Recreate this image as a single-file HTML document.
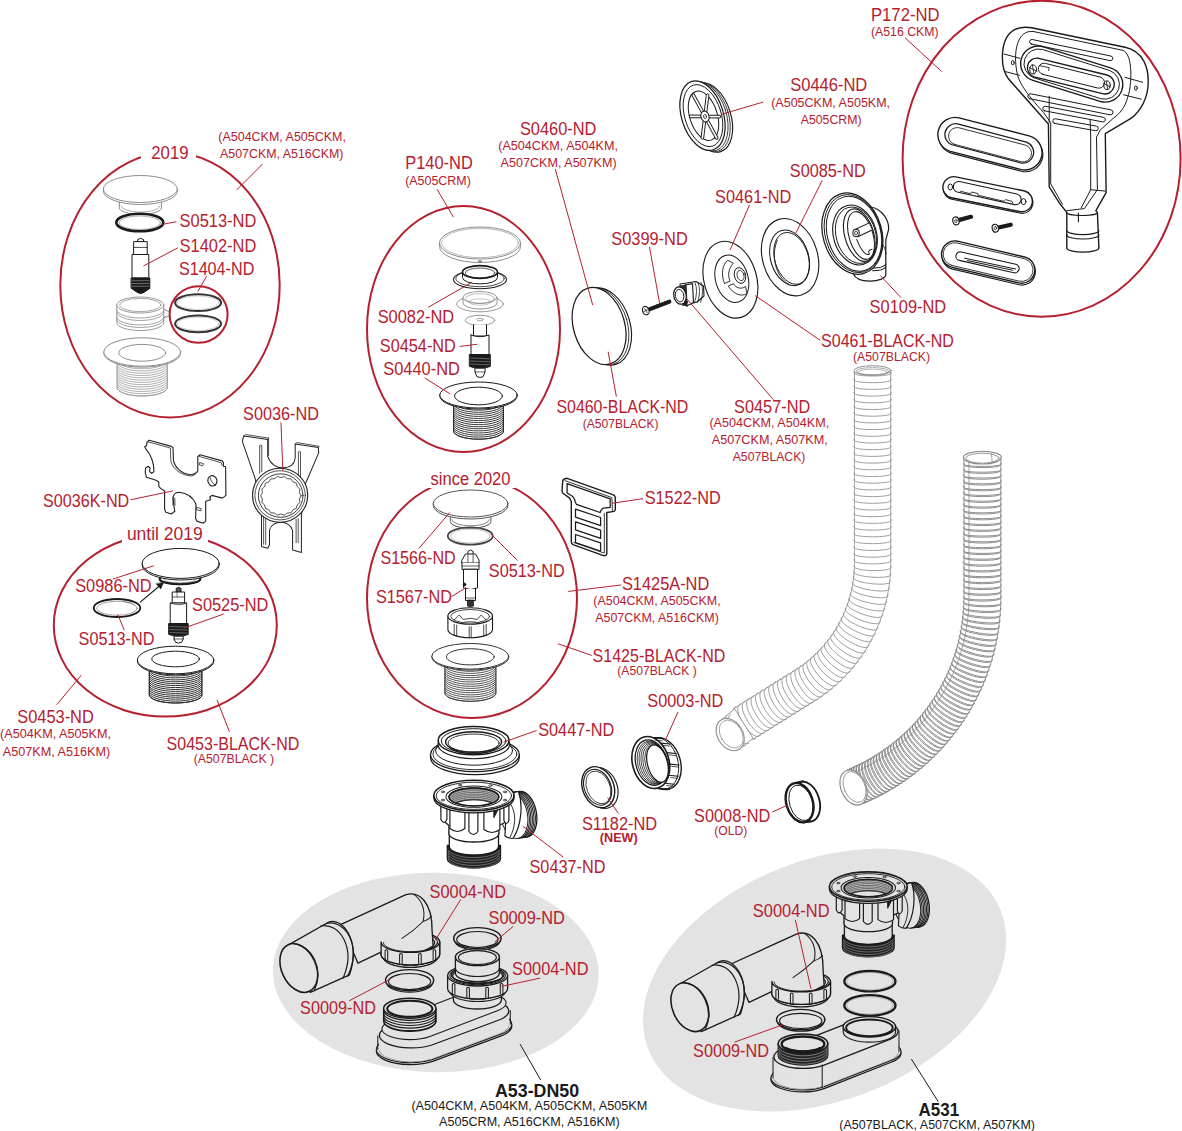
<!DOCTYPE html>
<html><head><meta charset="utf-8"><title>Exploded diagram</title>
<style>
html,body{margin:0;padding:0;background:#fff;}
body{width:1182px;height:1131px;overflow:hidden;font-family:"Liberation Sans",sans-serif;}
svg{display:block;font-family:"Liberation Sans",sans-serif;}
svg path, svg ellipse, svg line{stroke-linecap:round;stroke-linejoin:round;}
</style></head><body>
<svg width="1182" height="1131" viewBox="0 0 1182 1131">
<rect x="0" y="0" width="1182" height="1131" fill="#fff"/>
<ellipse cx="435.8" cy="972.5" rx="163" ry="99.7" stroke="none" stroke-width="0.0" fill="#e3e3e3" transform="rotate(1 435.8 972.5)"/>
<ellipse cx="824.6" cy="980.1" rx="189.3" ry="120.2" stroke="none" stroke-width="0.0" fill="#e3e3e3" transform="rotate(-21.4 824.6 980.1)"/>
<ellipse cx="170" cy="285" rx="109.7" ry="132.5" stroke="#b5202e" stroke-width="2.0" fill="none"/>
<rect x="141" y="145" width="55" height="18" fill="#fff"/>
<ellipse cx="198.6" cy="314.5" rx="29" ry="28.2" stroke="#b5202e" stroke-width="2.0" fill="none"/>
<ellipse cx="463.5" cy="329" rx="96.5" ry="123" stroke="#b5202e" stroke-width="2.0" fill="none"/>
<ellipse cx="472" cy="598" rx="105" ry="120" stroke="#b5202e" stroke-width="2.0" fill="none"/>
<rect x="426" y="470" width="89" height="18" fill="#fff"/>
<ellipse cx="165.3" cy="625.2" rx="111.5" ry="91.4" stroke="#b5202e" stroke-width="2.0" fill="none"/>
<rect x="122" y="527" width="86" height="18" fill="#fff"/>
<ellipse cx="1041.6" cy="158.7" rx="139" ry="158" stroke="#b5202e" stroke-width="2.0" fill="none"/>
<path d="M119.4 197.1 L119.4 207.8 A21 6.7 0 0 0 161.4 207.8 L161.4 197.1 Z" stroke="#8c8c8c" stroke-width="1.0" fill="#fff"/>
<path d="M120.9 205.8 A19.5 6.3 0 0 0 159.9 205.8" stroke="#8c8c8c" stroke-width="0.7" fill="none"/>
<path d="M103.4 189 L103.4 191 A37 13.5 0 0 0 177.4 191 L177.4 189 Z" stroke="#8c8c8c" stroke-width="1.0" fill="#fff"/>
<ellipse cx="140.4" cy="189" rx="37" ry="13.5" stroke="#8c8c8c" stroke-width="1.0" fill="#fff"/>
<ellipse cx="139.8" cy="222.5" rx="23.5" ry="8.8" stroke="#1a1a1a" stroke-width="2.6" fill="none"/>
<ellipse cx="139.8" cy="222.7" rx="20.5" ry="6.8" stroke="#777" stroke-width="0.6" fill="none"/>
<path d="M137.6 241.6 L137.6 239.6 Q140.6 237.1 143.6 239.6 L143.6 241.6 Z" stroke="#1a1a1a" stroke-width="1.0" fill="#fff"/>
<path d="M134 241.6 L147.2 241.6 L147.2 254.5 L134 254.5 Z" stroke="#1a1a1a" stroke-width="1.0" fill="#fff"/>
<line x1="134" y1="247.4" x2="147.2" y2="247.4" stroke="#1a1a1a" stroke-width="0.8"/>
<path d="M132.4 254.5 L148.8 254.5 L148.8 278 L132.4 278 Z" stroke="#1a1a1a" stroke-width="1.0" fill="#fff"/>
<path d="M131.4 278 L149.8 278 L149.8 288.4 L144.1 292.3 Q140.6 294.8 137.1 292.3 L131.4 288.4 Z" stroke="#1a1a1a" stroke-width="1.0" fill="#1a1a1a"/>
<line x1="132.4" y1="280.7" x2="148.8" y2="280.7" stroke="#bbb" stroke-width="0.5"/>
<line x1="132.4" y1="283.5" x2="148.8" y2="283.5" stroke="#bbb" stroke-width="0.5"/>
<line x1="132.4" y1="286.2" x2="148.8" y2="286.2" stroke="#bbb" stroke-width="0.5"/>
<path d="M116.8 305 L116.8 322.5 A23.5 8 0 0 0 163.8 322.5 L163.8 305 Z" stroke="#8c8c8c" stroke-width="0.9" fill="#fff"/>
<path d="M116.8 310 A23.5 8 0 0 0 163.8 310" stroke="#8c8c8c" stroke-width="0.8" fill="none"/>
<path d="M116.8 312.5 A23.5 8 0 0 0 163.8 312.5" stroke="#8c8c8c" stroke-width="0.8" fill="none"/>
<path d="M116.8 317 A23.5 8 0 0 0 163.8 317" stroke="#8c8c8c" stroke-width="0.8" fill="none"/>
<path d="M116.8 319.5 A23.5 8 0 0 0 163.8 319.5" stroke="#8c8c8c" stroke-width="0.8" fill="none"/>
<ellipse cx="140.3" cy="305" rx="23.5" ry="8" stroke="#8c8c8c" stroke-width="0.9" fill="#fff"/>
<ellipse cx="140.3" cy="305" rx="20.5" ry="6.6" stroke="#8c8c8c" stroke-width="0.8" fill="#fff"/>
<line x1="164" y1="309" x2="170" y2="312.5" stroke="#555" stroke-width="0.7"/>
<line x1="164" y1="317.5" x2="170" y2="316" stroke="#555" stroke-width="0.7"/>
<ellipse cx="198.1" cy="302.7" rx="23" ry="8.4" stroke="#333" stroke-width="2.0" fill="none"/>
<ellipse cx="198.1" cy="302.7" rx="20.6" ry="6.8" stroke="#999" stroke-width="0.5" fill="none"/>
<ellipse cx="198.1" cy="323.8" rx="23" ry="8.4" stroke="#333" stroke-width="2.0" fill="none"/>
<ellipse cx="198.1" cy="323.8" rx="20.6" ry="6.8" stroke="#999" stroke-width="0.5" fill="none"/>
<path d="M117 358 L117 387.5 A25.2 8.5 0 0 0 167.4 387.5 L167.4 358 Z" stroke="#8c8c8c" stroke-width="0.7" fill="#fff"/>
<path d="M117 358 A25.2 8.5 0 0 0 167.4 358" stroke="#8c8c8c" stroke-width="0.7" fill="none"/>
<path d="M117 360.3 A25.2 8.5 0 0 0 167.4 360.3" stroke="#8c8c8c" stroke-width="0.7" fill="none"/>
<path d="M117 362.5 A25.2 8.5 0 0 0 167.4 362.5" stroke="#8c8c8c" stroke-width="0.7" fill="none"/>
<path d="M117 364.8 A25.2 8.5 0 0 0 167.4 364.8" stroke="#8c8c8c" stroke-width="0.7" fill="none"/>
<path d="M117 367.1 A25.2 8.5 0 0 0 167.4 367.1" stroke="#8c8c8c" stroke-width="0.7" fill="none"/>
<path d="M117 369.3 A25.2 8.5 0 0 0 167.4 369.3" stroke="#8c8c8c" stroke-width="0.7" fill="none"/>
<path d="M117 371.6 A25.2 8.5 0 0 0 167.4 371.6" stroke="#8c8c8c" stroke-width="0.7" fill="none"/>
<path d="M117 373.9 A25.2 8.5 0 0 0 167.4 373.9" stroke="#8c8c8c" stroke-width="0.7" fill="none"/>
<path d="M117 376.2 A25.2 8.5 0 0 0 167.4 376.2" stroke="#8c8c8c" stroke-width="0.7" fill="none"/>
<path d="M117 378.4 A25.2 8.5 0 0 0 167.4 378.4" stroke="#8c8c8c" stroke-width="0.7" fill="none"/>
<path d="M117 380.7 A25.2 8.5 0 0 0 167.4 380.7" stroke="#8c8c8c" stroke-width="0.7" fill="none"/>
<path d="M117 383 A25.2 8.5 0 0 0 167.4 383" stroke="#8c8c8c" stroke-width="0.7" fill="none"/>
<path d="M117 385.2 A25.2 8.5 0 0 0 167.4 385.2" stroke="#8c8c8c" stroke-width="0.7" fill="none"/>
<path d="M117 387.5 A25.2 8.5 0 0 0 167.4 387.5" stroke="#8c8c8c" stroke-width="0.7" fill="none"/>
<path d="M103.8 352 L103.8 353 A38.4 14.2 0 0 0 180.6 353 L180.6 352 Z" stroke="#8c8c8c" stroke-width="1.0" fill="#fff"/>
<ellipse cx="142.2" cy="352" rx="38.4" ry="14.2" stroke="#8c8c8c" stroke-width="1.0" fill="#fff"/>
<ellipse cx="142.2" cy="352.8" rx="23.4" ry="8.4" stroke="#8c8c8c" stroke-width="1.0" fill="#fff"/>
<path d="M439.5 243 L439.5 246.5 A40.5 16 0 0 0 520.5 246.5 L520.5 243 Z" stroke="#8c8c8c" stroke-width="1.0" fill="#fff"/>
<ellipse cx="480" cy="243" rx="40.5" ry="16" stroke="#8c8c8c" stroke-width="1.0" fill="#fff"/>
<ellipse cx="480" cy="243" rx="38.3" ry="14.6" stroke="#8c8c8c" stroke-width="0.6" fill="none"/>
<ellipse cx="480" cy="261.5" rx="1.6" ry="1" stroke="#777" stroke-width="0.8" fill="#999"/>
<ellipse cx="480" cy="279.5" rx="26.5" ry="9.2" stroke="#1a1a1a" stroke-width="1.1" fill="#fff"/>
<ellipse cx="480" cy="278.5" rx="24.2" ry="8.2" stroke="#1a1a1a" stroke-width="0.8" fill="none"/>
<path d="M462.5 272 L462.5 277.5 A17.5 6.4 0 0 0 497.5 277.5 L497.5 272 Z" stroke="#1a1a1a" stroke-width="1.0" fill="#fff"/>
<ellipse cx="480" cy="272" rx="17.5" ry="6.4" stroke="#1a1a1a" stroke-width="1.6" fill="#fff"/>
<ellipse cx="480" cy="273" rx="14.8" ry="5" stroke="#1a1a1a" stroke-width="0.7" fill="none"/>
<ellipse cx="480" cy="304" rx="23.3" ry="7.8" stroke="#8c8c8c" stroke-width="0.9" fill="#fff"/>
<path d="M463 297.5 L463 303 A17 6 0 0 0 497 303 L497 297.5 Z" stroke="#8c8c8c" stroke-width="0.9" fill="#fff"/>
<ellipse cx="480" cy="297.5" rx="17" ry="6" stroke="#8c8c8c" stroke-width="0.9" fill="#fff"/>
<ellipse cx="480" cy="298.5" rx="14.5" ry="4.8" stroke="#8c8c8c" stroke-width="0.6" fill="none"/>
<ellipse cx="480" cy="302" rx="11" ry="3.2" stroke="#8c8c8c" stroke-width="0.5" fill="none"/>
<ellipse cx="480" cy="320.3" rx="14.8" ry="5" stroke="#8c8c8c" stroke-width="0.9" fill="#fff"/>
<ellipse cx="480" cy="319.6" rx="3.4" ry="1.3" stroke="#8c8c8c" stroke-width="0.8" fill="none"/>
<path d="M473.5 325 L473.5 336 L486.5 336 L486.5 325" stroke="#1a1a1a" stroke-width="1.0" fill="#fff"/>
<path d="M471 335 L471 355 L489 355 L489 335 Q480 338.5 471 335 Z" stroke="#1a1a1a" stroke-width="1.0" fill="#fff"/>
<path d="M469.7 354.5 L490.3 354.5 L490.3 366.5 Q480 370 469.7 366.5 Z" stroke="#1a1a1a" stroke-width="1.0" fill="#1a1a1a"/>
<line x1="470.5" y1="358" x2="489.5" y2="358.8" stroke="#aaa" stroke-width="0.5"/>
<line x1="470.5" y1="361" x2="489.5" y2="361.8" stroke="#aaa" stroke-width="0.5"/>
<line x1="470.5" y1="364" x2="489.5" y2="364.8" stroke="#aaa" stroke-width="0.5"/>
<path d="M475 368.5 L475 372 L476.8 376.5 Q480 378.5 483.2 376.5 L485 372 L485 368.5 Z" stroke="#1a1a1a" stroke-width="1.0" fill="#fff"/>
<line x1="475" y1="372" x2="485" y2="372" stroke="#1a1a1a" stroke-width="0.7"/>
<path d="M453.5 402 L453.5 431 A25 8.2 0 0 0 503.5 431 L503.5 402 Z" stroke="#222" stroke-width="0.9" fill="#fff"/>
<path d="M453.5 402 A25 8.2 0 0 0 503.5 402" stroke="#222" stroke-width="0.9" fill="none"/>
<path d="M453.5 404.1 A25 8.2 0 0 0 503.5 404.1" stroke="#222" stroke-width="0.9" fill="none"/>
<path d="M453.5 406.1 A25 8.2 0 0 0 503.5 406.1" stroke="#222" stroke-width="0.9" fill="none"/>
<path d="M453.5 408.2 A25 8.2 0 0 0 503.5 408.2" stroke="#222" stroke-width="0.9" fill="none"/>
<path d="M453.5 410.3 A25 8.2 0 0 0 503.5 410.3" stroke="#222" stroke-width="0.9" fill="none"/>
<path d="M453.5 412.4 A25 8.2 0 0 0 503.5 412.4" stroke="#222" stroke-width="0.9" fill="none"/>
<path d="M453.5 414.4 A25 8.2 0 0 0 503.5 414.4" stroke="#222" stroke-width="0.9" fill="none"/>
<path d="M453.5 416.5 A25 8.2 0 0 0 503.5 416.5" stroke="#222" stroke-width="0.9" fill="none"/>
<path d="M453.5 418.6 A25 8.2 0 0 0 503.5 418.6" stroke="#222" stroke-width="0.9" fill="none"/>
<path d="M453.5 420.6 A25 8.2 0 0 0 503.5 420.6" stroke="#222" stroke-width="0.9" fill="none"/>
<path d="M453.5 422.7 A25 8.2 0 0 0 503.5 422.7" stroke="#222" stroke-width="0.9" fill="none"/>
<path d="M453.5 424.8 A25 8.2 0 0 0 503.5 424.8" stroke="#222" stroke-width="0.9" fill="none"/>
<path d="M453.5 426.9 A25 8.2 0 0 0 503.5 426.9" stroke="#222" stroke-width="0.9" fill="none"/>
<path d="M453.5 428.9 A25 8.2 0 0 0 503.5 428.9" stroke="#222" stroke-width="0.9" fill="none"/>
<path d="M453.5 431 A25 8.2 0 0 0 503.5 431" stroke="#222" stroke-width="0.9" fill="none"/>
<path d="M439.8 395 L439.8 396 A38.7 13 0 0 0 517.2 396 L517.2 395 Z" stroke="#1a1a1a" stroke-width="1.0" fill="#fff"/>
<ellipse cx="478.5" cy="395" rx="38.7" ry="13" stroke="#1a1a1a" stroke-width="1.0" fill="#fff"/>
<ellipse cx="478.5" cy="396" rx="23.9" ry="8.8" stroke="#1a1a1a" stroke-width="1.0" fill="#fff"/>
<path d="M450.3 511.6 L450.3 521.7 A20.3 6.5 0 0 0 490.9 521.7 L490.9 511.6 Z" stroke="#555" stroke-width="1.0" fill="#fff"/>
<path d="M451.8 519.7 A18.8 6.1 0 0 0 489.4 519.7" stroke="#555" stroke-width="0.7" fill="none"/>
<path d="M433.3 503.5 L433.3 505.5 A37.3 13.5 0 0 0 507.9 505.5 L507.9 503.5 Z" stroke="#555" stroke-width="1.0" fill="#fff"/>
<ellipse cx="470.6" cy="503.5" rx="37.3" ry="13.5" stroke="#555" stroke-width="1.0" fill="#fff"/>
<ellipse cx="470.3" cy="536" rx="22.5" ry="8.6" stroke="#444" stroke-width="1.7" fill="none"/>
<ellipse cx="470.3" cy="536" rx="20" ry="7" stroke="#888" stroke-width="0.5" fill="none"/>
<path d="M467.9 556 L467.9 551.5 Q470.5 548.5 473.1 551.5 L473.1 556 Z" stroke="#1a1a1a" stroke-width="1.0" fill="#fff"/>
<path d="M462 560 L465.5 554 L475.5 554 L479 560 L479 563 L462 563 Z" stroke="#1a1a1a" stroke-width="1.0" fill="#fff"/>
<line x1="467.9" y1="555" x2="467.9" y2="562" stroke="#1a1a1a" stroke-width="0.7"/>
<line x1="473.1" y1="555" x2="473.1" y2="562" stroke="#1a1a1a" stroke-width="0.7"/>
<path d="M462 563 L462 569.5 L479 569.5 L479 563" stroke="#1a1a1a" stroke-width="1.0" fill="#fff"/>
<line x1="462" y1="566" x2="479" y2="566" stroke="#1a1a1a" stroke-width="0.7"/>
<path d="M463.5 569.5 L463.5 588 Q470.5 591 477.5 588 L477.5 569.5 Z" stroke="#1a1a1a" stroke-width="1.0" fill="#fff"/>
<ellipse cx="464.5" cy="584.5" rx="1.3" ry="1.6" stroke="#1a1a1a" stroke-width="0.8" fill="#1a1a1a"/>
<path d="M465.5 589 L465.5 600.5 L475.5 600.5 L475.5 589" stroke="#1a1a1a" stroke-width="1.0" fill="#fff"/>
<line x1="465.5" y1="598" x2="475.5" y2="598" stroke="#1a1a1a" stroke-width="0.7"/>
<path d="M467.5 600.5 L467.5 606 Q470.5 607.5 473.5 606 L473.5 600.5 Z" stroke="#1a1a1a" stroke-width="0.8" fill="#333"/>
<path d="M447.9 616 L447.9 629.5 A22.3 8.3 0 0 0 492.5 629.5 L492.5 616 Z" stroke="#1a1a1a" stroke-width="1.1" fill="#fff"/>
<ellipse cx="470.2" cy="616" rx="22.3" ry="8.3" stroke="#1a1a1a" stroke-width="1.1" fill="#fff"/>
<ellipse cx="470.2" cy="616.3" rx="19.5" ry="6.8" stroke="#1a1a1a" stroke-width="0.8" fill="none"/>
<path d="M454.2 620 L459.2 615 L463.2 619.5 Q470.2 617 477.2 619.5 L481.2 615 L486.2 620" stroke="#1a1a1a" stroke-width="0.8" fill="none"/>
<path d="M461.2 623 Q470.2 620 479.2 623" stroke="#1a1a1a" stroke-width="0.6" fill="none"/>
<line x1="454.2" y1="624.3" x2="454.2" y2="635.3" stroke="#1a1a1a" stroke-width="0.8"/>
<line x1="456.7" y1="625.1" x2="456.7" y2="636.1" stroke="#1a1a1a" stroke-width="0.8"/>
<line x1="469.2" y1="626.8" x2="469.2" y2="637.8" stroke="#1a1a1a" stroke-width="0.8"/>
<line x1="471.2" y1="626.8" x2="471.2" y2="637.8" stroke="#1a1a1a" stroke-width="0.8"/>
<line x1="483.7" y1="625.1" x2="483.7" y2="636.1" stroke="#1a1a1a" stroke-width="0.8"/>
<line x1="486.2" y1="624.3" x2="486.2" y2="635.3" stroke="#1a1a1a" stroke-width="0.8"/>
<path d="M444.8 663 L444.8 693 A25.6 8.3 0 0 0 496 693 L496 663 Z" stroke="#333" stroke-width="0.85" fill="#fff"/>
<path d="M444.8 663 A25.6 8.3 0 0 0 496 663" stroke="#333" stroke-width="0.85" fill="none"/>
<path d="M444.8 665.1 A25.6 8.3 0 0 0 496 665.1" stroke="#333" stroke-width="0.85" fill="none"/>
<path d="M444.8 667.3 A25.6 8.3 0 0 0 496 667.3" stroke="#333" stroke-width="0.85" fill="none"/>
<path d="M444.8 669.4 A25.6 8.3 0 0 0 496 669.4" stroke="#333" stroke-width="0.85" fill="none"/>
<path d="M444.8 671.6 A25.6 8.3 0 0 0 496 671.6" stroke="#333" stroke-width="0.85" fill="none"/>
<path d="M444.8 673.7 A25.6 8.3 0 0 0 496 673.7" stroke="#333" stroke-width="0.85" fill="none"/>
<path d="M444.8 675.9 A25.6 8.3 0 0 0 496 675.9" stroke="#333" stroke-width="0.85" fill="none"/>
<path d="M444.8 678 A25.6 8.3 0 0 0 496 678" stroke="#333" stroke-width="0.85" fill="none"/>
<path d="M444.8 680.1 A25.6 8.3 0 0 0 496 680.1" stroke="#333" stroke-width="0.85" fill="none"/>
<path d="M444.8 682.3 A25.6 8.3 0 0 0 496 682.3" stroke="#333" stroke-width="0.85" fill="none"/>
<path d="M444.8 684.4 A25.6 8.3 0 0 0 496 684.4" stroke="#333" stroke-width="0.85" fill="none"/>
<path d="M444.8 686.6 A25.6 8.3 0 0 0 496 686.6" stroke="#333" stroke-width="0.85" fill="none"/>
<path d="M444.8 688.7 A25.6 8.3 0 0 0 496 688.7" stroke="#333" stroke-width="0.85" fill="none"/>
<path d="M444.8 690.9 A25.6 8.3 0 0 0 496 690.9" stroke="#333" stroke-width="0.85" fill="none"/>
<path d="M444.8 693 A25.6 8.3 0 0 0 496 693" stroke="#333" stroke-width="0.85" fill="none"/>
<path d="M431.9 656.3 L431.9 657.3 A38.4 12.8 0 0 0 508.7 657.3 L508.7 656.3 Z" stroke="#333" stroke-width="1.0" fill="#fff"/>
<ellipse cx="470.3" cy="656.3" rx="38.4" ry="12.8" stroke="#333" stroke-width="1.0" fill="#fff"/>
<ellipse cx="470.3" cy="656.8" rx="23.9" ry="8.1" stroke="#333" stroke-width="1.0" fill="#fff"/>
<ellipse cx="180" cy="579" rx="20.3" ry="5.2" stroke="#1a1a1a" stroke-width="2.2" fill="#fff"/>
<ellipse cx="180" cy="579.5" rx="16" ry="3.4" stroke="#777" stroke-width="0.6" fill="none"/>
<path d="M142.2 563.4 L142.2 565 A38.5 15 0 0 0 219.2 565 L219.2 563.4 Z" stroke="#1a1a1a" stroke-width="1.0" fill="#fff"/>
<ellipse cx="180.7" cy="563.4" rx="38.5" ry="15" stroke="#1a1a1a" stroke-width="1.0" fill="#fff"/>
<ellipse cx="117" cy="608" rx="23.3" ry="9" stroke="#1a1a1a" stroke-width="1.8" fill="#fff"/>
<ellipse cx="117" cy="608.3" rx="20.3" ry="7" stroke="#666" stroke-width="0.6" fill="none"/>
<path d="M124 601.5 L131.5 603 L134 604.8" stroke="#555" stroke-width="0.6" fill="none"/>
<path d="M176.2 592 L176.2 588.5 Q178.6 586 181 588.5 L181 592 Z" stroke="#1a1a1a" stroke-width="1.0" fill="#555"/>
<path d="M172.6 592 L184.6 592 L184.6 603 L172.6 603 Z" stroke="#1a1a1a" stroke-width="1.0" fill="#fff"/>
<line x1="172.6" y1="597" x2="184.6" y2="597" stroke="#1a1a1a" stroke-width="0.7"/>
<line x1="177.1" y1="592" x2="177.1" y2="597" stroke="#1a1a1a" stroke-width="0.6"/>
<path d="M170.6 603 L186.6 603 L186.6 623.5 L170.6 623.5 Z" stroke="#1a1a1a" stroke-width="1.0" fill="#fff"/>
<path d="M170.6 603 Q178.6 606.5 186.6 603" stroke="#1a1a1a" stroke-width="0.7" fill="none"/>
<path d="M169 623.5 L188.2 623.5 L188.2 634.5 Q178.6 638 169 634.5 Z" stroke="#1a1a1a" stroke-width="1.0" fill="#1a1a1a"/>
<line x1="169.8" y1="626.5" x2="187.4" y2="627.1" stroke="#aaa" stroke-width="0.5"/>
<line x1="169.8" y1="629.5" x2="187.4" y2="630.1" stroke="#aaa" stroke-width="0.5"/>
<line x1="169.8" y1="632.5" x2="187.4" y2="633.1" stroke="#aaa" stroke-width="0.5"/>
<path d="M174 636.5 L174 639 L175.6 642.3 Q178.6 643.8 181.6 642.3 L183.2 639 L183.2 636.5 Z" stroke="#1a1a1a" stroke-width="1.0" fill="#fff"/>
<line x1="174" y1="639" x2="183.2" y2="639" stroke="#1a1a1a" stroke-width="0.7"/>
<path d="M149.2 668 L149.2 695 A26.4 8 0 0 0 202 695 L202 668 Z" stroke="#222" stroke-width="0.95" fill="#fff"/>
<path d="M149.2 668 A26.4 8 0 0 0 202 668" stroke="#222" stroke-width="0.95" fill="none"/>
<path d="M149.2 669.9 A26.4 8 0 0 0 202 669.9" stroke="#222" stroke-width="0.95" fill="none"/>
<path d="M149.2 671.9 A26.4 8 0 0 0 202 671.9" stroke="#222" stroke-width="0.95" fill="none"/>
<path d="M149.2 673.8 A26.4 8 0 0 0 202 673.8" stroke="#222" stroke-width="0.95" fill="none"/>
<path d="M149.2 675.7 A26.4 8 0 0 0 202 675.7" stroke="#222" stroke-width="0.95" fill="none"/>
<path d="M149.2 677.6 A26.4 8 0 0 0 202 677.6" stroke="#222" stroke-width="0.95" fill="none"/>
<path d="M149.2 679.6 A26.4 8 0 0 0 202 679.6" stroke="#222" stroke-width="0.95" fill="none"/>
<path d="M149.2 681.5 A26.4 8 0 0 0 202 681.5" stroke="#222" stroke-width="0.95" fill="none"/>
<path d="M149.2 683.4 A26.4 8 0 0 0 202 683.4" stroke="#222" stroke-width="0.95" fill="none"/>
<path d="M149.2 685.4 A26.4 8 0 0 0 202 685.4" stroke="#222" stroke-width="0.95" fill="none"/>
<path d="M149.2 687.3 A26.4 8 0 0 0 202 687.3" stroke="#222" stroke-width="0.95" fill="none"/>
<path d="M149.2 689.2 A26.4 8 0 0 0 202 689.2" stroke="#222" stroke-width="0.95" fill="none"/>
<path d="M149.2 691.1 A26.4 8 0 0 0 202 691.1" stroke="#222" stroke-width="0.95" fill="none"/>
<path d="M149.2 693.1 A26.4 8 0 0 0 202 693.1" stroke="#222" stroke-width="0.95" fill="none"/>
<path d="M149.2 695 A26.4 8 0 0 0 202 695" stroke="#222" stroke-width="0.95" fill="none"/>
<path d="M137.4 660 L137.4 661 A38.2 13.8 0 0 0 213.8 661 L213.8 660 Z" stroke="#1a1a1a" stroke-width="1.0" fill="#fff"/>
<ellipse cx="175.6" cy="660" rx="38.2" ry="13.8" stroke="#1a1a1a" stroke-width="1.0" fill="#fff"/>
<ellipse cx="175.6" cy="659" rx="23.8" ry="7.8" stroke="#1a1a1a" stroke-width="1.0" fill="#fff"/>
<path d="M 149.1 440.2 L 171.3 446.4 L 173 447.7 L 173.5 460.9 C 174.8 467.1 181 473.3 189.8 474.7 C 193.4 474.7 196 473.3 197.8 470.7 L 197.8 456.5 L 200 454.8 L 222.1 460.9 L 223.4 462.3 L 223.4 466.3 L 225.6 466.7 L 225.9 495.4 L 222.5 498.1 L 211.9 495.4 L 209.7 497.2 L 210.6 499.8 L 205.7 501.2 L 205.7 521.1 L 203.1 523.3 L 196.9 521.1 L 195.6 518.4 L 196 504.3 C 193.4 498.1 187.2 493.2 179.2 492.3 C 176.6 492.3 173.9 494.1 173 497.2 L 173.9 506 L 174.8 511.3 L 171.3 514 L 165.9 512.2 L 164.6 509.6 L 164.6 491 L 160.6 488.4 L 158.9 486.6 L 158.7 481.7 L 155.3 480 L 146.5 477.3 L 145.2 472.4 L 145.6 468 L 148.3 466.3 L 150 468 L 149.6 471.6 L 151.8 473.3 L 154 471.6 C 154 463.6 151.8 455.6 145.6 448.6 L 144.7 446.8 L 146.5 445.5 L 146.9 442.4 Z" stroke="#222" stroke-width="1.12" fill="#fff"/>
<path d="M 148.3 441.9 L 170.4 448.1 L 170.8 460.9 C 172.6 468.9 181 475.5 191.6 476 C 194.2 475.5 196.5 473.8 197.3 472 M 199.5 456.5 L 221.2 462.7 L 222.1 465.4" stroke="#222" stroke-width="0.78" fill="none"/>
<path d="M 173 497.2 L 173 505.2 M 174.8 498.1 L 175 505.2" stroke="#222" stroke-width="0.78" fill="none"/>
<ellipse cx="212.4" cy="480.8" rx="4.5" ry="5.2" stroke="#222" stroke-width="1.12" fill="#fff" transform="rotate(-15 212.4 480.8)"/>
<path d="M 210.2 477.7 C 211 481.3 212.8 483.9 215.5 485.3" stroke="#222" stroke-width="0.78" fill="none"/>
<path d="M 200 462.7 L 203.5 463.6 L 202.6 465.8 L 199.5 464.9 Z M 196.9 507.4 L 201.3 508.7 L 200.9 510.9 L 196.5 509.6 Z" stroke="#222" stroke-width="0.78" fill="none"/>
<path d="M 243.7 436 L 267.7 439.5 L 267.7 456.4 C 270.3 464.4 277.5 468 281 467.6 C 289.9 468.3 294.3 464.4 295.2 458.2 L 295.2 444 L 318.3 447.5 L 318.7 452.9 L 305 484.8 L 301.4 515.9 L 301.4 552.4 L 292.6 550 L 292.6 530.5 C 289.9 519.5 272.1 519.5 269.5 530.1 L 269.5 544.7 L 267.7 548.3 L 261.5 546.5 L 261.5 512.4 L 255.2 478.6 L 242.3 441.3 Z" stroke="#222" stroke-width="1.01" fill="#fff"/>
<path d="M 243.7 436 L 245.8 434.6 L 268.6 438.1 L 267.7 439.5 M 295.2 444 L 297 442.6 L 319.2 446.3 L 318.3 447.5 M 268.6 438.1 L 268.6 455.5" stroke="#222" stroke-width="0.78" fill="none"/>
<path d="M 259.7 445.8 L 259.7 473.3 M 261.8 445.8 L 261.8 471.5 M 259.7 445.8 Q 260.8 444 261.8 445.8" stroke="#222" stroke-width="0.78" fill="none"/>
<path d="M 298.4 452 L 298.4 478.6 M 300.5 452 L 300.5 480.4 M 298.4 452 Q 299.5 450.2 300.5 452" stroke="#222" stroke-width="0.78" fill="none"/>
<path d="M 263.6 514.2 L 263.6 544.4 M 265.7 515.9 L 265.7 544.4 M 296.1 519.5 L 296.1 542.6 M 298.2 518.6 L 298.2 542.6" stroke="#222" stroke-width="0.78" fill="none"/>
<ellipse cx="280.1" cy="495.3" rx="27.6" ry="27" stroke="#222" stroke-width="1.12" fill="#fff"/>
<ellipse cx="280.1" cy="495.3" rx="25.2" ry="24.6" stroke="#222" stroke-width="0.78" fill="none"/>
<ellipse cx="280.7" cy="495.6" rx="22.3" ry="21.7" stroke="#222" stroke-width="0.9" fill="#fff"/>
<path d="M301.1 495.8 L299.4 499 L299.9 502.5 L297.2 504.9 L296.4 508.4 L293 509.8 L291 512.8 L287.3 513 L284.4 515.1 L280.9 514.1 L277.4 515.1 L274.5 513 L270.8 512.8 L268.8 509.8 L265.4 508.4 L264.6 504.9 L261.9 502.5 L262.4 499 L260.7 495.8 L262.4 492.7 L261.9 489.1 L264.6 486.7 L265.4 483.2 L268.8 481.9 L270.8 478.9 L274.5 478.7 L277.4 476.5 L280.9 477.6 L284.4 476.5 L287.3 478.7 L291 478.9 L293 481.9 L296.4 483.2 L297.2 486.7 L299.9 489.1 L299.4 492.7 L301.1 495.8 Z" stroke="#222" stroke-width="0.78" fill="#fff"/>
<ellipse cx="604.6" cy="326.5" rx="25.6" ry="39.5" stroke="#1a1a1a" stroke-width="1.12" fill="#fff" transform="rotate(-16.4 604.6 326.5)"/>
<ellipse cx="602" cy="326.3" rx="25.6" ry="39.5" stroke="#1a1a1a" stroke-width="0.78" fill="#fff" transform="rotate(-16.4 602 326.3)"/>
<ellipse cx="599.1" cy="326" rx="25.6" ry="39.5" stroke="#1a1a1a" stroke-width="1.23" fill="#fff" transform="rotate(-16.4 599.1 326)"/>
<path d="M648 309.8 L669.4 301.7" stroke="#1a1a1a" stroke-width="4.03" fill="none" stroke-linecap="butt"/>
<path d="M648 309.8 L668.8 301.9" stroke="#fff" stroke-width="2.24" fill="none" stroke-linecap="butt"/>
<path d="M649.5 309.2 L669.2 301.8" stroke="#1a1a1a" stroke-width="3.36" fill="none" stroke-dasharray="0.7 1.15" stroke-linecap="butt"/>
<ellipse cx="645.8" cy="310.6" rx="3.2" ry="4.3" stroke="#1a1a1a" stroke-width="1.12" fill="#fff" transform="rotate(-20 645.8 310.6)"/>
<path d="M644.6 308.4 L647 312.8 M643.8 311.4 L647.8 309.8" stroke="#1a1a1a" stroke-width="0.78" fill="none"/>
<path d="M680 284 L696 281.5 L703.5 286 L704 296 L697 302 L683 305.5 Z" stroke="#1a1a1a" stroke-width="1.12" fill="#fff"/>
<path d="M695 282.5 Q698.5 291 694.5 302.5" stroke="#1a1a1a" stroke-width="0.78" fill="none"/>
<path d="M698 282.5 Q701.5 291 697.5 302.5" stroke="#1a1a1a" stroke-width="0.78" fill="none"/>
<path d="M701 282.5 Q704.5 291 700.5 302.5" stroke="#1a1a1a" stroke-width="0.78" fill="none"/>
<path d="M685 285 L692.5 283.6 L693.5 302.5 L686.5 306 Z" stroke="#1a1a1a" stroke-width="1.12" fill="#fff"/>
<path d="M679 286.5 L686 285 L687 306 L681 302.5 Z" stroke="#1a1a1a" stroke-width="1.12" fill="#333"/>
<ellipse cx="680" cy="295.5" rx="6.2" ry="8.8" stroke="#1a1a1a" stroke-width="1.23" fill="#fff" transform="rotate(-12 680 295.5)"/>
<ellipse cx="679.6" cy="295.6" rx="4.2" ry="6.3" stroke="#1a1a1a" stroke-width="0.9" fill="#fff" transform="rotate(-12 679.6 295.6)"/>
<ellipse cx="686" cy="302" rx="1.5" ry="1.8" stroke="#1a1a1a" stroke-width="0.56" fill="#1a1a1a"/>
<ellipse cx="730.4" cy="279.7" rx="26.3" ry="39.2" stroke="#1a1a1a" stroke-width="1.12" fill="#fff" transform="rotate(-15.9 730.4 279.7)"/>
<ellipse cx="731.8" cy="278.8" rx="16.3" ry="24.2" stroke="#1a1a1a" stroke-width="1.01" fill="#fff" transform="rotate(-15.9 731.8 278.8)"/>
<path d="M727.5 260.5 C722 265 721 275 724.5 283.5 L730 281 C727.5 275 728.5 268.5 733 263.5 Z" stroke="#1a1a1a" stroke-width="0.9" fill="#fff"/>
<path d="M728.5 286.5 C733 293.5 741 297.5 747 293.5 L745.5 286.5 C741 290 735.5 287.5 733.5 284 Z" stroke="#1a1a1a" stroke-width="0.9" fill="#fff"/>
<ellipse cx="740" cy="275.5" rx="5.6" ry="8" stroke="#1a1a1a" stroke-width="0.9" fill="#fff" transform="rotate(-15.9 740 275.5)"/>
<ellipse cx="740.6" cy="275.5" rx="3.4" ry="5.2" stroke="#1a1a1a" stroke-width="0.78" fill="none" transform="rotate(-15.9 740.6 275.5)"/>
<ellipse cx="790.1" cy="257.2" rx="27.5" ry="39.5" stroke="#1a1a1a" stroke-width="1.12" fill="#fff" transform="rotate(-16.7 790.1 257.2)"/>
<ellipse cx="789.6" cy="257.8" rx="19" ry="28.5" stroke="#1a1a1a" stroke-width="1.01" fill="#fff" transform="rotate(-16.7 789.6 257.8)"/>
<path d="M777.5 240 C770 256 776 277 789 284.5" stroke="#1a1a1a" stroke-width="0.9" fill="none"/>
<ellipse cx="791.6" cy="258.4" rx="16.8" ry="26.6" stroke="#1a1a1a" stroke-width="0.9" fill="none" transform="rotate(-16.7 791.6 258.4)"/>
<path d="M 869.4 206.5 C 882.1 208.6 889.5 220.3 888.5 229.8 L 885.8 239.9 L 885.8 274.9 C 884.2 282.3 857.7 284.5 853.3 273.8 L 850.3 254.2 Z" stroke="#1a1a1a" stroke-width="1.23" fill="#fff"/>
<path d="M 873.6 268 C 878.9 268 884.2 266.4 885.8 264.3 M 872.6 270.7 C 878.9 270.7 884.2 269.1 885.8 267" stroke="#1a1a1a" stroke-width="1.01" fill="none"/>
<path d="M 877.9 239.4 C 883.2 243.6 885.8 248.9 885.9 254.2" stroke="#1a1a1a" stroke-width="0.9" fill="none"/>
<ellipse cx="852.4" cy="233.6" rx="29.4" ry="41.4" stroke="#1a1a1a" stroke-width="1.23" fill="#fff" transform="rotate(-16.3 852.4 233.6)"/>
<ellipse cx="853.2" cy="233.6" rx="28" ry="39.8" stroke="#1a1a1a" stroke-width="0.9" fill="none" transform="rotate(-16.3 853.2 233.6)"/>
<ellipse cx="854" cy="233.8" rx="26.6" ry="38.2" stroke="#1a1a1a" stroke-width="1.01" fill="none" transform="rotate(-16.3 854 233.8)"/>
<ellipse cx="855" cy="235" rx="21.5" ry="30.5" stroke="#1a1a1a" stroke-width="1.12" fill="#fff" transform="rotate(-16.3 855 235)"/>
<ellipse cx="856" cy="235.2" rx="19.8" ry="28.8" stroke="#1a1a1a" stroke-width="0.9" fill="none" transform="rotate(-16.3 856 235.2)"/>
<ellipse cx="859.3" cy="235.1" rx="14.5" ry="27" stroke="#1a1a1a" stroke-width="1.12" fill="#fff" transform="rotate(-16.3 859.3 235.1)"/>
<ellipse cx="861" cy="235.5" rx="12" ry="24.6" stroke="#1a1a1a" stroke-width="1.01" fill="#fff" transform="rotate(-16.3 861 235.5)"/>
<path d="M 854.5 229.8 L 869.4 222.9 L 872.6 229.8 L 857.7 236.7" stroke="#1a1a1a" stroke-width="1.01" fill="#fff"/>
<ellipse cx="856.1" cy="233" rx="3.2" ry="3.8" stroke="#1a1a1a" stroke-width="1.01" fill="#fff"/>
<ellipse cx="856.1" cy="233" rx="1.5" ry="1.9" stroke="#1a1a1a" stroke-width="0.78" fill="none"/>
<path d="M 856.7 239.4 C 859.8 247.9 865.1 256.4 869.4 254.2 C 867.8 252.1 869.4 248.9 872 249.5" stroke="#1a1a1a" stroke-width="1.01" fill="none"/>
<ellipse cx="710" cy="117.5" rx="20.9" ry="35.8" stroke="#1a1a1a" stroke-width="1.12" fill="#fff" transform="rotate(-17.5 710 117.5)"/>
<ellipse cx="707.7" cy="116.9" rx="20.9" ry="35.8" stroke="#1a1a1a" stroke-width="0.78" fill="#fff" transform="rotate(-17.5 707.7 116.9)"/>
<ellipse cx="705.5" cy="116.3" rx="20.9" ry="35.8" stroke="#1a1a1a" stroke-width="0.78" fill="#fff" transform="rotate(-17.5 705.5 116.3)"/>
<ellipse cx="702.5" cy="115.6" rx="20.9" ry="35.8" stroke="#1a1a1a" stroke-width="1.23" fill="#fff" transform="rotate(-17.5 702.5 115.6)"/>
<ellipse cx="703" cy="115.6" rx="18.2" ry="32" stroke="#1a1a1a" stroke-width="0.9" fill="none" transform="rotate(-17.5 703 115.6)"/>
<ellipse cx="703.5" cy="115.8" rx="13.8" ry="25.5" stroke="#1a1a1a" stroke-width="1.01" fill="none" transform="rotate(-17.5 703.5 115.8)"/>
<path d="M705 116.5 L719.3 116.6" stroke="#1a1a1a" stroke-width="3.58" fill="none"/>
<path d="M705 116.5 L719.3 116.6" stroke="#fff" stroke-width="1.68" fill="none"/>
<path d="M705 116.5 L716.7 137.9" stroke="#1a1a1a" stroke-width="3.58" fill="none"/>
<path d="M705 116.5 L716.7 137.9" stroke="#fff" stroke-width="1.68" fill="none"/>
<path d="M705 116.5 L702.4 137.8" stroke="#1a1a1a" stroke-width="3.58" fill="none"/>
<path d="M705 116.5 L702.4 137.8" stroke="#fff" stroke-width="1.68" fill="none"/>
<path d="M705 116.5 L690.7 116.4" stroke="#1a1a1a" stroke-width="3.58" fill="none"/>
<path d="M705 116.5 L690.7 116.4" stroke="#fff" stroke-width="1.68" fill="none"/>
<path d="M705 116.5 L693.3 95.1" stroke="#1a1a1a" stroke-width="3.58" fill="none"/>
<path d="M705 116.5 L693.3 95.1" stroke="#fff" stroke-width="1.68" fill="none"/>
<path d="M705 116.5 L707.6 95.2" stroke="#1a1a1a" stroke-width="3.58" fill="none"/>
<path d="M705 116.5 L707.6 95.2" stroke="#fff" stroke-width="1.68" fill="none"/>
<ellipse cx="705" cy="116.5" rx="4" ry="5.6" stroke="#1a1a1a" stroke-width="1.01" fill="#fff" transform="rotate(-17.5 705 116.5)"/>
<ellipse cx="705" cy="116.5" rx="1.4" ry="2" stroke="#1a1a1a" stroke-width="0.78" fill="#fff" transform="rotate(-17.5 705 116.5)"/>
<path d="M 1031.7 27.7 L 1125.1 47.3 C 1142.6 51.1 1149.9 67.1 1147.9 87.5 C 1146.1 103.6 1136.8 115.3 1128 120.2 L 1105.3 133.6 L 1106.1 192.6 L 1095.9 210.7 L 1097.4 212.4 L 1098.9 248 A 16 4.1 0 0 1 1066.8 248 L 1066.8 212.4 L 1060.3 204.3 L 1049.2 186.8 L 1048.4 124 L 1008.4 78.8 C 999.6 67.1 999.6 37.9 1014.2 29.8 C 1020.1 26.8 1025.9 26.8 1031.7 27.7 Z" stroke="#1a1a1a" stroke-width="1.38" fill="#fff"/>
<path d="M 1033.2 31.5 L 1122.2 50.2 C 1133.9 53.1 1131.5 87.5 1128 96.3 C 1125.1 108 1119.3 113.8 1113.4 118.2 L 1100.3 129.9 L 1096.5 137.1 L 1097.4 189.7 L 1084.3 208.6 L 1066.8 210.7" stroke="#1a1a1a" stroke-width="1.0" fill="none"/>
<path d="M 1033.2 31.5 C 1017.1 29.2 1012.8 52.5 1017.1 73 C 1018.6 81.7 1025.9 93.4 1043.4 112.3 L 1050.7 122.6 L 1050.7 183.8 L 1062.4 204.3" stroke="#1a1a1a" stroke-width="1.0" fill="none"/>
<path d="M1032.9 80.3 L1100 101.3 A17.5 17.5 0 0 0 1110.5 67.9 L1043.4 46.9 A17.5 17.5 0 0 0 1032.9 80.3 Z" stroke="#1a1a1a" stroke-width="1.38" fill="#fff"/>
<path d="M1033.7 77.7 L1100.8 98.7 A14.8 14.8 0 0 0 1109.7 70.5 L1042.6 49.5 A14.8 14.8 0 0 0 1033.7 77.7 Z" stroke="#1a1a1a" stroke-width="1.0" fill="none"/>
<path d="M1034.1 76.9 L1102.4 93.7 A9.6 9.6 0 0 0 1107 75 L1038.7 58.3 A9.6 9.6 0 0 0 1034.1 76.9 Z" stroke="#1a1a1a" stroke-width="1.38" fill="#fff"/>
<path d="M1042.6 74.3 L1097.5 88 A5.6 5.6 0 0 0 1100.2 77.1 L1045.4 63.4 A5.6 5.6 0 0 0 1042.6 74.3 Z" stroke="#1a1a1a" stroke-width="1.0" fill="none"/>
<path d="M1031.3 44 L1110 60.6 A2.3 2.3 0 0 0 1111 56.1 L1032.2 39.5 A2.3 2.3 0 0 0 1031.3 44 Z" stroke="#1a1a1a" stroke-width="1.0" fill="none"/>
<path d="M1029.8 98.7 L1110 114.8 A2.5 2.5 0 0 0 1111 109.9 L1030.8 93.8 A2.5 2.5 0 0 0 1029.8 98.7 Z" stroke="#1a1a1a" stroke-width="1.0" fill="none"/>
<path d="M1044.4 110.8 L1102.8 121.9 A2.3 2.3 0 0 0 1103.7 117.4 L1045.3 106.3 A2.3 2.3 0 0 0 1044.4 110.8 Z" stroke="#1a1a1a" stroke-width="1.0" fill="none"/>
<path d="M1054.7 123.4 L1095.5 130.7 A2.3 2.3 0 0 0 1096.3 126.1 L1055.5 118.8 A2.3 2.3 0 0 0 1054.7 123.4 Z" stroke="#1a1a1a" stroke-width="1.0" fill="none"/>
<path d="M 1004 54 L 1020.1 58.4 M 1004.9 71.5 L 1019.5 75.3 M 1125.1 77.3 L 1142.6 82.3 M 1123.7 94.8 L 1141.2 99.2" stroke="#1a1a1a" stroke-width="1.0" fill="none"/>
<ellipse cx="1012.8" cy="62.7" rx="1.4" ry="2.2" stroke="#1a1a1a" stroke-width="1.0" fill="none"/>
<ellipse cx="1135.9" cy="88.1" rx="1.4" ry="2.2" stroke="#1a1a1a" stroke-width="1.0" fill="none"/>
<ellipse cx="1033.2" cy="69.4" rx="3.4" ry="4.5" stroke="#1a1a1a" stroke-width="1.0" fill="none"/>
<ellipse cx="1107" cy="85.2" rx="3.2" ry="4.3" stroke="#1a1a1a" stroke-width="1.0" fill="none"/>
<path d="M 1029.4 67.7 L 1037 71.2 M 1032.3 64.8 L 1034.1 74.1 M 1104.1 83.5 L 1109.9 87 M 1106.4 81.7 L 1107.6 88.7 M 1039.9 65.7 L 1049.2 67.7 L 1048.7 70.6" stroke="#1a1a1a" stroke-width="0.88" fill="none"/>
<path d="M 1049.2 96.3 L 1049.2 122.6 M 1090.1 119.6 L 1090.7 137.1 L 1090.7 189.7 L 1081.3 207.8 M 1090.7 189.7 L 1105.3 191.1" stroke="#1a1a1a" stroke-width="1.0" fill="none"/>
<path d="M 1066.8 230.5 A 16 4.1 0 0 0 1098.9 230.5 M 1066.8 234.9 A 16 4.1 0 0 0 1098.9 234.9 M 1066.8 212.4 A 14.6 2.9 0 0 0 1097.4 212.4 M 1078.4 213 L 1078.4 221.8" stroke="#1a1a1a" stroke-width="1.12" fill="none"/>
<path d="M951.2 153.1 L1021.2 171.2 A17.3 17.3 0 0 0 1029.9 137.7 L959.8 119.6 A17.3 17.3 0 0 0 951.2 153.1 Z" stroke="#1a1a1a" stroke-width="1.12" fill="#fff"/>
<path d="M950.4 151.3 L1020.4 169.4 A17.3 17.3 0 0 0 1029.1 135.9 L959 117.8 A17.3 17.3 0 0 0 950.4 151.3 Z" stroke="#1a1a1a" stroke-width="1.38" fill="#fff"/>
<path d="M952.9 145 L1021 163 A10.8 10.8 0 0 0 1026.5 142.2 L958.5 124.1 A10.8 10.8 0 0 0 952.9 145 Z" stroke="#1a1a1a" stroke-width="1.25" fill="#fff"/>
<path d="M954.3 144.3 L1021.4 161.8 A8.6 8.6 0 0 0 1025.7 145.2 L958.6 127.7 A8.6 8.6 0 0 0 954.3 144.3 Z" stroke="#1a1a1a" stroke-width="0.88" fill="none"/>
<path d="M951.9 199.3 L1021.1 213.3 A10.6 10.6 0 0 0 1025.3 192.6 L956.1 178.5 A10.6 10.6 0 0 0 951.9 199.3 Z" stroke="#1a1a1a" stroke-width="1.12" fill="#fff"/>
<path d="M951.4 197.7 L1020.6 211.7 A10.6 10.6 0 0 0 1024.8 191 L955.6 176.9 A10.6 10.6 0 0 0 951.4 197.7 Z" stroke="#1a1a1a" stroke-width="1.38" fill="#fff"/>
<path d="M957.1 192 L1014.5 204.6 A5.4 5.4 0 0 0 1016.8 194 L959.4 181.5 A5.4 5.4 0 0 0 957.1 192 Z" stroke="#1a1a1a" stroke-width="1.12" fill="#fff"/>
<path d="M 960.2 191.1 L 970.5 193.8 L 971.6 192 L 977.8 193.5 L 977.8 195.2 L 1004 201.3 L 1005.5 199.6 L 1011.9 201.3 L 1012.8 203.1" stroke="#1a1a1a" stroke-width="0.88" fill="none"/>
<ellipse cx="950.3" cy="187" rx="2.3" ry="3" stroke="#1a1a1a" stroke-width="1.0" fill="none"/>
<ellipse cx="1023.6" cy="201.6" rx="2.3" ry="3" stroke="#1a1a1a" stroke-width="1.0" fill="none"/>
<path d="M955.9 220.9 L971 216.8" stroke="#1a1a1a" stroke-width="4.25" fill="none"/>
<ellipse cx="955.9" cy="220.9" rx="3.1" ry="4" stroke="#1a1a1a" stroke-width="1.12" fill="#fff" transform="rotate(-15 955.9 220.9)"/>
<ellipse cx="955.9" cy="220.9" rx="1.2" ry="1.6" stroke="#1a1a1a" stroke-width="0.75" fill="none" transform="rotate(-15 955.9 220.9)"/>
<path d="M995.3 228.2 L1010.7 224.7" stroke="#1a1a1a" stroke-width="4.25" fill="none"/>
<ellipse cx="995.3" cy="228.2" rx="3.1" ry="4" stroke="#1a1a1a" stroke-width="1.12" fill="#fff" transform="rotate(-15 995.3 228.2)"/>
<ellipse cx="995.3" cy="228.2" rx="1.2" ry="1.6" stroke="#1a1a1a" stroke-width="0.75" fill="none" transform="rotate(-15 995.3 228.2)"/>
<path d="M951.9 268.9 L1019 284.7 A13.3 13.3 0 0 0 1025.1 258.8 L957.9 243 A13.3 13.3 0 0 0 951.9 268.9 Z" stroke="#1a1a1a" stroke-width="1.12" fill="#fff"/>
<path d="M951.4 267.1 L1018.5 282.9 A13.3 13.3 0 0 0 1024.6 257 L957.4 241.2 A13.3 13.3 0 0 0 951.4 267.1 Z" stroke="#1a1a1a" stroke-width="1.38" fill="#fff"/>
<path d="M951.8 265.4 L1018.9 281.1 A11.5 11.5 0 0 0 1024.2 258.7 L957 243 A11.5 11.5 0 0 0 951.8 265.4 Z" stroke="#1a1a1a" stroke-width="0.88" fill="none"/>
<path d="M959.3 260.4 L1013.9 272.7 A4.3 4.3 0 0 0 1015.8 264.3 L961.2 252 A4.3 4.3 0 0 0 959.3 260.4 Z" stroke="#1a1a1a" stroke-width="1.12" fill="#fff"/>
<path d="M 964.6 258.2 L 1015.7 269 M 967.5 260.6 L 1012.8 270.2" stroke="#1a1a1a" stroke-width="1.0" fill="none"/>
<path d="M891.2 370 L891.2 372 L891.2 374 L891.2 376 L891.2 378 L891.2 380 L891.2 382 L891.2 384.1 L891.2 386.1 L891.2 388.1 L891.2 390.1 L891.2 392.1 L891.2 394.1 L891.2 396.1 L891.2 398.1 L891.2 400.1 L891.2 402.1 L891.2 404.1 L891.2 406.1 L891.2 408.1 L891.2 410.1 L891.2 412.2 L891.2 414.2 L891.2 416.2 L891.2 418.2 L891.2 420.2 L891.2 422.2 L891.2 424.2 L891.2 426.2 L891.2 428.2 L891.2 430.2 L891.2 432.2 L891.2 434.2 L891.2 436.2 L891.2 438.2 L891.2 440.3 L891.2 442.3 L891.2 444.3 L891.2 446.3 L891.2 448.3 L891.2 450.3 L891.2 452.3 L891.2 454.3 L891.2 456.3 L891.2 458.3 L891.2 460.3 L891.2 462.3 L891.2 464.3 L891.2 466.3 L891.2 468.4 L891.2 470.4 L891.2 472.4 L891.2 474.4 L891.2 476.4 L891.2 478.4 L891.2 480.4 L891.2 482.4 L891.2 484.4 L891.2 486.4 L891.2 488.4 L891.2 490.4 L891.2 492.4 L891.2 494.4 L891.2 496.5 L891.2 498.5 L891.2 500.5 L891.2 502.5 L891.2 504.5 L891.2 506.5 L891.2 508.5 L891.2 510.5 L891.2 512.5 L891.2 514.5 L891.2 516.5 L891.2 518.5 L891.2 520.5 L891.2 522.5 L891.2 524.6 L891.2 526.6 L891.2 528.6 L891.2 530.6 L891.2 532.6 L891.2 534.6 L891.2 536.6 L891.2 538.6 L891.2 540.6 L891.2 542.6 L891.2 544.6 L891.2 546.6 L891.2 548.6 L891.2 550.6 L891.2 552.7 L891.2 554.7 L891.2 556.7 L891.2 558.7 L891.2 560.7 L891.2 562.7 L891.2 564.9 L891.1 567.2 L891.1 569.4 L891 571.7 L890.8 574 L890.7 576.2 L890.5 578.5 L890.2 580.7 L890 583 L889.7 585.2 L889.4 587.5 L889 589.7 L888.6 591.9 L888.2 594.2 L887.7 596.4 L887.3 598.6 L886.8 600.8 L886.2 603 L885.7 605.2 L885.1 607.4 L884.4 609.6 L883.8 611.7 L883.1 613.9 L882.3 616 L881.6 618.2 L880.8 620.3 L880 622.4 L879.2 624.5 L878.3 626.6 L877.4 628.7 L876.5 630.8 L875.5 632.8 L874.5 634.9 L873.5 636.9 L872.5 638.9 L871.4 640.9 L870.3 642.9 L869.2 644.8 L868.1 646.8 L866.9 648.7 L865.7 650.7 L864.5 652.6 L863.2 654.4 L861.9 656.3 L860.6 658.2 L859.3 660 L857.9 661.8 L856.5 663.6 L855.1 665.4 L853.7 667.1 L852.2 668.9 L850.8 670.6 L849.3 672.3 L847.7 673.9 L846.2 675.6 L844.6 677.2 L843 678.8 L841.4 680.4 L839.7 682 L838.1 683.5 L836.4 685 L834.7 686.5 L833 688 L831.2 689.4 L829.5 690.9 L827.7 692.3 L825.9 693.6 L824.1 695 L822.2 696.3 L820.4 697.6 L818.5 698.9 L816.6 700.1 L814.7 701.3 L813 702.4 L811.3 703.5 L809.5 704.5 L807.8 705.6 L806.1 706.7 L804.4 707.7 L802.7 708.8 L801 709.9 L799.3 710.9 L797.6 712 L795.9 713 L794.2 714.1 L792.5 715.2 L790.8 716.2 L789.1 717.3 L787.4 718.4 L785.7 719.4 L784 720.5 L782.3 721.6 L780.6 722.6 L778.9 723.7 L777.2 724.7 L775.5 725.8 L773.8 726.9 L772.1 727.9 L770.4 729 L768.7 730.1 L767 731.1 L765.3 732.2 L763.6 733.3 L761.9 734.3 L760.2 735.4 L758.5 736.4 L756.8 737.5 L755.1 738.6 L753.4 739.6 L733.7 708.1 L735.4 707 L737.1 706 L738.8 704.9 L740.5 703.8 L742.2 702.8 L743.9 701.7 L745.6 700.6 L747.3 699.6 L749 698.5 L750.7 697.5 L752.4 696.4 L754.1 695.3 L755.8 694.3 L757.5 693.2 L759.2 692.1 L760.9 691.1 L762.6 690 L764.3 688.9 L766 687.9 L767.7 686.8 L769.4 685.8 L771.1 684.7 L772.8 683.6 L774.5 682.6 L776.2 681.5 L777.9 680.4 L779.6 679.4 L781.3 678.3 L783 677.2 L784.7 676.2 L786.4 675.1 L788.1 674.1 L789.8 673 L791.5 671.9 L793.2 670.9 L794.9 669.8 L796.4 668.9 L797.9 667.9 L799.3 666.9 L800.7 665.9 L802.2 664.9 L803.6 663.9 L805 662.8 L806.3 661.7 L807.7 660.6 L809 659.5 L810.4 658.4 L811.7 657.2 L813 656.1 L814.3 654.9 L815.5 653.7 L816.8 652.4 L818 651.2 L819.2 649.9 L820.4 648.7 L821.6 647.4 L822.8 646.1 L823.9 644.7 L825 643.4 L826.1 642.1 L827.2 640.7 L828.3 639.3 L829.3 637.9 L830.4 636.5 L831.4 635.1 L832.4 633.6 L833.3 632.2 L834.3 630.7 L835.2 629.2 L836.1 627.7 L837 626.2 L837.9 624.7 L838.7 623.2 L839.6 621.6 L840.4 620.1 L841.1 618.5 L841.9 616.9 L842.6 615.3 L843.3 613.7 L844 612.1 L844.7 610.5 L845.4 608.9 L846 607.2 L846.6 605.6 L847.2 604 L847.7 602.3 L848.3 600.6 L848.8 599 L849.3 597.3 L849.7 595.6 L850.2 593.9 L850.6 592.2 L851 590.5 L851.3 588.8 L851.7 587.1 L852 585.4 L852.3 583.6 L852.6 581.9 L852.8 580.2 L853.1 578.4 L853.3 576.7 L853.4 575 L853.6 573.2 L853.7 571.5 L853.8 569.7 L853.9 568 L854 566.2 L854 564.5 L854 562.7 L854 560.7 L854 558.7 L854 556.7 L854 554.7 L854 552.7 L854 550.6 L854 548.6 L854 546.6 L854 544.6 L854 542.6 L854 540.6 L854 538.6 L854 536.6 L854 534.6 L854 532.6 L854 530.6 L854 528.6 L854 526.6 L854 524.6 L854 522.5 L854 520.5 L854 518.5 L854 516.5 L854 514.5 L854 512.5 L854 510.5 L854 508.5 L854 506.5 L854 504.5 L854 502.5 L854 500.5 L854 498.5 L854 496.5 L854 494.4 L854 492.4 L854 490.4 L854 488.4 L854 486.4 L854 484.4 L854 482.4 L854 480.4 L854 478.4 L854 476.4 L854 474.4 L854 472.4 L854 470.4 L854 468.4 L854 466.3 L854 464.3 L854 462.3 L854 460.3 L854 458.3 L854 456.3 L854 454.3 L854 452.3 L854 450.3 L854 448.3 L854 446.3 L854 444.3 L854 442.3 L854 440.3 L854 438.2 L854 436.2 L854 434.2 L854 432.2 L854 430.2 L854 428.2 L854 426.2 L854 424.2 L854 422.2 L854 420.2 L854 418.2 L854 416.2 L854 414.2 L854 412.2 L854 410.1 L854 408.1 L854 406.1 L854 404.1 L854 402.1 L854 400.1 L854 398.1 L854 396.1 L854 394.1 L854 392.1 L854 390.1 L854 388.1 L854 386.1 L854 384.1 L854 382 L854 380 L854 378 L854 376 L854 374 L854 372 L854 370 Z" stroke="none" stroke-width="0.0" fill="#fff"/>
<path d="M890.7 370 L890.7 372 L890.7 374 L890.7 376 L890.7 378 L890.7 380 L890.7 382 L890.7 384.1 L890.7 386.1 L890.7 388.1 L890.7 390.1 L890.7 392.1 L890.7 394.1 L890.7 396.1 L890.7 398.1 L890.7 400.1 L890.7 402.1 L890.7 404.1 L890.7 406.1 L890.7 408.1 L890.7 410.1 L890.7 412.2 L890.7 414.2 L890.7 416.2 L890.7 418.2 L890.7 420.2 L890.7 422.2 L890.7 424.2 L890.7 426.2 L890.7 428.2 L890.7 430.2 L890.7 432.2 L890.7 434.2 L890.7 436.2 L890.7 438.2 L890.7 440.3 L890.7 442.3 L890.7 444.3 L890.7 446.3 L890.7 448.3 L890.7 450.3 L890.7 452.3 L890.7 454.3 L890.7 456.3 L890.7 458.3 L890.7 460.3 L890.7 462.3 L890.7 464.3 L890.7 466.3 L890.7 468.4 L890.7 470.4 L890.7 472.4 L890.7 474.4 L890.7 476.4 L890.7 478.4 L890.7 480.4 L890.7 482.4 L890.7 484.4 L890.7 486.4 L890.7 488.4 L890.7 490.4 L890.7 492.4 L890.7 494.4 L890.7 496.5 L890.7 498.5 L890.7 500.5 L890.7 502.5 L890.7 504.5 L890.7 506.5 L890.7 508.5 L890.7 510.5 L890.7 512.5 L890.7 514.5 L890.7 516.5 L890.7 518.5 L890.7 520.5 L890.7 522.5 L890.7 524.6 L890.7 526.6 L890.7 528.6 L890.7 530.6 L890.7 532.6 L890.7 534.6 L890.7 536.6 L890.7 538.6 L890.7 540.6 L890.7 542.6 L890.7 544.6 L890.7 546.6 L890.7 548.6 L890.7 550.6 L890.7 552.7 L890.7 554.7 L890.7 556.7 L890.7 558.7 L890.7 560.7 L890.7 562.7 L890.7 564.9 L890.6 567.2 L890.6 569.4 L890.5 571.7 L890.3 573.9 L890.2 576.2 L890 578.4 L889.7 580.7 L889.5 582.9 L889.2 585.2 L888.9 587.4 L888.5 589.6 L888.1 591.9 L887.7 594.1 L887.3 596.3 L886.8 598.5 L886.3 600.7 L885.7 602.9 L885.2 605.1 L884.6 607.3 L883.9 609.4 L883.3 611.6 L882.6 613.7 L881.9 615.9 L881.1 618 L880.3 620.1 L879.5 622.2 L878.7 624.3 L877.8 626.4 L876.9 628.5 L876 630.6 L875.1 632.6 L874.1 634.6 L873.1 636.7 L872 638.7 L871 640.7 L869.9 642.6 L868.8 644.6 L867.6 646.5 L866.5 648.5 L865.3 650.4 L864 652.3 L862.8 654.2 L861.5 656 L860.2 657.9 L858.9 659.7 L857.5 661.5 L856.1 663.3 L854.7 665.1 L853.3 666.8 L851.9 668.5 L850.4 670.2 L848.9 671.9 L847.4 673.6 L845.8 675.3 L844.2 676.9 L842.7 678.5 L841 680.1 L839.4 681.6 L837.7 683.2 L836.1 684.7 L834.4 686.2 L832.7 687.6 L830.9 689.1 L829.2 690.5 L827.4 691.9 L825.6 693.2 L823.8 694.6 L821.9 695.9 L820.1 697.2 L818.2 698.5 L816.3 699.7 L814.4 700.9 L812.7 702 L811 703.1 L809.3 704.1 L807.6 705.2 L805.9 706.2 L804.2 707.3 L802.5 708.4 L800.8 709.4 L799.1 710.5 L797.4 711.6 L795.7 712.6 L794 713.7 L792.3 714.8 L790.6 715.8 L788.9 716.9 L787.2 717.9 L785.5 719 L783.8 720.1 L782 721.1 L780.3 722.2 L778.6 723.3 L776.9 724.3 L775.2 725.4 L773.5 726.5 L771.8 727.5 L770.1 728.6 L768.4 729.6 L766.7 730.7 L765 731.8 L763.3 732.8 L761.6 733.9 L759.9 735 L758.2 736 L756.5 737.1 L754.8 738.2 L753.1 739.2" stroke="#8f8f8f" stroke-width="0.88" fill="none"/>
<path d="M854.5 370 L854.5 372 L854.5 374 L854.5 376 L854.5 378 L854.5 380 L854.5 382 L854.5 384.1 L854.5 386.1 L854.5 388.1 L854.5 390.1 L854.5 392.1 L854.5 394.1 L854.5 396.1 L854.5 398.1 L854.5 400.1 L854.5 402.1 L854.5 404.1 L854.5 406.1 L854.5 408.1 L854.5 410.1 L854.5 412.2 L854.5 414.2 L854.5 416.2 L854.5 418.2 L854.5 420.2 L854.5 422.2 L854.5 424.2 L854.5 426.2 L854.5 428.2 L854.5 430.2 L854.5 432.2 L854.5 434.2 L854.5 436.2 L854.5 438.2 L854.5 440.3 L854.5 442.3 L854.5 444.3 L854.5 446.3 L854.5 448.3 L854.5 450.3 L854.5 452.3 L854.5 454.3 L854.5 456.3 L854.5 458.3 L854.5 460.3 L854.5 462.3 L854.5 464.3 L854.5 466.3 L854.5 468.4 L854.5 470.4 L854.5 472.4 L854.5 474.4 L854.5 476.4 L854.5 478.4 L854.5 480.4 L854.5 482.4 L854.5 484.4 L854.5 486.4 L854.5 488.4 L854.5 490.4 L854.5 492.4 L854.5 494.4 L854.5 496.5 L854.5 498.5 L854.5 500.5 L854.5 502.5 L854.5 504.5 L854.5 506.5 L854.5 508.5 L854.5 510.5 L854.5 512.5 L854.5 514.5 L854.5 516.5 L854.5 518.5 L854.5 520.5 L854.5 522.5 L854.5 524.6 L854.5 526.6 L854.5 528.6 L854.5 530.6 L854.5 532.6 L854.5 534.6 L854.5 536.6 L854.5 538.6 L854.5 540.6 L854.5 542.6 L854.5 544.6 L854.5 546.6 L854.5 548.6 L854.5 550.6 L854.5 552.7 L854.5 554.7 L854.5 556.7 L854.5 558.7 L854.5 560.7 L854.5 562.7 L854.5 564.5 L854.5 566.2 L854.4 568 L854.3 569.8 L854.2 571.5 L854.1 573.3 L853.9 575 L853.8 576.8 L853.5 578.5 L853.3 580.2 L853.1 582 L852.8 583.7 L852.5 585.4 L852.2 587.2 L851.8 588.9 L851.5 590.6 L851.1 592.3 L850.6 594 L850.2 595.7 L849.7 597.4 L849.2 599.1 L848.7 600.8 L848.2 602.5 L847.6 604.1 L847.1 605.8 L846.4 607.4 L845.8 609.1 L845.2 610.7 L844.5 612.3 L843.8 613.9 L843.1 615.5 L842.3 617.1 L841.6 618.7 L840.8 620.3 L840 621.8 L839.2 623.4 L838.3 624.9 L837.5 626.5 L836.6 628 L835.6 629.5 L834.7 631 L833.8 632.4 L832.8 633.9 L831.8 635.3 L830.8 636.8 L829.7 638.2 L828.7 639.6 L827.6 641 L826.5 642.4 L825.4 643.7 L824.3 645.1 L823.1 646.4 L822 647.7 L820.8 649 L819.6 650.3 L818.4 651.6 L817.1 652.8 L815.9 654 L814.6 655.2 L813.3 656.4 L812 657.6 L810.7 658.8 L809.4 659.9 L808 661 L806.6 662.1 L805.3 663.2 L803.9 664.3 L802.5 665.3 L801 666.3 L799.6 667.4 L798.1 668.3 L796.7 669.3 L795.2 670.2 L793.5 671.3 L791.8 672.4 L790.1 673.4 L788.4 674.5 L786.7 675.5 L785 676.6 L783.3 677.7 L781.6 678.7 L779.9 679.8 L778.2 680.9 L776.5 681.9 L774.8 683 L773.1 684.1 L771.4 685.1 L769.7 686.2 L768 687.2 L766.3 688.3 L764.6 689.4 L762.9 690.4 L761.2 691.5 L759.5 692.6 L757.8 693.6 L756.1 694.7 L754.4 695.8 L752.7 696.8 L751 697.9 L749.2 698.9 L747.5 700 L745.8 701.1 L744.1 702.1 L742.4 703.2 L740.7 704.3 L739 705.3 L737.3 706.4 L735.6 707.5 L733.9 708.5" stroke="#8f8f8f" stroke-width="0.88" fill="none"/>
<path d="M891.2 372.2 Q891.7 373 891.2 373 C891.2 377 854 377 854 373 Q853.5 373 854 372.2" stroke="#8f8f8f" stroke-width="0.88" fill="none"/>
<path d="M891.2 378.9 Q891.7 379.7 891.2 379.7 C891.2 383.7 854 383.7 854 379.7 Q853.5 379.7 854 378.9" stroke="#8f8f8f" stroke-width="0.88" fill="none"/>
<path d="M891.2 385.6 Q891.7 386.4 891.2 386.4 C891.2 390.4 854 390.4 854 386.4 Q853.5 386.4 854 385.6" stroke="#8f8f8f" stroke-width="0.88" fill="none"/>
<path d="M891.2 392.3 Q891.7 393.1 891.2 393.1 C891.2 397.1 854 397.1 854 393.1 Q853.5 393.1 854 392.3" stroke="#8f8f8f" stroke-width="0.88" fill="none"/>
<path d="M891.2 399 Q891.7 399.8 891.2 399.8 C891.2 403.8 854 403.8 854 399.8 Q853.5 399.8 854 399" stroke="#8f8f8f" stroke-width="0.88" fill="none"/>
<path d="M891.2 405.7 Q891.7 406.5 891.2 406.5 C891.2 410.5 854 410.5 854 406.5 Q853.5 406.5 854 405.7" stroke="#8f8f8f" stroke-width="0.88" fill="none"/>
<path d="M891.2 412.4 Q891.7 413.2 891.2 413.2 C891.2 417.2 854 417.2 854 413.2 Q853.5 413.2 854 412.4" stroke="#8f8f8f" stroke-width="0.88" fill="none"/>
<path d="M891.2 419.1 Q891.7 419.9 891.2 419.9 C891.2 423.9 854 423.9 854 419.9 Q853.5 419.9 854 419.1" stroke="#8f8f8f" stroke-width="0.88" fill="none"/>
<path d="M891.2 425.8 Q891.7 426.6 891.2 426.6 C891.2 430.6 854 430.6 854 426.6 Q853.5 426.6 854 425.8" stroke="#8f8f8f" stroke-width="0.88" fill="none"/>
<path d="M891.2 432.5 Q891.7 433.3 891.2 433.3 C891.2 437.3 854 437.3 854 433.3 Q853.5 433.3 854 432.5" stroke="#8f8f8f" stroke-width="0.88" fill="none"/>
<path d="M891.2 439.2 Q891.7 440 891.2 440 C891.2 444 854 444 854 440 Q853.5 440 854 439.2" stroke="#8f8f8f" stroke-width="0.88" fill="none"/>
<path d="M891.2 445.9 Q891.7 446.7 891.2 446.7 C891.2 450.7 854 450.7 854 446.7 Q853.5 446.7 854 445.9" stroke="#8f8f8f" stroke-width="0.88" fill="none"/>
<path d="M891.2 452.6 Q891.7 453.4 891.2 453.4 C891.2 457.4 854 457.4 854 453.4 Q853.5 453.4 854 452.6" stroke="#8f8f8f" stroke-width="0.88" fill="none"/>
<path d="M891.2 459.3 Q891.7 460.1 891.2 460.1 C891.2 464.1 854 464.1 854 460.1 Q853.5 460.1 854 459.3" stroke="#8f8f8f" stroke-width="0.88" fill="none"/>
<path d="M891.2 466 Q891.7 466.8 891.2 466.8 C891.2 470.8 854 470.8 854 466.8 Q853.5 466.8 854 466" stroke="#8f8f8f" stroke-width="0.88" fill="none"/>
<path d="M891.2 472.7 Q891.7 473.5 891.2 473.5 C891.2 477.5 854 477.5 854 473.5 Q853.5 473.5 854 472.7" stroke="#8f8f8f" stroke-width="0.88" fill="none"/>
<path d="M891.2 479.4 Q891.7 480.2 891.2 480.2 C891.2 484.2 854 484.2 854 480.2 Q853.5 480.2 854 479.4" stroke="#8f8f8f" stroke-width="0.88" fill="none"/>
<path d="M891.2 486.1 Q891.7 486.9 891.2 486.9 C891.2 490.9 854 490.9 854 486.9 Q853.5 486.9 854 486.1" stroke="#8f8f8f" stroke-width="0.88" fill="none"/>
<path d="M891.2 492.8 Q891.7 493.6 891.2 493.6 C891.2 497.6 854 497.6 854 493.6 Q853.5 493.6 854 492.8" stroke="#8f8f8f" stroke-width="0.88" fill="none"/>
<path d="M891.2 499.5 Q891.7 500.3 891.2 500.3 C891.2 504.3 854 504.3 854 500.3 Q853.5 500.3 854 499.5" stroke="#8f8f8f" stroke-width="0.88" fill="none"/>
<path d="M891.2 506.2 Q891.7 507 891.2 507 C891.2 511 854 511 854 507 Q853.5 507 854 506.2" stroke="#8f8f8f" stroke-width="0.88" fill="none"/>
<path d="M891.2 512.9 Q891.7 513.7 891.2 513.7 C891.2 517.7 854 517.7 854 513.7 Q853.5 513.7 854 512.9" stroke="#8f8f8f" stroke-width="0.88" fill="none"/>
<path d="M891.2 519.6 Q891.7 520.4 891.2 520.4 C891.2 524.4 854 524.4 854 520.4 Q853.5 520.4 854 519.6" stroke="#8f8f8f" stroke-width="0.88" fill="none"/>
<path d="M891.2 526.3 Q891.7 527.1 891.2 527.1 C891.2 531.1 854 531.1 854 527.1 Q853.5 527.1 854 526.3" stroke="#8f8f8f" stroke-width="0.88" fill="none"/>
<path d="M891.2 533 Q891.7 533.8 891.2 533.8 C891.2 537.8 854 537.8 854 533.8 Q853.5 533.8 854 533" stroke="#8f8f8f" stroke-width="0.88" fill="none"/>
<path d="M891.2 539.7 Q891.7 540.5 891.2 540.5 C891.2 544.7 854 544.7 854 540.5 Q853.5 540.5 854 539.7" stroke="#8f8f8f" stroke-width="0.88" fill="none"/>
<path d="M891.2 546.3 Q891.7 547.1 891.2 547.1 C891.2 551.6 854 551.6 854 547.1 Q853.5 547.1 854 546.3" stroke="#8f8f8f" stroke-width="0.88" fill="none"/>
<path d="M891.2 552.9 Q891.7 553.7 891.2 553.7 C891.2 558.4 854 558.4 854 553.7 Q853.5 553.7 854 552.9" stroke="#8f8f8f" stroke-width="0.88" fill="none"/>
<path d="M891.2 559.5 Q891.7 560.3 891.2 560.3 C891.2 565.1 854 565.1 854 560.3 Q853.5 560.3 854 559.5" stroke="#8f8f8f" stroke-width="0.88" fill="none"/>
<path d="M891.2 566.4 Q891.6 567.2 891.1 567.2 C891 572.3 853.8 571.4 854 566.3 Q853.5 566.2 854 565.5" stroke="#8f8f8f" stroke-width="0.88" fill="none"/>
<path d="M890.9 573.7 Q891.3 574.5 890.8 574.5 C890.4 579.8 853.3 577.2 853.7 571.8 Q853.2 571.8 853.7 571" stroke="#8f8f8f" stroke-width="0.88" fill="none"/>
<path d="M890.2 580.8 Q890.6 581.7 890.1 581.6 C889.5 587.1 852.5 582.9 853.2 577.4 Q852.7 577.3 853.3 576.6" stroke="#8f8f8f" stroke-width="0.88" fill="none"/>
<path d="M889.3 587.9 Q889.7 588.7 889.2 588.7 C888.3 594.4 851.5 588.5 852.4 582.8 Q851.9 582.7 852.6 582" stroke="#8f8f8f" stroke-width="0.88" fill="none"/>
<path d="M888.1 594.8 Q888.4 595.7 887.9 595.6 C886.7 601.5 850.3 594 851.5 588.2 Q851 588.1 851.6 587.4" stroke="#8f8f8f" stroke-width="0.88" fill="none"/>
<path d="M886.6 601.7 Q886.9 602.6 886.4 602.4 C884.9 608.4 848.8 599.5 850.3 593.5 Q849.8 593.3 850.5 592.7" stroke="#8f8f8f" stroke-width="0.88" fill="none"/>
<path d="M884.8 608.4 Q885 609.3 884.5 609.1 C882.7 615.3 847.1 604.8 848.9 598.6 Q848.4 598.5 849.1 597.9" stroke="#8f8f8f" stroke-width="0.88" fill="none"/>
<path d="M882.7 614.9 Q882.9 615.9 882.5 615.7 C880.3 621.9 845.1 609.9 847.3 603.7 Q846.8 603.5 847.5 602.9" stroke="#8f8f8f" stroke-width="0.88" fill="none"/>
<path d="M880.4 621.4 Q880.6 622.3 880.1 622.1 C877.7 628.5 843 615 845.4 608.6 Q845 608.5 845.7 607.9" stroke="#8f8f8f" stroke-width="0.88" fill="none"/>
<path d="M877.9 627.6 Q878 628.6 877.5 628.4 C874.7 634.8 840.7 619.9 843.5 613.5 Q843 613.3 843.8 612.7" stroke="#8f8f8f" stroke-width="0.88" fill="none"/>
<path d="M875.1 633.7 Q875.2 634.7 874.7 634.5 C871.6 640.9 838.1 624.7 841.3 618.2 Q840.8 618 841.6 617.5" stroke="#8f8f8f" stroke-width="0.88" fill="none"/>
<path d="M872.1 639.7 Q872.1 640.6 871.7 640.4 C868.2 646.9 835.4 629.3 838.9 622.7 Q838.5 622.5 839.3 622" stroke="#8f8f8f" stroke-width="0.88" fill="none"/>
<path d="M868.9 645.4 Q868.9 646.4 868.5 646.1 C864.6 652.7 832.6 633.7 836.4 627.2 Q836 626.9 836.9 626.5" stroke="#8f8f8f" stroke-width="0.88" fill="none"/>
<path d="M865.5 651 Q865.4 651.9 865 651.7 C860.8 658.2 829.6 638 833.8 631.5 Q833.4 631.2 834.2 630.8" stroke="#8f8f8f" stroke-width="0.88" fill="none"/>
<path d="M861.9 656.4 Q861.8 657.3 861.4 657 C856.8 663.6 826.4 642.2 831 635.6 Q830.6 635.3 831.5 635" stroke="#8f8f8f" stroke-width="0.88" fill="none"/>
<path d="M858.1 661.6 Q858 662.5 857.6 662.2 C852.6 668.7 823.1 646.1 828.1 639.6 Q827.7 639.3 828.5 639" stroke="#8f8f8f" stroke-width="0.88" fill="none"/>
<path d="M854.1 666.6 Q854 667.5 853.6 667.2 C848.3 673.7 819.6 649.9 825 643.5 Q824.6 643.1 825.5 642.8" stroke="#8f8f8f" stroke-width="0.88" fill="none"/>
<path d="M850 671.4 Q849.9 672.3 849.5 672 C843.8 678.4 816.1 653.6 821.8 647.2 Q821.4 646.8 822.3 646.6" stroke="#8f8f8f" stroke-width="0.88" fill="none"/>
<path d="M845.8 676 Q845.6 676.9 845.2 676.6 C839.1 682.9 812.4 657 818.5 650.7 Q818.2 650.3 819.1 650.1" stroke="#8f8f8f" stroke-width="0.88" fill="none"/>
<path d="M841.4 680.4 Q841.2 681.3 840.8 680.9 C834.4 687.1 808.6 660.3 815.1 654.1 Q814.8 653.7 815.7 653.5" stroke="#8f8f8f" stroke-width="0.88" fill="none"/>
<path d="M836.9 684.6 Q836.6 685.5 836.3 685.1 C829.5 691.2 804.8 663.4 811.6 657.3 Q811.3 656.9 812.2 656.8" stroke="#8f8f8f" stroke-width="0.88" fill="none"/>
<path d="M832.3 688.6 Q832 689.5 831.7 689.1 C824.5 695 800.8 666.3 808 660.4 Q807.7 660 808.7 659.9" stroke="#8f8f8f" stroke-width="0.88" fill="none"/>
<path d="M827.6 692.4 Q827.2 693.2 826.9 692.8 C819.4 698.6 796.8 669 804.4 663.3 Q804.1 662.9 805 662.8" stroke="#8f8f8f" stroke-width="0.88" fill="none"/>
<path d="M822.8 695.9 Q822.4 696.8 822.1 696.4 C814.2 702 792.7 671.6 800.6 666 Q800.4 665.6 801.3 665.5" stroke="#8f8f8f" stroke-width="0.88" fill="none"/>
<path d="M817.9 699.3 Q817.5 700.1 817.2 699.7 C808.9 705.1 788.6 674 796.8 668.6 Q796.6 668.2 797.5 668.1" stroke="#8f8f8f" stroke-width="0.88" fill="none"/>
<path d="M813.1 702.3 Q812.7 703.1 812.5 702.7 C804 708 784.3 676.5 792.7 671.2 Q792.5 670.8 793.4 670.8" stroke="#8f8f8f" stroke-width="0.88" fill="none"/>
<path d="M808.7 705.1 Q808.3 705.9 808 705.5 C799.6 710.8 779.9 679.2 788.3 673.9 Q788.1 673.5 789 673.5" stroke="#8f8f8f" stroke-width="0.88" fill="none"/>
<path d="M804.3 707.8 Q803.9 708.7 803.6 708.2 C795.2 713.5 775.5 682 783.9 676.7 Q783.7 676.3 784.6 676.3" stroke="#8f8f8f" stroke-width="0.88" fill="none"/>
<path d="M799.9 710.6 Q799.5 711.4 799.2 711 C790.8 716.3 771.1 684.7 779.5 679.4 Q779.2 679 780.2 679" stroke="#8f8f8f" stroke-width="0.88" fill="none"/>
<path d="M795.5 713.3 Q795.1 714.2 794.8 713.7 C786.4 719 766.6 687.5 775.1 682.2 Q774.8 681.8 775.8 681.8" stroke="#8f8f8f" stroke-width="0.88" fill="none"/>
<path d="M791.1 716.1 Q790.7 716.9 790.4 716.5 C781.9 721.8 762.2 690.2 770.7 685 Q770.4 684.5 771.4 684.5" stroke="#8f8f8f" stroke-width="0.88" fill="none"/>
<path d="M786.7 718.8 Q786.3 719.7 786 719.3 C777.5 724.5 757.8 693 766.3 687.7 Q766 687.3 767 687.3" stroke="#8f8f8f" stroke-width="0.88" fill="none"/>
<path d="M782.3 721.6 Q781.9 722.4 781.6 722 C773.1 727.3 753.4 695.8 761.9 690.5 Q761.6 690 762.6 690" stroke="#8f8f8f" stroke-width="0.88" fill="none"/>
<path d="M777.9 724.3 Q777.4 725.2 777.2 724.8 C768.7 730.1 749 698.5 757.5 693.2 Q757.2 692.8 758.1 692.8" stroke="#8f8f8f" stroke-width="0.88" fill="none"/>
<path d="M773.4 727.1 Q773 727.9 772.8 727.5 C764.3 732.8 744.6 701.3 753.1 696 Q752.8 695.6 753.7 695.6" stroke="#8f8f8f" stroke-width="0.88" fill="none"/>
<path d="M769 729.9 Q768.6 730.7 768.4 730.3 C759.9 735.6 740.2 704 748.6 698.7 Q748.4 698.3 749.3 698.3" stroke="#8f8f8f" stroke-width="0.88" fill="none"/>
<path d="M764.6 732.6 Q764.2 733.5 763.9 733 C755.5 738.3 735.8 706.8 744.2 701.5 Q744 701.1 744.9 701.1" stroke="#8f8f8f" stroke-width="0.88" fill="none"/>
<path d="M760.2 735.4 Q759.8 736.2 759.5 735.8 C751.1 741.1 731.4 709.5 739.8 704.2 Q739.6 703.8 740.5 703.8" stroke="#8f8f8f" stroke-width="0.88" fill="none"/>
<path d="M755.8 738.1 Q755.4 739 755.1 738.5 C746.7 743.8 727 712.3 735.4 707 Q735.1 706.6 736.1 706.6" stroke="#8f8f8f" stroke-width="0.88" fill="none"/>
<ellipse cx="872.6" cy="370.5" rx="18.6" ry="4.8" stroke="#8f8f8f" stroke-width="1.0" fill="#fff"/>
<ellipse cx="872.6" cy="371.2" rx="16.4" ry="3.6" stroke="#8f8f8f" stroke-width="0.75" fill="none"/>
<ellipse cx="872.6" cy="372.2" rx="14.8" ry="3" stroke="#8f8f8f" stroke-width="0.62" fill="none"/>
<path d="M752.7 738.5 L739.4 749.3 L721 719.9 L734.4 709.2 Z" stroke="#8f8f8f" stroke-width="0.88" fill="#fff"/>
<path d="M745.3 745.6 C737.2 750.6 718.9 721.3 727 716.2" stroke="#8f8f8f" stroke-width="0.88" fill="none"/>
<path d="M748.7 743.4 C740.6 748.5 722.3 719.1 730.4 714.1" stroke="#8f8f8f" stroke-width="0.88" fill="none"/>
<ellipse cx="730.2" cy="734.6" rx="12.6" ry="17.3" stroke="#8f8f8f" stroke-width="1.12" fill="#fff" transform="rotate(148 730.2 734.6)"/>
<ellipse cx="731.2" cy="734.1" rx="10.6" ry="15.1" stroke="#8f8f8f" stroke-width="0.75" fill="none" transform="rotate(148 731.2 734.1)"/>
<path d="M1001.3 458 L1001.3 460 L1001.3 462 L1001.3 464 L1001.3 466 L1001.3 468 L1001.3 470 L1001.3 472 L1001.3 474 L1001.3 476 L1001.3 478 L1001.3 480 L1001.3 482 L1001.3 484 L1001.3 486 L1001.3 488 L1001.3 490 L1001.3 492 L1001.3 494 L1001.3 496 L1001.3 498 L1001.3 500 L1001.3 502 L1001.3 504 L1001.3 506 L1001.3 508 L1001.3 510 L1001.3 512 L1001.3 514 L1001.3 516 L1001.3 518 L1001.3 520 L1001.3 522 L1001.3 524 L1001.3 526 L1001.3 528 L1001.3 530 L1001.3 532 L1001.3 534 L1001.3 536 L1001.3 538 L1001.3 540 L1001.3 542 L1001.3 544 L1001.3 546 L1001.3 548 L1001.3 550 L1001.3 552 L1001.3 554 L1001.3 556 L1001.3 558 L1001.3 560 L1001.3 562 L1001.3 564 L1001.3 566 L1001.3 568 L1001.3 570 L1001.3 572 L1001.3 574 L1001.3 576 L1001.3 578 L1001.3 580 L1001.3 582 L1001.3 584 L1001.3 586 L1001.3 588 L1001.3 590 L1001.3 592.1 L1001.3 594.1 L1001.3 596.1 L1001.3 598.1 L1001.3 600.3 L1001.2 602.5 L1001.2 604.7 L1001.1 606.9 L1001 609.1 L1000.8 611.3 L1000.7 613.4 L1000.5 615.6 L1000.3 617.8 L1000.1 620 L999.9 622.1 L999.6 624.3 L999.4 626.5 L999.1 628.6 L998.7 630.8 L998.4 633 L998 635.1 L997.7 637.3 L997.2 639.4 L996.8 641.6 L996.4 643.7 L995.9 645.8 L995.4 648 L994.9 650.1 L994.4 652.2 L993.8 654.3 L993.3 656.4 L992.7 658.5 L992.1 660.6 L991.4 662.7 L990.8 664.8 L990.1 666.9 L989.4 669 L988.7 671 L988 673.1 L987.2 675.1 L986.5 677.2 L985.7 679.2 L984.8 681.2 L984 683.3 L983.2 685.3 L982.3 687.3 L981.4 689.3 L980.5 691.3 L979.6 693.2 L978.6 695.2 L977.6 697.2 L976.7 699.1 L975.6 701.1 L974.6 703 L973.6 704.9 L972.5 706.8 L971.4 708.7 L970.3 710.6 L969.2 712.5 L968.1 714.4 L966.9 716.2 L965.8 718 L964.6 719.9 L963.4 721.7 L962.1 723.5 L960.9 725.3 L959.6 727.1 L958.3 728.9 L957.1 730.6 L955.7 732.4 L954.4 734.1 L953.1 735.8 L951.7 737.5 L950.3 739.2 L948.9 740.9 L947.5 742.6 L946.1 744.2 L944.6 745.9 L943.2 747.5 L941.7 749.1 L940.2 750.7 L938.7 752.3 L937.2 753.9 L935.6 755.4 L934.1 756.9 L932.5 758.5 L930.9 760 L929.3 761.5 L927.7 762.9 L926.1 764.4 L924.5 765.8 L922.8 767.3 L921.1 768.7 L919.5 770.1 L917.8 771.4 L916 772.8 L914.3 774.2 L912.6 775.5 L910.8 776.8 L909.1 778.1 L907.3 779.4 L905.5 780.6 L903.7 781.9 L901.9 783.1 L900.1 784.3 L898.3 785.5 L896.4 786.7 L894.6 787.8 L892.7 788.9 L890.8 790.1 L888.9 791.2 L887 792.2 L885.1 793.3 L883.2 794.3 L881.3 795.4 L879.3 796.4 L877.4 797.3 L875.4 798.3 L873.4 799.3 L871.5 800.2 L869.5 801.1 L867.6 801.9 L865.7 802.8 L863.9 803.6 L862.1 804.4 L846.7 769.9 L848.5 769 L850.4 768.2 L852.2 767.4 L853.9 766.6 L855.6 765.9 L857.2 765.1 L858.9 764.3 L860.5 763.5 L862.1 762.7 L863.7 761.9 L865.3 761 L866.9 760.2 L868.5 759.3 L870.1 758.4 L871.7 757.5 L873.2 756.5 L874.8 755.6 L876.3 754.6 L877.9 753.7 L879.4 752.7 L880.9 751.7 L882.4 750.7 L883.9 749.6 L885.4 748.6 L886.8 747.5 L888.3 746.4 L889.8 745.3 L891.2 744.2 L892.6 743.1 L894.1 742 L895.5 740.8 L896.9 739.7 L898.3 738.5 L899.6 737.3 L901 736.1 L902.3 734.9 L903.7 733.7 L905 732.5 L906.3 731.2 L907.6 729.9 L908.9 728.7 L910.2 727.4 L911.5 726.1 L912.7 724.8 L914 723.4 L915.2 722.1 L916.4 720.7 L917.6 719.4 L918.8 718 L920 716.6 L921.1 715.2 L922.3 713.8 L923.4 712.4 L924.5 711 L925.6 709.5 L926.7 708.1 L927.8 706.6 L928.9 705.1 L929.9 703.6 L930.9 702.2 L932 700.6 L933 699.1 L934 697.6 L934.9 696.1 L935.9 694.5 L936.8 693 L937.8 691.4 L938.7 689.9 L939.6 688.3 L940.5 686.7 L941.3 685.1 L942.2 683.5 L943 681.9 L943.8 680.3 L944.6 678.6 L945.4 677 L946.2 675.4 L947 673.7 L947.7 672 L948.4 670.4 L949.1 668.7 L949.8 667 L950.5 665.3 L951.2 663.6 L951.8 661.9 L952.4 660.2 L953 658.5 L953.6 656.8 L954.2 655.1 L954.8 653.4 L955.3 651.6 L955.8 649.9 L956.3 648.1 L956.8 646.4 L957.3 644.6 L957.8 642.9 L958.2 641.1 L958.6 639.4 L959 637.6 L959.4 635.8 L959.8 634 L960.1 632.3 L960.5 630.5 L960.8 628.7 L961.1 626.9 L961.4 625.1 L961.6 623.3 L961.9 621.5 L962.1 619.7 L962.3 617.9 L962.5 616.1 L962.7 614.3 L962.9 612.5 L963 610.7 L963.1 608.8 L963.2 607 L963.3 605.2 L963.4 603.4 L963.4 601.6 L963.5 599.8 L963.5 598 L963.5 596.1 L963.5 594.1 L963.5 592.1 L963.5 590 L963.5 588 L963.5 586 L963.5 584 L963.5 582 L963.5 580 L963.5 578 L963.5 576 L963.5 574 L963.5 572 L963.5 570 L963.5 568 L963.5 566 L963.5 564 L963.5 562 L963.5 560 L963.5 558 L963.5 556 L963.5 554 L963.5 552 L963.5 550 L963.5 548 L963.5 546 L963.5 544 L963.5 542 L963.5 540 L963.5 538 L963.5 536 L963.5 534 L963.5 532 L963.5 530 L963.5 528 L963.5 526 L963.5 524 L963.5 522 L963.5 520 L963.5 518 L963.5 516 L963.5 514 L963.5 512 L963.5 510 L963.5 508 L963.5 506 L963.5 504 L963.5 502 L963.5 500 L963.5 498 L963.5 496 L963.5 494 L963.5 492 L963.5 490 L963.5 488 L963.5 486 L963.5 484 L963.5 482 L963.5 480 L963.5 478 L963.5 476 L963.5 474 L963.5 472 L963.5 470 L963.5 468 L963.5 466 L963.5 464 L963.5 462 L963.5 460 L963.5 458 Z" stroke="none" stroke-width="0.0" fill="#fff"/>
<path d="M1000.8 458 L1000.8 460 L1000.8 462 L1000.8 464 L1000.8 466 L1000.8 468 L1000.8 470 L1000.8 472 L1000.8 474 L1000.8 476 L1000.8 478 L1000.8 480 L1000.8 482 L1000.8 484 L1000.8 486 L1000.8 488 L1000.8 490 L1000.8 492 L1000.8 494 L1000.8 496 L1000.8 498 L1000.8 500 L1000.8 502 L1000.8 504 L1000.8 506 L1000.8 508 L1000.8 510 L1000.8 512 L1000.8 514 L1000.8 516 L1000.8 518 L1000.8 520 L1000.8 522 L1000.8 524 L1000.8 526 L1000.8 528 L1000.8 530 L1000.8 532 L1000.8 534 L1000.8 536 L1000.8 538 L1000.8 540 L1000.8 542 L1000.8 544 L1000.8 546 L1000.8 548 L1000.8 550 L1000.8 552 L1000.8 554 L1000.8 556 L1000.8 558 L1000.8 560 L1000.8 562 L1000.8 564 L1000.8 566 L1000.8 568 L1000.8 570 L1000.8 572 L1000.8 574 L1000.8 576 L1000.8 578 L1000.8 580 L1000.8 582 L1000.8 584 L1000.8 586 L1000.8 588 L1000.8 590 L1000.8 592.1 L1000.8 594.1 L1000.8 596.1 L1000.8 598.1 L1000.8 600.3 L1000.7 602.5 L1000.7 604.7 L1000.6 606.9 L1000.5 609 L1000.3 611.2 L1000.2 613.4 L1000 615.6 L999.8 617.7 L999.6 619.9 L999.4 622.1 L999.1 624.2 L998.9 626.4 L998.6 628.6 L998.2 630.7 L997.9 632.9 L997.5 635 L997.2 637.2 L996.8 639.3 L996.3 641.5 L995.9 643.6 L995.4 645.7 L994.9 647.8 L994.4 650 L993.9 652.1 L993.4 654.2 L992.8 656.3 L992.2 658.4 L991.6 660.5 L991 662.6 L990.3 664.7 L989.6 666.7 L988.9 668.8 L988.2 670.9 L987.5 672.9 L986.8 675 L986 677 L985.2 679 L984.4 681.1 L983.6 683.1 L982.7 685.1 L981.8 687.1 L980.9 689.1 L980 691.1 L979.1 693 L978.2 695 L977.2 696.9 L976.2 698.9 L975.2 700.8 L974.2 702.8 L973.1 704.7 L972.1 706.6 L971 708.5 L969.9 710.4 L968.8 712.2 L967.7 714.1 L966.5 715.9 L965.3 717.8 L964.1 719.6 L962.9 721.4 L961.7 723.2 L960.5 725 L959.2 726.8 L957.9 728.6 L956.7 730.3 L955.3 732.1 L954 733.8 L952.7 735.5 L951.3 737.2 L949.9 738.9 L948.5 740.6 L947.1 742.3 L945.7 743.9 L944.3 745.5 L942.8 747.2 L941.3 748.8 L939.8 750.4 L938.3 751.9 L936.8 753.5 L935.3 755 L933.7 756.6 L932.2 758.1 L930.6 759.6 L929 761.1 L927.4 762.6 L925.8 764 L924.1 765.5 L922.5 766.9 L920.8 768.3 L919.1 769.7 L917.4 771.1 L915.7 772.4 L914 773.8 L912.3 775.1 L910.5 776.4 L908.8 777.7 L907 779 L905.2 780.2 L903.4 781.4 L901.6 782.7 L899.8 783.9 L898 785.1 L896.1 786.2 L894.3 787.4 L892.4 788.5 L890.6 789.6 L888.7 790.7 L886.8 791.8 L884.9 792.9 L882.9 793.9 L881 794.9 L879.1 795.9 L877.1 796.9 L875.2 797.9 L873.2 798.8 L871.2 799.7 L869.3 800.6 L867.4 801.5 L865.5 802.3 L863.7 803.1 L861.9 803.9" stroke="#858585" stroke-width="0.94" fill="none"/>
<path d="M964 458 L964 460 L964 462 L964 464 L964 466 L964 468 L964 470 L964 472 L964 474 L964 476 L964 478 L964 480 L964 482 L964 484 L964 486 L964 488 L964 490 L964 492 L964 494 L964 496 L964 498 L964 500 L964 502 L964 504 L964 506 L964 508 L964 510 L964 512 L964 514 L964 516 L964 518 L964 520 L964 522 L964 524 L964 526 L964 528 L964 530 L964 532 L964 534 L964 536 L964 538 L964 540 L964 542 L964 544 L964 546 L964 548 L964 550 L964 552 L964 554 L964 556 L964 558 L964 560 L964 562 L964 564 L964 566 L964 568 L964 570 L964 572 L964 574 L964 576 L964 578 L964 580 L964 582 L964 584 L964 586 L964 588 L964 590 L964 592.1 L964 594.1 L964 596.1 L964 598 L964 599.8 L963.9 601.6 L963.9 603.4 L963.8 605.2 L963.7 607.1 L963.6 608.9 L963.5 610.7 L963.4 612.5 L963.2 614.3 L963 616.1 L962.8 617.9 L962.6 619.8 L962.4 621.6 L962.1 623.4 L961.9 625.2 L961.6 627 L961.3 628.8 L961 630.6 L960.6 632.3 L960.3 634.1 L959.9 635.9 L959.5 637.7 L959.1 639.5 L958.7 641.2 L958.2 643 L957.8 644.8 L957.3 646.5 L956.8 648.3 L956.3 650 L955.8 651.8 L955.2 653.5 L954.7 655.2 L954.1 657 L953.5 658.7 L952.9 660.4 L952.3 662.1 L951.6 663.8 L951 665.5 L950.3 667.2 L949.6 668.9 L948.9 670.6 L948.2 672.2 L947.4 673.9 L946.7 675.6 L945.9 677.2 L945.1 678.8 L944.3 680.5 L943.5 682.1 L942.6 683.7 L941.8 685.3 L940.9 686.9 L940 688.5 L939.1 690.1 L938.2 691.7 L937.3 693.2 L936.3 694.8 L935.4 696.3 L934.4 697.9 L933.4 699.4 L932.4 700.9 L931.4 702.4 L930.3 703.9 L929.3 705.4 L928.2 706.9 L927.1 708.4 L926 709.8 L924.9 711.3 L923.8 712.7 L922.7 714.1 L921.5 715.5 L920.4 716.9 L919.2 718.3 L918 719.7 L916.8 721.1 L915.6 722.4 L914.3 723.8 L913.1 725.1 L911.8 726.4 L910.6 727.7 L909.3 729 L908 730.3 L906.7 731.6 L905.4 732.8 L904 734.1 L902.7 735.3 L901.3 736.5 L900 737.7 L898.6 738.9 L897.2 740.1 L895.8 741.2 L894.4 742.4 L892.9 743.5 L891.5 744.6 L890.1 745.7 L888.6 746.8 L887.1 747.9 L885.7 749 L884.2 750 L882.7 751.1 L881.2 752.1 L879.6 753.1 L878.1 754.1 L876.6 755.1 L875 756 L873.5 757 L871.9 757.9 L870.3 758.8 L868.8 759.7 L867.2 760.6 L865.6 761.5 L864 762.3 L862.3 763.1 L860.7 764 L859.1 764.8 L857.4 765.6 L855.8 766.3 L854.1 767.1 L852.4 767.9 L850.6 768.7 L848.7 769.5 L846.9 770.3" stroke="#858585" stroke-width="0.94" fill="none"/>
<path d="M969 458 L969 460 L969 462 L969 464 L969 466 L969 468 L969 470 L969 472 L969 474 L969 476 L969 478 L969 480 L969 482 L969 484 L969 486 L969 488 L969 490 L969 492 L969 494 L969 496 L969 498 L969 500 L969 502 L969 504 L969 506 L969 508 L969 510 L969 512 L969 514 L969 516 L969 518 L969 520 L969 522 L969 524 L969 526 L969 528 L969 530 L969 532 L969 534 L969 536 L969 538 L969 540 L969 542 L969 544 L969 546 L969 548 L969 550 L969 552 L969 554 L969 556 L969 558 L969 560 L969 562 L969 564 L969 566 L969 568 L969 570 L969 572 L969 574 L969 576 L969 578 L969 580 L969 582 L969 584 L969 586 L969 588 L969 590 L969 592.1 L969 594.1 L969 596.1 L969 598 L969 599.9 L968.9 601.7 L968.9 603.6 L968.8 605.5 L968.7 607.3 L968.6 609.2 L968.5 611.1 L968.3 612.9 L968.2 614.8 L968 616.6 L967.8 618.5 L967.6 620.4 L967.3 622.2 L967.1 624.1 L966.8 625.9 L966.5 627.8 L966.2 629.6 L965.9 631.5 L965.5 633.3 L965.2 635.1 L964.8 637 L964.4 638.8 L964 640.6 L963.5 642.4 L963.1 644.2 L962.6 646.1 L962.1 647.9 L961.6 649.7 L961.1 651.5 L960.6 653.2 L960 655 L959.4 656.8 L958.8 658.6 L958.2 660.3 L957.6 662.1 L957 663.9 L956.3 665.6 L955.6 667.4 L954.9 669.1 L954.2 670.8 L953.5 672.5 L952.7 674.3 L952 676 L951.2 677.7 L950.4 679.4 L949.6 681 L948.8 682.7 L947.9 684.4 L947 686 L946.2 687.7 L945.3 689.3 L944.4 691 L943.4 692.6 L942.5 694.2 L941.5 695.8 L940.6 697.4 L939.6 699 L938.6 700.6 L937.6 702.2 L936.5 703.7 L935.5 705.3 L934.4 706.8 L933.3 708.3 L932.2 709.8 L931.1 711.3 L930 712.8 L928.9 714.3 L927.7 715.8 L926.6 717.3 L925.4 718.7 L924.2 720.1 L923 721.6 L921.7 723 L920.5 724.4 L919.3 725.8 L918 727.2 L916.7 728.5 L915.4 729.9 L914.1 731.2 L912.8 732.6 L911.5 733.9 L910.1 735.2 L908.8 736.5 L907.4 737.7 L906 739 L904.6 740.2 L903.2 741.5 L901.8 742.7 L900.4 743.9 L899 745.1 L897.5 746.3 L896 747.4 L894.6 748.6 L893.1 749.7 L891.6 750.9 L890.1 752 L888.6 753.1 L887 754.1 L885.5 755.2 L883.9 756.2 L882.4 757.3 L880.8 758.3 L879.2 759.3 L877.7 760.3 L876.1 761.2 L874.4 762.2 L872.8 763.1 L871.2 764.1 L869.6 765 L867.9 765.9 L866.3 766.7 L864.6 767.6 L862.9 768.4 L861.3 769.3 L859.6 770.1 L857.9 770.9 L856.2 771.7 L854.4 772.4 L852.6 773.3 L850.8 774.1 L848.9 774.9" stroke="#858585" stroke-width="0.75" fill="none"/>
<path d="M1001.3 463.2 Q1001.8 464 1001.3 464 C1001.3 467.2 963.5 467.2 963.5 464 Q963 464 963.5 463.2" stroke="#858585" stroke-width="0.94" fill="none"/>
<path d="M1000.5 465.3 C1000.5 468.5 964.3 468.5 964.3 465.3" stroke="#858585" stroke-width="0.94" fill="none"/>
<path d="M1001.3 469 Q1001.8 469.8 1001.3 469.8 C1001.3 473 963.5 473 963.5 469.8 Q963 469.8 963.5 469" stroke="#858585" stroke-width="0.94" fill="none"/>
<path d="M1000.5 471.1 C1000.5 474.3 964.3 474.3 964.3 471.1" stroke="#858585" stroke-width="0.94" fill="none"/>
<path d="M1001.3 474.8 Q1001.8 475.6 1001.3 475.6 C1001.3 478.8 963.5 478.8 963.5 475.6 Q963 475.6 963.5 474.8" stroke="#858585" stroke-width="0.94" fill="none"/>
<path d="M1000.5 476.9 C1000.5 480.1 964.3 480.1 964.3 476.9" stroke="#858585" stroke-width="0.94" fill="none"/>
<path d="M1001.3 480.6 Q1001.8 481.4 1001.3 481.4 C1001.3 484.6 963.5 484.6 963.5 481.4 Q963 481.4 963.5 480.6" stroke="#858585" stroke-width="0.94" fill="none"/>
<path d="M1000.5 482.7 C1000.5 485.9 964.3 485.9 964.3 482.7" stroke="#858585" stroke-width="0.94" fill="none"/>
<path d="M1001.3 486.4 Q1001.8 487.2 1001.3 487.2 C1001.3 490.4 963.5 490.4 963.5 487.2 Q963 487.2 963.5 486.4" stroke="#858585" stroke-width="0.94" fill="none"/>
<path d="M1000.5 488.5 C1000.5 491.7 964.3 491.7 964.3 488.5" stroke="#858585" stroke-width="0.94" fill="none"/>
<path d="M1001.3 492.2 Q1001.8 493 1001.3 493 C1001.3 496.2 963.5 496.2 963.5 493 Q963 493 963.5 492.2" stroke="#858585" stroke-width="0.94" fill="none"/>
<path d="M1000.5 494.3 C1000.5 497.5 964.3 497.5 964.3 494.3" stroke="#858585" stroke-width="0.94" fill="none"/>
<path d="M1001.3 498 Q1001.8 498.8 1001.3 498.8 C1001.3 502 963.5 502 963.5 498.8 Q963 498.8 963.5 498" stroke="#858585" stroke-width="0.94" fill="none"/>
<path d="M1000.5 500.1 C1000.5 503.3 964.3 503.3 964.3 500.1" stroke="#858585" stroke-width="0.94" fill="none"/>
<path d="M1001.3 503.8 Q1001.8 504.6 1001.3 504.6 C1001.3 507.8 963.5 507.8 963.5 504.6 Q963 504.6 963.5 503.8" stroke="#858585" stroke-width="0.94" fill="none"/>
<path d="M1000.5 505.9 C1000.5 509.1 964.3 509.1 964.3 505.9" stroke="#858585" stroke-width="0.94" fill="none"/>
<path d="M1001.3 509.6 Q1001.8 510.4 1001.3 510.4 C1001.3 513.6 963.5 513.6 963.5 510.4 Q963 510.4 963.5 509.6" stroke="#858585" stroke-width="0.94" fill="none"/>
<path d="M1000.5 511.7 C1000.5 514.9 964.3 514.9 964.3 511.7" stroke="#858585" stroke-width="0.94" fill="none"/>
<path d="M1001.3 515.4 Q1001.8 516.2 1001.3 516.2 C1001.3 519.4 963.5 519.4 963.5 516.2 Q963 516.2 963.5 515.4" stroke="#858585" stroke-width="0.94" fill="none"/>
<path d="M1000.5 517.5 C1000.5 520.7 964.3 520.7 964.3 517.5" stroke="#858585" stroke-width="0.94" fill="none"/>
<path d="M1001.3 521.2 Q1001.8 522 1001.3 522 C1001.3 525.2 963.5 525.2 963.5 522 Q963 522 963.5 521.2" stroke="#858585" stroke-width="0.94" fill="none"/>
<path d="M1000.5 523.3 C1000.5 526.5 964.3 526.5 964.3 523.3" stroke="#858585" stroke-width="0.94" fill="none"/>
<path d="M1001.3 527 Q1001.8 527.8 1001.3 527.8 C1001.3 531 963.5 531 963.5 527.8 Q963 527.8 963.5 527" stroke="#858585" stroke-width="0.94" fill="none"/>
<path d="M1000.5 529.1 C1000.5 532.3 964.3 532.3 964.3 529.1" stroke="#858585" stroke-width="0.94" fill="none"/>
<path d="M1001.3 532.8 Q1001.8 533.6 1001.3 533.6 C1001.3 536.8 963.5 536.8 963.5 533.6 Q963 533.6 963.5 532.8" stroke="#858585" stroke-width="0.94" fill="none"/>
<path d="M1000.5 534.9 C1000.5 538.1 964.3 538.1 964.3 534.9" stroke="#858585" stroke-width="0.94" fill="none"/>
<path d="M1001.3 538.6 Q1001.8 539.4 1001.3 539.4 C1001.3 542.6 963.5 542.6 963.5 539.4 Q963 539.4 963.5 538.6" stroke="#858585" stroke-width="0.94" fill="none"/>
<path d="M1000.5 540.7 C1000.5 543.9 964.3 543.9 964.3 540.7" stroke="#858585" stroke-width="0.94" fill="none"/>
<path d="M1001.3 544.4 Q1001.8 545.2 1001.3 545.2 C1001.3 548.4 963.5 548.4 963.5 545.2 Q963 545.2 963.5 544.4" stroke="#858585" stroke-width="0.94" fill="none"/>
<path d="M1000.5 546.5 C1000.5 549.7 964.3 549.7 964.3 546.5" stroke="#858585" stroke-width="0.94" fill="none"/>
<path d="M1001.3 550.2 Q1001.8 551 1001.3 551 C1001.3 554.2 963.5 554.2 963.5 551 Q963 551 963.5 550.2" stroke="#858585" stroke-width="0.94" fill="none"/>
<path d="M1000.5 552.3 C1000.5 555.5 964.3 555.5 964.3 552.3" stroke="#858585" stroke-width="0.94" fill="none"/>
<path d="M1001.3 556 Q1001.8 556.8 1001.3 556.8 C1001.3 560 963.5 560 963.5 556.8 Q963 556.8 963.5 556" stroke="#858585" stroke-width="0.94" fill="none"/>
<path d="M1000.5 558.1 C1000.5 561.3 964.3 561.3 964.3 558.1" stroke="#858585" stroke-width="0.94" fill="none"/>
<path d="M1001.3 561.8 Q1001.8 562.6 1001.3 562.6 C1001.3 565.8 963.5 565.8 963.5 562.6 Q963 562.6 963.5 561.8" stroke="#858585" stroke-width="0.94" fill="none"/>
<path d="M1000.5 563.9 C1000.5 567.1 964.3 567.1 964.3 563.9" stroke="#858585" stroke-width="0.94" fill="none"/>
<path d="M1001.3 567.6 Q1001.8 568.4 1001.3 568.4 C1001.3 571.6 963.5 571.6 963.5 568.4 Q963 568.4 963.5 567.6" stroke="#858585" stroke-width="0.94" fill="none"/>
<path d="M1000.5 569.7 C1000.5 572.9 964.3 572.9 964.3 569.7" stroke="#858585" stroke-width="0.94" fill="none"/>
<path d="M1001.3 573.4 Q1001.8 574.2 1001.3 574.2 C1001.3 577.4 963.5 577.4 963.5 574.2 Q963 574.2 963.5 573.4" stroke="#858585" stroke-width="0.94" fill="none"/>
<path d="M1000.5 575.5 C1000.5 578.7 964.3 578.7 964.3 575.5" stroke="#858585" stroke-width="0.94" fill="none"/>
<path d="M1001.3 579.2 Q1001.8 580 1001.3 580 C1001.3 583.3 963.5 583.3 963.5 580 Q963 580 963.5 579.2" stroke="#858585" stroke-width="0.94" fill="none"/>
<path d="M1000.5 581.3 C1000.5 584.6 964.3 584.6 964.3 581.3" stroke="#858585" stroke-width="0.94" fill="none"/>
<path d="M1001.3 585 Q1001.8 585.8 1001.3 585.8 C1001.3 589.2 963.5 589.2 963.5 585.8 Q963 585.8 963.5 585" stroke="#858585" stroke-width="0.94" fill="none"/>
<path d="M1000.5 587.1 C1000.5 590.5 964.3 590.5 964.3 587.1" stroke="#858585" stroke-width="0.94" fill="none"/>
<path d="M1001.3 590.7 Q1001.8 591.5 1001.3 591.5 C1001.3 595 963.5 595 963.5 591.5 Q963 591.5 963.5 590.7" stroke="#858585" stroke-width="0.94" fill="none"/>
<path d="M1000.5 592.8 C1000.5 596.3 964.3 596.3 964.3 592.8" stroke="#858585" stroke-width="0.94" fill="none"/>
<path d="M1001.3 596.3 Q1001.8 597.1 1001.3 597.1 C1001.3 600.8 963.5 600.8 963.5 597.1 Q963 597.1 963.5 596.3" stroke="#858585" stroke-width="0.94" fill="none"/>
<path d="M1000.5 598.4 C1000.5 602.1 964.3 602.1 964.3 598.4" stroke="#858585" stroke-width="0.94" fill="none"/>
<path d="M1001.2 602.4 Q1001.7 603.3 1001.2 603.2 C1001.1 607.1 963.3 606 963.4 602.2 Q962.9 602.2 963.4 601.4" stroke="#858585" stroke-width="0.94" fill="none"/>
<path d="M1000.4 604.5 C1000.3 608.3 964.1 607.3 964.2 603.5" stroke="#858585" stroke-width="0.94" fill="none"/>
<path d="M1001 608.5 Q1001.5 609.3 1001 609.3 C1000.7 613.2 963 611.2 963.2 607.2 Q962.7 607.2 963.3 606.4" stroke="#858585" stroke-width="0.94" fill="none"/>
<path d="M1000.1 610.5 C999.9 614.5 963.7 612.5 963.9 608.6" stroke="#858585" stroke-width="0.94" fill="none"/>
<path d="M1000.6 614.5 Q1001.1 615.3 1000.6 615.3 C1000.2 619.3 962.5 616.3 962.9 612.2 Q962.4 612.1 962.9 611.4" stroke="#858585" stroke-width="0.94" fill="none"/>
<path d="M999.7 616.5 C999.3 620.6 963.2 617.6 963.6 613.5" stroke="#858585" stroke-width="0.94" fill="none"/>
<path d="M1000.1 620.4 Q1000.5 621.2 1000 621.2 C999.5 625.4 962 621.3 962.4 617.1 Q961.9 617 962.5 616.3" stroke="#858585" stroke-width="0.94" fill="none"/>
<path d="M999.1 622.4 C998.6 626.6 962.6 622.7 963.1 618.5" stroke="#858585" stroke-width="0.94" fill="none"/>
<path d="M999.4 626.2 Q999.8 627.1 999.3 627 C998.7 631.3 961.2 626.2 961.8 621.9 Q961.3 621.9 961.9 621.2" stroke="#858585" stroke-width="0.94" fill="none"/>
<path d="M998.3 628.2 C997.7 632.5 961.9 627.6 962.4 623.3" stroke="#858585" stroke-width="0.94" fill="none"/>
<path d="M998.6 632 Q998.9 632.8 998.4 632.8 C997.7 637.2 960.4 631.1 961.1 626.7 Q960.6 626.6 961.2 625.9" stroke="#858585" stroke-width="0.94" fill="none"/>
<path d="M997.4 633.9 C996.7 638.3 961 632.6 961.7 628.1" stroke="#858585" stroke-width="0.94" fill="none"/>
<path d="M997.6 637.7 Q997.9 638.5 997.4 638.4 C996.6 643 959.4 636 960.3 631.4 Q959.8 631.4 960.4 630.7" stroke="#858585" stroke-width="0.94" fill="none"/>
<path d="M996.4 639.6 C995.6 644.1 960 637.4 960.8 632.9" stroke="#858585" stroke-width="0.94" fill="none"/>
<path d="M996.5 643.3 Q996.8 644.1 996.3 644 C995.3 648.7 958.4 640.7 959.3 636.1 Q958.9 636 959.5 635.3" stroke="#858585" stroke-width="0.94" fill="none"/>
<path d="M995.2 645.1 C994.3 649.8 958.9 642.2 959.9 637.5" stroke="#858585" stroke-width="0.94" fill="none"/>
<path d="M995.2 648.8 Q995.5 649.7 995 649.6 C993.9 654.3 957.2 645.4 958.3 640.7 Q957.8 640.6 958.5 639.9" stroke="#858585" stroke-width="0.94" fill="none"/>
<path d="M994 650.6 C992.8 655.3 957.6 646.8 958.8 642.1" stroke="#858585" stroke-width="0.94" fill="none"/>
<path d="M993.9 654.2 Q994.1 655.1 993.7 655 C992.4 659.8 955.9 650 957.2 645.2 Q956.7 645.1 957.4 644.4" stroke="#858585" stroke-width="0.94" fill="none"/>
<path d="M992.6 656 C991.3 660.8 956.3 651.4 957.6 646.7" stroke="#858585" stroke-width="0.94" fill="none"/>
<path d="M992.4 659.5 Q992.6 660.5 992.2 660.3 C990.7 665.2 954.5 654.5 955.9 649.6 Q955.4 649.5 956.1 648.9" stroke="#858585" stroke-width="0.94" fill="none"/>
<path d="M991 661.3 C989.6 666.2 954.9 656 956.3 651.1" stroke="#858585" stroke-width="0.94" fill="none"/>
<path d="M990.8 664.8 Q991 665.7 990.5 665.6 C989 670.5 953 658.9 954.6 654 Q954.1 653.8 954.8 653.2" stroke="#858585" stroke-width="0.94" fill="none"/>
<path d="M989.4 666.5 C987.8 671.5 953.3 660.4 954.9 655.5" stroke="#858585" stroke-width="0.94" fill="none"/>
<path d="M989.1 670 Q989.3 670.9 988.8 670.7 C987.1 675.7 951.4 663.3 953.1 658.3 Q952.7 658.1 953.4 657.5" stroke="#858585" stroke-width="0.94" fill="none"/>
<path d="M987.6 671.7 C985.9 676.7 951.7 664.8 953.5 659.8" stroke="#858585" stroke-width="0.94" fill="none"/>
<path d="M987.3 675 Q987.5 675.9 987 675.8 C985.1 680.9 949.7 667.6 951.6 662.5 Q951.1 662.3 951.9 661.7" stroke="#858585" stroke-width="0.94" fill="none"/>
<path d="M985.8 676.7 C983.9 681.8 950 669.1 951.9 664" stroke="#858585" stroke-width="0.94" fill="none"/>
<path d="M985.4 680 Q985.5 680.9 985.1 680.7 C983 685.9 947.9 671.8 950 666.6 Q949.5 666.4 950.3 665.9" stroke="#858585" stroke-width="0.94" fill="none"/>
<path d="M983.8 681.6 C981.7 686.8 948.2 673.3 950.3 668.1" stroke="#858585" stroke-width="0.94" fill="none"/>
<path d="M983.3 684.9 Q983.5 685.8 983 685.6 C980.8 690.8 946.1 675.9 948.3 670.6 Q947.8 670.5 948.6 669.9" stroke="#858585" stroke-width="0.94" fill="none"/>
<path d="M981.8 686.5 C979.5 691.7 946.3 677.4 948.5 672.2" stroke="#858585" stroke-width="0.94" fill="none"/>
<path d="M981.2 689.7 Q981.4 690.6 980.9 690.4 C978.5 695.6 944.1 679.9 946.5 674.6 Q946.1 674.4 946.9 673.9" stroke="#858585" stroke-width="0.94" fill="none"/>
<path d="M979.6 691.2 C977.2 696.5 944.3 681.4 946.7 676.1" stroke="#858585" stroke-width="0.94" fill="none"/>
<path d="M979 694.3 Q979.1 695.3 978.7 695.1 C976.1 700.4 942.1 683.8 944.7 678.5 Q944.3 678.3 945.1 677.8" stroke="#858585" stroke-width="0.94" fill="none"/>
<path d="M977.4 695.9 C974.8 701.2 942.3 685.3 944.9 680" stroke="#858585" stroke-width="0.94" fill="none"/>
<path d="M976.8 698.9 Q976.8 699.9 976.4 699.6 C973.6 705 940 687.7 942.8 682.3 Q942.3 682.1 943.2 681.6" stroke="#858585" stroke-width="0.94" fill="none"/>
<path d="M975.1 700.4 C972.3 705.8 940.2 689.2 942.9 683.8" stroke="#858585" stroke-width="0.94" fill="none"/>
<path d="M974.4 703.4 Q974.4 704.4 974 704.1 C971.1 709.5 937.9 691.4 940.8 686 Q940.4 685.8 941.2 685.3" stroke="#858585" stroke-width="0.94" fill="none"/>
<path d="M972.7 704.9 C969.8 710.3 938 692.9 940.9 687.6" stroke="#858585" stroke-width="0.94" fill="none"/>
<path d="M972 707.8 Q972 708.8 971.6 708.5 C968.4 713.9 935.7 695.1 938.8 689.7 Q938.3 689.4 939.2 689" stroke="#858585" stroke-width="0.94" fill="none"/>
<path d="M970.2 709.2 C967.1 714.6 935.7 696.6 938.8 691.2" stroke="#858585" stroke-width="0.94" fill="none"/>
<path d="M969.4 712.1 Q969.5 713.1 969 712.8 C965.7 718.2 933.4 698.7 936.7 693.3 Q936.2 693 937.1 692.6" stroke="#858585" stroke-width="0.94" fill="none"/>
<path d="M967.7 713.5 C964.4 718.9 933.4 700.2 936.7 694.8" stroke="#858585" stroke-width="0.94" fill="none"/>
<path d="M966.9 716.3 Q966.9 717.3 966.4 717 C963 722.4 931.1 702.2 934.5 696.7 Q934.1 696.5 934.9 696.1" stroke="#858585" stroke-width="0.94" fill="none"/>
<path d="M965.1 717.7 C961.6 723.1 931 703.7 934.5 698.3" stroke="#858585" stroke-width="0.94" fill="none"/>
<path d="M964.2 720.4 Q964.2 721.4 963.8 721.1 C960.1 726.5 928.7 705.6 932.3 700.1 Q931.9 699.9 932.7 699.5" stroke="#858585" stroke-width="0.94" fill="none"/>
<path d="M962.4 721.7 C958.8 727.2 928.6 707.1 932.3 701.7" stroke="#858585" stroke-width="0.94" fill="none"/>
<path d="M961.5 724.4 Q961.5 725.4 961 725.1 C957.2 730.5 926.2 708.9 930 703.5 Q929.6 703.2 930.5 702.8" stroke="#858585" stroke-width="0.94" fill="none"/>
<path d="M959.6 725.7 C955.8 731.2 926.1 710.4 930 705" stroke="#858585" stroke-width="0.94" fill="none"/>
<path d="M958.7 728.3 Q958.7 729.3 958.3 729 C954.3 734.4 923.7 712.2 927.7 706.7 Q927.3 706.4 928.2 706.1" stroke="#858585" stroke-width="0.94" fill="none"/>
<path d="M956.9 729.6 C952.9 735 923.6 713.7 927.6 708.2" stroke="#858585" stroke-width="0.94" fill="none"/>
<path d="M955.9 732.1 Q955.8 733.1 955.4 732.8 C951.3 738.2 921.2 715.3 925.4 709.9 Q925 709.6 925.9 709.2" stroke="#858585" stroke-width="0.94" fill="none"/>
<path d="M954 733.3 C949.8 738.8 921.1 716.8 925.2 711.4" stroke="#858585" stroke-width="0.94" fill="none"/>
<path d="M953 735.9 Q952.9 736.8 952.5 736.5 C948.2 741.9 918.6 718.4 923 712.9 Q922.6 712.6 923.5 712.3" stroke="#858585" stroke-width="0.94" fill="none"/>
<path d="M951.1 737 C946.8 742.5 918.5 719.9 922.8 714.4" stroke="#858585" stroke-width="0.94" fill="none"/>
<path d="M950.1 739.5 Q950 740.4 949.6 740.1 C945.1 745.5 916 721.4 920.5 715.9 Q920.2 715.6 921.1 715.3" stroke="#858585" stroke-width="0.94" fill="none"/>
<path d="M948.2 740.6 C943.6 746 915.8 722.9 920.3 717.4" stroke="#858585" stroke-width="0.94" fill="none"/>
<path d="M947.2 743 Q947 743.9 946.6 743.6 C941.9 749 913.4 724.3 918.1 718.8 Q917.7 718.5 918.6 718.2" stroke="#858585" stroke-width="0.94" fill="none"/>
<path d="M945.2 744.1 C940.5 749.5 913.1 725.8 917.8 720.4" stroke="#858585" stroke-width="0.94" fill="none"/>
<path d="M944.2 746.4 Q944 747.3 943.6 747 C938.7 752.4 910.7 727.1 915.6 721.7 Q915.2 721.3 916.1 721.1" stroke="#858585" stroke-width="0.94" fill="none"/>
<path d="M942.2 747.4 C937.3 752.8 910.4 728.6 915.3 723.2" stroke="#858585" stroke-width="0.94" fill="none"/>
<path d="M941.1 749.7 Q940.9 750.7 940.6 750.3 C935.5 755.7 908 729.8 913 724.4 Q912.6 724.1 913.6 723.9" stroke="#858585" stroke-width="0.94" fill="none"/>
<path d="M939.1 750.7 C934 756.1 907.7 731.3 912.7 725.9" stroke="#858585" stroke-width="0.94" fill="none"/>
<path d="M938 753 Q937.8 753.9 937.5 753.6 C932.2 758.9 905.2 732.5 910.4 727.1 Q910.1 726.8 911 726.6" stroke="#858585" stroke-width="0.94" fill="none"/>
<path d="M936 753.9 C930.8 759.3 904.9 734 910.1 728.6" stroke="#858585" stroke-width="0.94" fill="none"/>
<path d="M934.9 756.1 Q934.7 757 934.3 756.7 C928.9 762 902.4 735 907.8 729.7 Q907.5 729.4 908.4 729.2" stroke="#858585" stroke-width="0.94" fill="none"/>
<path d="M932.9 757 C927.5 762.3 902.1 736.5 907.5 731.2" stroke="#858585" stroke-width="0.94" fill="none"/>
<path d="M931.8 759.2 Q931.5 760.1 931.2 759.7 C925.6 765 899.7 737.5 905.2 732.3 Q904.9 731.9 905.8 731.7" stroke="#858585" stroke-width="0.94" fill="none"/>
<path d="M929.7 760 C924.1 765.3 899.3 739 904.8 733.7" stroke="#858585" stroke-width="0.94" fill="none"/>
<path d="M928.6 762.1 Q928.3 763.1 928 762.7 C922.3 767.9 896.8 739.9 902.6 734.7 Q902.2 734.3 903.2 734.2" stroke="#858585" stroke-width="0.94" fill="none"/>
<path d="M926.5 763 C920.8 768.2 896.4 741.4 902.2 736.2" stroke="#858585" stroke-width="0.94" fill="none"/>
<path d="M925.4 765 Q925.1 765.9 924.8 765.5 C918.9 770.7 894 742.3 899.9 737.1 Q899.6 736.7 900.5 736.6" stroke="#858585" stroke-width="0.94" fill="none"/>
<path d="M923.3 765.8 C917.4 771 893.5 743.7 899.5 738.5" stroke="#858585" stroke-width="0.94" fill="none"/>
<path d="M922.2 767.8 Q921.9 768.7 921.6 768.3 C915.5 773.4 891.1 744.5 897.2 739.4 Q896.9 739 897.8 738.9" stroke="#858585" stroke-width="0.94" fill="none"/>
<path d="M920 768.5 C914 773.7 890.7 746 896.7 740.8" stroke="#858585" stroke-width="0.94" fill="none"/>
<path d="M918.9 770.5 Q918.6 771.4 918.3 771 C912.1 776.1 888.3 746.7 894.5 741.6 Q894.2 741.2 895.1 741.1" stroke="#858585" stroke-width="0.94" fill="none"/>
<path d="M916.8 771.2 C910.6 776.3 887.8 748.1 894 743.1" stroke="#858585" stroke-width="0.94" fill="none"/>
<path d="M915.7 773.1 Q915.3 774 915 773.6 C908.6 778.6 885.4 748.8 891.8 743.8 Q891.5 743.4 892.4 743.3" stroke="#858585" stroke-width="0.94" fill="none"/>
<path d="M913.5 773.8 C907.1 778.8 884.9 750.2 891.3 745.2" stroke="#858585" stroke-width="0.94" fill="none"/>
<path d="M912.4 775.6 Q912.1 776.5 911.8 776.1 C905.2 781 882.5 750.8 889.1 745.9 Q888.8 745.5 889.7 745.4" stroke="#858585" stroke-width="0.94" fill="none"/>
<path d="M910.2 776.2 C903.7 781.2 881.9 752.2 888.5 747.3" stroke="#858585" stroke-width="0.94" fill="none"/>
<path d="M909.1 778.1 Q908.8 778.9 908.5 778.5 C901.7 783.4 879.6 752.7 886.3 747.9 Q886 747.5 887 747.4" stroke="#858585" stroke-width="0.94" fill="none"/>
<path d="M906.9 778.6 C900.2 783.5 879 754.2 885.7 749.3" stroke="#858585" stroke-width="0.94" fill="none"/>
<path d="M905.8 780.4 Q905.4 781.3 905.2 780.9 C898.3 785.7 876.7 754.6 883.6 749.8 Q883.3 749.4 884.2 749.4" stroke="#858585" stroke-width="0.94" fill="none"/>
<path d="M903.6 781 C896.7 785.7 876.1 756 883 751.2" stroke="#858585" stroke-width="0.94" fill="none"/>
<path d="M902.5 782.7 Q902.1 783.6 901.8 783.1 C894.8 787.8 873.8 756.4 880.8 751.7 Q880.5 751.3 881.5 751.3" stroke="#858585" stroke-width="0.94" fill="none"/>
<path d="M900.3 783.2 C893.3 787.9 873.1 757.8 880.2 753.1" stroke="#858585" stroke-width="0.94" fill="none"/>
<path d="M899.2 784.9 Q898.8 785.7 898.5 785.3 C891.3 790 870.9 758.2 878.1 753.5 Q877.8 753.1 878.7 753.1" stroke="#858585" stroke-width="0.94" fill="none"/>
<path d="M897 785.3 C889.8 790 870.2 759.5 877.4 754.9" stroke="#858585" stroke-width="0.94" fill="none"/>
<path d="M895.9 787 Q895.4 787.8 895.2 787.4 C887.8 792 867.9 759.8 875.3 755.3 Q875 754.8 876 754.8" stroke="#858585" stroke-width="0.94" fill="none"/>
<path d="M893.7 787.4 C886.3 792 867.3 761.2 874.6 756.6" stroke="#858585" stroke-width="0.94" fill="none"/>
<path d="M892.5 789 Q892.1 789.9 891.8 789.4 C884.3 793.9 865 761.4 872.5 757 Q872.3 756.5 873.2 756.5" stroke="#858585" stroke-width="0.94" fill="none"/>
<path d="M890.3 789.4 C882.8 793.9 864.3 762.8 871.8 758.3" stroke="#858585" stroke-width="0.94" fill="none"/>
<path d="M889.2 791 Q888.8 791.8 888.5 791.4 C880.9 795.8 862.1 762.9 869.8 758.6 Q869.5 758.1 870.4 758.2" stroke="#858585" stroke-width="0.94" fill="none"/>
<path d="M887 791.3 C879.3 795.7 861.4 764.3 869 759.9" stroke="#858585" stroke-width="0.94" fill="none"/>
<path d="M885.9 792.9 Q885.4 793.7 885.2 793.3 C877.4 797.5 859.2 764.4 867 760.1 Q866.7 759.7 867.7 759.7" stroke="#858585" stroke-width="0.94" fill="none"/>
<path d="M883.7 793.2 C875.8 797.5 858.4 765.7 866.2 761.4" stroke="#858585" stroke-width="0.94" fill="none"/>
<path d="M882.6 794.7 Q882.1 795.5 881.8 795 C873.9 799.2 856.3 765.8 864.2 761.6 Q864 761.2 864.9 761.2" stroke="#858585" stroke-width="0.94" fill="none"/>
<path d="M880.3 794.9 C872.4 799.1 855.5 767.1 863.4 762.9" stroke="#858585" stroke-width="0.94" fill="none"/>
<path d="M879.2 796.4 Q878.7 797.2 878.5 796.8 C870.4 800.9 853.4 767.1 861.4 763 Q861.2 762.6 862.2 762.7" stroke="#858585" stroke-width="0.94" fill="none"/>
<path d="M877 796.6 C868.9 800.7 852.6 768.4 860.6 764.3" stroke="#858585" stroke-width="0.94" fill="none"/>
<path d="M875.9 798.1 Q875.4 798.9 875.2 798.4 C867 802.4 850.4 768.4 858.7 764.4 Q858.5 764 859.4 764.1" stroke="#858585" stroke-width="0.94" fill="none"/>
<path d="M873.7 798.3 C865.4 802.3 849.6 769.7 857.9 765.7" stroke="#858585" stroke-width="0.94" fill="none"/>
<path d="M872.6 799.7 Q872.1 800.4 871.9 800 C863.5 803.9 847.6 769.6 855.9 765.7 Q855.7 765.3 856.6 765.4" stroke="#858585" stroke-width="0.94" fill="none"/>
<path d="M870.4 799.8 C862 803.7 846.7 770.9 855.1 767" stroke="#858585" stroke-width="0.94" fill="none"/>
<path d="M869.3 801.2 Q868.8 802 868.6 801.5 C860.1 805.3 844.7 770.8 853.2 767 Q853 766.5 853.9 766.7" stroke="#858585" stroke-width="0.94" fill="none"/>
<path d="M867 801.3 C858.5 805.1 843.8 772 852.3 768.2" stroke="#858585" stroke-width="0.94" fill="none"/>
<path d="M866.3 802.5 Q865.7 803.3 865.5 802.9 C857 806.6 841.7 772.1 850.2 768.3 Q850 767.9 850.9 768" stroke="#858585" stroke-width="0.94" fill="none"/>
<path d="M864 802.6 C855.5 806.4 840.8 773.4 849.3 769.6" stroke="#858585" stroke-width="0.94" fill="none"/>
<ellipse cx="982.4" cy="457.6" rx="18.9" ry="6.4" stroke="#858585" stroke-width="1.12" fill="#fff"/>
<ellipse cx="982.4" cy="458.2" rx="16.6" ry="5" stroke="#858585" stroke-width="0.88" fill="#fff"/>
<path d="M991.5 453.8 L992.2 462.6" stroke="#858585" stroke-width="0.75" fill="none"/>
<ellipse cx="853.5" cy="787.5" rx="12.4" ry="18.4" stroke="#858585" stroke-width="1.12" fill="#fff" transform="rotate(156 853.5 787.5)"/>
<ellipse cx="854.5" cy="787" rx="10.4" ry="16.2" stroke="#858585" stroke-width="0.75" fill="#fff" transform="rotate(156 854.5 787)"/>
<ellipse cx="806" cy="801.6" rx="13.4" ry="20.6" stroke="#1a1a1a" stroke-width="1.88" fill="#fff" transform="rotate(-17 806 801.6)"/>
<path d="M796.5 782.6 L803 781.4 M803.5 822.5 L810.5 821.2" stroke="#1a1a1a" stroke-width="1.88" fill="none"/>
<ellipse cx="799.6" cy="802.6" rx="13.2" ry="20.2" stroke="#1a1a1a" stroke-width="2.38" fill="#fff" transform="rotate(-17 799.6 802.6)"/>
<ellipse cx="801" cy="802.8" rx="11.4" ry="18.2" stroke="#1a1a1a" stroke-width="0.88" fill="none" transform="rotate(-17 801 802.8)"/>
<path d="M 562.8 480.3 Q 564.5 478.3 567.1 478.3 L 612.8 494.7 Q 615.3 495.5 615.3 498.1 L 615.3 509.9 Q 614.8 511.6 612.8 511.6 L 606.8 512.5 L 606.8 553.9 Q 606 556.1 603.5 555.6 L 573 544.6 Q 571.3 543.8 571.3 542.1 L 571.3 501.5 L 569.6 498.1 L 563.7 493.8 Q 562 493 562 490.5 Z" stroke="#1a1a1a" stroke-width="1.38" fill="#fff"/>
<path d="M 565 480.6 L 611.9 497.6 L 612.4 510.8 M 604.3 513.3 L 604.3 553.1 L 573.8 542.4" stroke="#1a1a1a" stroke-width="0.88" fill="none"/>
<path d="M 567.1 483.7 L 610.2 498.9 L 610.2 507.4 L 603.5 508.2 Q 600.9 509.1 600.1 512.5 L 576.4 504.3 Q 575.2 502.3 574.7 499.8 Q 573.8 497.2 572.1 496 L 567.1 493 Z" stroke="#1a1a1a" stroke-width="1.25" fill="#fff"/>
<path d="M 575.5 509.1 L 600.6 517.5 L 600.6 525.7 L 575.5 517.2 Z" stroke="#1a1a1a" stroke-width="1.25" fill="#fff"/>
<path d="M 575.5 521.8 L 600.6 530.2 L 600.6 538.3 L 575.5 529.9 Z" stroke="#1a1a1a" stroke-width="1.25" fill="#fff"/>
<path d="M 575.5 534.5 L 600.6 542.9 L 600.6 551 L 575.5 542.6 Z" stroke="#1a1a1a" stroke-width="1.25" fill="#fff"/>
<path d="M430.5 754.6 L430.5 757.6 A44.4 17 0 0 0 519.3 757.6 L519.3 754.6 Z" stroke="#1a1a1a" stroke-width="1.25" fill="#fff"/>
<ellipse cx="474.9" cy="754.6" rx="44.4" ry="17" stroke="#1a1a1a" stroke-width="1.25" fill="#fff"/>
<ellipse cx="474.9" cy="754.1" rx="42" ry="15.6" stroke="#1a1a1a" stroke-width="0.88" fill="none"/>
<ellipse cx="474.1" cy="750.6" rx="38.5" ry="14.6" stroke="#1a1a1a" stroke-width="1.0" fill="none"/>
<ellipse cx="473.8" cy="744.5" rx="35.8" ry="14.2" stroke="#1a1a1a" stroke-width="1.12" fill="#fff"/>
<ellipse cx="473.6" cy="740.6" rx="35.5" ry="14.2" stroke="#1a1a1a" stroke-width="1.5" fill="#fff"/>
<ellipse cx="473.6" cy="741" rx="32.3" ry="12.3" stroke="#1a1a1a" stroke-width="1.0" fill="none"/>
<ellipse cx="473.6" cy="742" rx="28" ry="10.3" stroke="#1a1a1a" stroke-width="1.38" fill="#fff"/>
<ellipse cx="473.6" cy="743" rx="25.5" ry="9" stroke="#1a1a1a" stroke-width="0.88" fill="none"/>
<path d="M449 747 A25 8.5 0 0 0 498 747" stroke="#1a1a1a" stroke-width="1.0" fill="none"/>
<ellipse cx="601.6" cy="787.9" rx="15.6" ry="21.2" stroke="#1a1a1a" stroke-width="1.12" fill="#fff" transform="rotate(-22 601.6 787.9)"/>
<ellipse cx="598.2" cy="787.2" rx="15.6" ry="21.2" stroke="#1a1a1a" stroke-width="1.38" fill="#fff" transform="rotate(-22 598.2 787.2)"/>
<ellipse cx="597.6" cy="787.2" rx="13.2" ry="18.6" stroke="#1a1a1a" stroke-width="1.12" fill="#fff" transform="rotate(-22 597.6 787.2)"/>
<ellipse cx="598.4" cy="787.4" rx="11.6" ry="17" stroke="#1a1a1a" stroke-width="0.75" fill="none" transform="rotate(-22 598.4 787.4)"/>
<ellipse cx="662.3" cy="763.6" rx="18.3" ry="26.4" stroke="#1a1a1a" stroke-width="1.38" fill="#fff" transform="rotate(-15 662.3 763.6)"/>
<path d="M645 737.5 L656.5 738.3 M658 788.5 L669.5 789.2" stroke="#1a1a1a" stroke-width="1.38" fill="none"/>
<ellipse cx="659.8" cy="763.4" rx="18.3" ry="26.4" stroke="#1a1a1a" stroke-width="0.88" fill="none" transform="rotate(-15 659.8 763.4)"/>
<ellipse cx="650.8" cy="762.5" rx="18.3" ry="26.4" stroke="#1a1a1a" stroke-width="1.62" fill="#fff" transform="rotate(-15 650.8 762.5)"/>
<path d="M653.1 737.8 L662.6 738.7" stroke="#1a1a1a" stroke-width="1.12" fill="none"/>
<path d="M655.1 740 L662.1 740.8" stroke="#1a1a1a" stroke-width="0.75" fill="none"/>
<path d="M660.5 743.1 L670 744" stroke="#1a1a1a" stroke-width="1.12" fill="none"/>
<path d="M662.5 745.3 L669.5 746.1" stroke="#1a1a1a" stroke-width="0.75" fill="none"/>
<path d="M666.7 752.6 L676.2 753.5" stroke="#1a1a1a" stroke-width="1.12" fill="none"/>
<path d="M668.7 754.8 L675.7 755.6" stroke="#1a1a1a" stroke-width="0.75" fill="none"/>
<path d="M669.6 764.1 L679.1 765" stroke="#1a1a1a" stroke-width="1.12" fill="none"/>
<path d="M671.6 766.3 L678.6 767.1" stroke="#1a1a1a" stroke-width="0.75" fill="none"/>
<path d="M668.7 775.3 L678.2 776.2" stroke="#1a1a1a" stroke-width="1.12" fill="none"/>
<path d="M670.7 777.5 L677.7 778.3" stroke="#1a1a1a" stroke-width="0.75" fill="none"/>
<path d="M664.7 783.3 L674.2 784.2" stroke="#1a1a1a" stroke-width="1.12" fill="none"/>
<path d="M666.7 785.5 L673.7 786.3" stroke="#1a1a1a" stroke-width="0.75" fill="none"/>
<ellipse cx="651.4" cy="762.6" rx="15.6" ry="23.2" stroke="#1a1a1a" stroke-width="1.25" fill="#fff" transform="rotate(-15 651.4 762.6)"/>
<ellipse cx="652.4" cy="762.8" rx="14.6" ry="22" stroke="#1a1a1a" stroke-width="0.75" fill="none" transform="rotate(-15 652.4 762.8)"/>
<ellipse cx="653.5" cy="762.9" rx="13.8" ry="21.3" stroke="#1a1a1a" stroke-width="0.75" fill="none" transform="rotate(-15 653.5 762.9)"/>
<ellipse cx="654.6" cy="763.1" rx="13" ry="20.6" stroke="#1a1a1a" stroke-width="0.75" fill="none" transform="rotate(-15 654.6 763.1)"/>
<ellipse cx="655.7" cy="763.2" rx="12.2" ry="19.9" stroke="#1a1a1a" stroke-width="0.75" fill="none" transform="rotate(-15 655.7 763.2)"/>
<ellipse cx="656.8" cy="763.4" rx="11.4" ry="19.2" stroke="#1a1a1a" stroke-width="0.75" fill="none" transform="rotate(-15 656.8 763.4)"/>
<ellipse cx="657.5" cy="763.6" rx="10" ry="19.2" stroke="#1a1a1a" stroke-width="1.25" fill="#fff" transform="rotate(-15 657.5 763.6)"/>
<ellipse cx="523.1" cy="814.3" rx="13.4" ry="23.2" stroke="#1a1a1a" stroke-width="1.3" fill="#fff" transform="rotate(-10 523.1 814.3)"/>
<ellipse cx="521.6" cy="814.5" rx="13.4" ry="23.2" stroke="#1a1a1a" stroke-width="0.98" fill="#fff" transform="rotate(-10 521.6 814.5)"/>
<ellipse cx="520.1" cy="814.7" rx="13.4" ry="23.2" stroke="#1a1a1a" stroke-width="0.98" fill="#fff" transform="rotate(-10 520.1 814.7)"/>
<ellipse cx="518.6" cy="814.8" rx="13.4" ry="23.2" stroke="#1a1a1a" stroke-width="0.98" fill="#fff" transform="rotate(-10 518.6 814.8)"/>
<ellipse cx="517.1" cy="815" rx="13.4" ry="23.2" stroke="#1a1a1a" stroke-width="0.98" fill="#fff" transform="rotate(-10 517.1 815)"/>
<ellipse cx="515.6" cy="815.2" rx="13.4" ry="23.2" stroke="#1a1a1a" stroke-width="0.98" fill="#fff" transform="rotate(-10 515.6 815.2)"/>
<ellipse cx="514.1" cy="815.4" rx="13.4" ry="23.2" stroke="#1a1a1a" stroke-width="0.98" fill="#fff" transform="rotate(-10 514.1 815.4)"/>
<path d="M506.9 800.5 C510.9 794.5 514.9 791.5 518.4 791.5 C522.9 803.5 521.9 825.5 512.9 838.5 C509.9 838.5 506.9 837.5 504.9 836 Z" stroke="#1a1a1a" stroke-width="1.17" fill="#fff"/>
<path d="M510.9 804.5 C516.4 813.5 515.9 826.5 509.9 837.5" stroke="#1a1a1a" stroke-width="0.91" fill="none"/>
<path d="M447.3 845.5 L447.3 858.5 A26.6 9.5 0 0 0 500.5 858.5 L500.5 845.5 Z" stroke="#1a1a1a" stroke-width="1.3" fill="#222"/>
<path d="M448.3 848.5 A25.6 9.2 0 0 0 499.5 848.5" stroke="#999" stroke-width="0.59" fill="none"/>
<path d="M448.3 851.1 A25.6 9.2 0 0 0 499.5 851.1" stroke="#999" stroke-width="0.59" fill="none"/>
<path d="M448.3 853.7 A25.6 9.2 0 0 0 499.5 853.7" stroke="#999" stroke-width="0.59" fill="none"/>
<path d="M448.3 856.3 A25.6 9.2 0 0 0 499.5 856.3" stroke="#999" stroke-width="0.59" fill="none"/>
<path d="M448.3 858.9 A25.6 9.2 0 0 0 499.5 858.9" stroke="#999" stroke-width="0.59" fill="none"/>
<path d="M449.3 831.5 L449.3 846.5 A24.6 8.6 0 0 0 498.5 846.5 L498.5 831.5 Z" stroke="#1a1a1a" stroke-width="1.3" fill="#fff"/>
<path d="M447.3 846 A26.6 9.2 0 0 0 500.5 846" stroke="#1a1a1a" stroke-width="1.17" fill="none"/>
<path d="M440.9 801.5 L441.9 819.5 L448.9 825.5 L448.9 833.5 A25 8.5 0 0 0 498.9 833.5 L498.9 825.5 L506.9 821.5 L507.9 801.5 Z" stroke="#1a1a1a" stroke-width="1.3" fill="#fff"/>
<path d="M440.9 803.5 L440.9 819.5 Q443.9 825.5 446.9 819.5 L446.9 803.5" stroke="#1a1a1a" stroke-width="1.17" fill="#fff"/>
<path d="M449.9 807.5 L449.9 828.5 Q457.4 834.5 464.9 828.5 L464.9 807.5" stroke="#1a1a1a" stroke-width="1.17" fill="#fff"/>
<path d="M468.9 809.5 L468.9 831.5 Q473.4 837.5 477.9 831.5 L477.9 809.5" stroke="#1a1a1a" stroke-width="1.17" fill="#fff"/>
<path d="M483.9 807.5 L483.9 829.5 Q491.9 835.5 499.9 829.5 L499.9 807.5" stroke="#1a1a1a" stroke-width="1.17" fill="#fff"/>
<path d="M503.9 803.5 L503.9 820.5 Q506.4 826.5 508.9 820.5 L508.9 803.5" stroke="#1a1a1a" stroke-width="1.17" fill="#fff"/>
<path d="M493.9 808.5 L493.9 817.5 L497.9 809.5" stroke="#1a1a1a" stroke-width="1.04" fill="#1a1a1a"/>
<path d="M433.8 795.5 L433.8 797.7 A40.1 15.2 0 0 0 514 797.7 L514 795.5 Z" stroke="#1a1a1a" stroke-width="1.3" fill="#fff"/>
<ellipse cx="473.9" cy="795.5" rx="40.1" ry="15.2" stroke="#1a1a1a" stroke-width="1.56" fill="#fff"/>
<ellipse cx="473.9" cy="795.8" rx="37.7" ry="13.6" stroke="#1a1a1a" stroke-width="0.91" fill="none"/>
<ellipse cx="473.9" cy="796.7" rx="28" ry="10.6" stroke="#1a1a1a" stroke-width="1.04" fill="none"/>
<ellipse cx="473.9" cy="796.9" rx="24.9" ry="8.9" stroke="#1a1a1a" stroke-width="1.43" fill="#fff"/>
<clipPath id="cb1"><ellipse cx="473.9" cy="796.9" rx="24.4" ry="8.5"/></clipPath>
<g clip-path="url(#cb1)">
<ellipse cx="473.9" cy="796.9" rx="24.9" ry="8.9" stroke="none" stroke-width="0.0" fill="#555"/>
<ellipse cx="473.9" cy="808.5" rx="22" ry="8.5" stroke="none" stroke-width="0.0" fill="#fff"/>
<path d="M449 798.7 A24.9 8.9 0 0 1 498.8 798.7" stroke="#ddd" stroke-width="0.72" fill="none"/>
<path d="M449 800.4 A24.9 8.9 0 0 1 498.8 800.4" stroke="#ddd" stroke-width="0.72" fill="none"/>
<path d="M449 802.1 A24.9 8.9 0 0 1 498.8 802.1" stroke="#ddd" stroke-width="0.72" fill="none"/>
<path d="M449 803.8 A24.9 8.9 0 0 1 498.8 803.8" stroke="#ddd" stroke-width="0.72" fill="none"/>
<path d="M449 805.5 A24.9 8.9 0 0 1 498.8 805.5" stroke="#ddd" stroke-width="0.72" fill="none"/>
<path d="M449 807.2 A24.9 8.9 0 0 1 498.8 807.2" stroke="#ddd" stroke-width="0.72" fill="none"/>
<path d="M449 808.9 A24.9 8.9 0 0 1 498.8 808.9" stroke="#1a1a1a" stroke-width="0.72" fill="none"/>
</g>
<ellipse cx="473.9" cy="796.9" rx="24.9" ry="8.9" stroke="#1a1a1a" stroke-width="1.3" fill="none"/>
<ellipse cx="442.9" cy="791.9" rx="1.6" ry="0.8" stroke="#1a1a1a" stroke-width="0.78" fill="#fff"/>
<ellipse cx="460" cy="785.1" rx="1.6" ry="0.8" stroke="#1a1a1a" stroke-width="0.78" fill="#fff"/>
<ellipse cx="490.4" cy="785.6" rx="1.6" ry="0.8" stroke="#1a1a1a" stroke-width="0.78" fill="#fff"/>
<ellipse cx="504.9" cy="791.9" rx="1.6" ry="0.8" stroke="#1a1a1a" stroke-width="0.78" fill="#fff"/>
<ellipse cx="504.9" cy="800.1" rx="1.6" ry="0.8" stroke="#1a1a1a" stroke-width="0.78" fill="#fff"/>
<ellipse cx="442.9" cy="800.1" rx="1.6" ry="0.8" stroke="#1a1a1a" stroke-width="0.78" fill="#fff"/>
<path d="M433.3 1061.1 L501.8 1035.6 A34.2 13.5 0 0 0 454.8 1016 L386.3 1041.5 A34.2 13.5 0 0 0 433.3 1061.1 Z" stroke="#1a1a1a" stroke-width="1.3" fill="#e3e3e3"/>
<path d="M433.3 1059.3 L501.8 1033.8 A34.2 13.5 0 0 0 454.8 1014.2 L386.3 1039.7 A34.2 13.5 0 0 0 433.3 1059.3 Z" stroke="#1a1a1a" stroke-width="1.04" fill="#e3e3e3"/>
<path d="M431.9 1058.5 L500.4 1033 A32 12.5 0 0 0 456.2 1015 L387.7 1040.5 A32 12.5 0 0 0 431.9 1058.5 Z" stroke="#1a1a1a" stroke-width="1.04" fill="#e3e3e3"/>
<path d="M431.9 1058.5 L500.4 1033 A32 12.5 0 0 0 456.2 1015 L387.7 1040.5 A32 12.5 0 0 0 431.9 1058.5 Z" stroke="#e3e3e3" stroke-width="0.78" fill="#e3e3e3"/>
<path d="M431.9 1057.5 L500.4 1032 A32 12.5 0 0 0 456.2 1014 L387.7 1039.5 A32 12.5 0 0 0 431.9 1057.5 Z" stroke="#e3e3e3" stroke-width="0.78" fill="#e3e3e3"/>
<path d="M431.9 1056.5 L500.4 1031 A32 12.5 0 0 0 456.2 1013 L387.7 1038.5 A32 12.5 0 0 0 431.9 1056.5 Z" stroke="#e3e3e3" stroke-width="0.78" fill="#e3e3e3"/>
<path d="M431.9 1055.5 L500.4 1030 A32 12.5 0 0 0 456.2 1012 L387.7 1037.5 A32 12.5 0 0 0 431.9 1055.5 Z" stroke="#e3e3e3" stroke-width="0.78" fill="#e3e3e3"/>
<path d="M431.9 1054.5 L500.4 1029 A32 12.5 0 0 0 456.2 1011 L387.7 1036.5 A32 12.5 0 0 0 431.9 1054.5 Z" stroke="#e3e3e3" stroke-width="0.78" fill="#e3e3e3"/>
<path d="M431.9 1053.5 L500.4 1028 A32 12.5 0 0 0 456.2 1010 L387.7 1035.5 A32 12.5 0 0 0 431.9 1053.5 Z" stroke="#e3e3e3" stroke-width="0.78" fill="#e3e3e3"/>
<path d="M431.9 1052.5 L500.4 1027 A32 12.5 0 0 0 456.2 1009 L387.7 1034.5 A32 12.5 0 0 0 431.9 1052.5 Z" stroke="#e3e3e3" stroke-width="0.78" fill="#e3e3e3"/>
<path d="M431.9 1051.5 L500.4 1026 A32 12.5 0 0 0 456.2 1008 L387.7 1033.5 A32 12.5 0 0 0 431.9 1051.5 Z" stroke="#e3e3e3" stroke-width="0.78" fill="#e3e3e3"/>
<path d="M431.9 1050.5 L500.4 1025 A32 12.5 0 0 0 456.2 1007 L387.7 1032.5 A32 12.5 0 0 0 431.9 1050.5 Z" stroke="#e3e3e3" stroke-width="0.78" fill="#e3e3e3"/>
<path d="M431.9 1049.5 L500.4 1024 A32 12.5 0 0 0 456.2 1006 L387.7 1031.5 A32 12.5 0 0 0 431.9 1049.5 Z" stroke="#e3e3e3" stroke-width="0.78" fill="#e3e3e3"/>
<path d="M431.9 1048.5 L500.4 1023 A32 12.5 0 0 0 456.2 1005 L387.7 1030.5 A32 12.5 0 0 0 431.9 1048.5 Z" stroke="#e3e3e3" stroke-width="0.78" fill="#e3e3e3"/>
<path d="M431.9 1047.5 L500.4 1022 A32 12.5 0 0 0 456.2 1004 L387.7 1029.5 A32 12.5 0 0 0 431.9 1047.5 Z" stroke="#e3e3e3" stroke-width="0.78" fill="#e3e3e3"/>
<path d="M431.9 1046.5 L500.4 1021 A32 12.5 0 0 0 456.2 1003 L387.7 1028.5 A32 12.5 0 0 0 431.9 1046.5 Z" stroke="#e3e3e3" stroke-width="0.78" fill="#e3e3e3"/>
<path d="M431.9 1045.5 L500.4 1020 A32 12.5 0 0 0 456.2 1002 L387.7 1027.5 A32 12.5 0 0 0 431.9 1045.5 Z" stroke="#e3e3e3" stroke-width="0.78" fill="#e3e3e3"/>
<line x1="377.8" y1="1036" x2="377.8" y2="1049.5" stroke="#1a1a1a" stroke-width="1"/>
<line x1="510.3" y1="1010.5" x2="510.3" y2="1024" stroke="#1a1a1a" stroke-width="1"/>
<path d="M431.9 1045 L500.4 1019.5 A32 12.5 0 0 0 456.2 1001.5 L387.7 1027 A32 12.5 0 0 0 431.9 1045 Z" stroke="#1a1a1a" stroke-width="1.3" fill="#e3e3e3"/>
<path d="M429.9 1036.5 L497.9 1010.5 A28 10.6 0 0 0 458.1 995.5 L390.1 1021.5 A28 10.6 0 0 0 429.9 1036.5 Z" stroke="#1a1a1a" stroke-width="1.04" fill="#e3e3e3"/>
<path d="M383.6 1008.3 L383.6 1021.3 A26.2 10 0 0 0 436 1021.3 L436 1008.3 Z" stroke="#1a1a1a" stroke-width="1.3" fill="#e3e3e3"/>
<path d="M383.6 1010.3 A26.2 10 0 0 0 436 1010.3" stroke="#1a1a1a" stroke-width="1.17" fill="none"/>
<path d="M383.6 1012.9 A26.2 10 0 0 0 436 1012.9" stroke="#1a1a1a" stroke-width="1.17" fill="none"/>
<path d="M383.6 1015.5 A26.2 10 0 0 0 436 1015.5" stroke="#1a1a1a" stroke-width="1.17" fill="none"/>
<path d="M383.6 1018.1 A26.2 10 0 0 0 436 1018.1" stroke="#1a1a1a" stroke-width="1.17" fill="none"/>
<path d="M383.6 1020.7 A26.2 10 0 0 0 436 1020.7" stroke="#1a1a1a" stroke-width="1.17" fill="none"/>
<ellipse cx="409.8" cy="1008.3" rx="26.2" ry="10" stroke="#1a1a1a" stroke-width="1.43" fill="#e3e3e3"/>
<ellipse cx="409.8" cy="1008.8" rx="22.6" ry="8" stroke="#1a1a1a" stroke-width="2.08" fill="#e3e3e3"/>
<path d="M453.4 990 L453.4 1000 A24 9 0 0 0 501.4 1000 L501.4 990 Z" stroke="#1a1a1a" stroke-width="1.3" fill="#e3e3e3"/>
<path d="M449.6 988.5 A28 10.5 0 0 0 505.6 988.5 L505.6 991 A28 10.5 0 0 1 449.6 991 Z" stroke="#1a1a1a" stroke-width="1.17" fill="#e3e3e3"/>
<path d="M447.6 975.5 L447.6 988.5 A30 10.5 0 0 0 507.6 988.5 L507.6 975.5 Z" stroke="#1a1a1a" stroke-width="1.3" fill="#e3e3e3"/>
<ellipse cx="477.6" cy="975.5" rx="30" ry="10.5" stroke="#1a1a1a" stroke-width="1.3" fill="#e3e3e3"/>
<ellipse cx="477.6" cy="975.5" rx="27.8" ry="9.2" stroke="#1a1a1a" stroke-width="1.04" fill="none"/>
<path d="M452.3 993.8 L452.3 984.3 Q453.6 982.8 454.9 984.3 L454.9 993.8" stroke="#1a1a1a" stroke-width="1.04" fill="none"/>
<path d="M466.8 997.5 L466.8 988 Q468.1 986.5 469.4 988 L469.4 997.5" stroke="#1a1a1a" stroke-width="1.04" fill="none"/>
<path d="M485.8 997.5 L485.8 988 Q487.1 986.5 488.4 988 L488.4 997.5" stroke="#1a1a1a" stroke-width="1.04" fill="none"/>
<path d="M500.3 993.8 L500.3 984.3 Q501.6 982.8 502.9 984.3 L502.9 993.8" stroke="#1a1a1a" stroke-width="1.04" fill="none"/>
<ellipse cx="477.6" cy="974.5" rx="26.5" ry="8.6" stroke="#1a1a1a" stroke-width="1.04" fill="none"/>
<ellipse cx="477.6" cy="975.3" rx="25.7" ry="8.2" stroke="#1a1a1a" stroke-width="1.04" fill="none"/>
<ellipse cx="477.6" cy="976.1" rx="24.9" ry="7.8" stroke="#1a1a1a" stroke-width="1.04" fill="none"/>
<path d="M455.4 957 L455.4 973 A22 8.6 0 0 0 499.4 973 L499.4 957 Z" stroke="#1a1a1a" stroke-width="1.3" fill="#e3e3e3"/>
<path d="M455.4 968 A22 8.6 0 0 0 499.4 968" stroke="#1a1a1a" stroke-width="1.04" fill="none"/>
<ellipse cx="477.4" cy="957" rx="22" ry="8.6" stroke="#1a1a1a" stroke-width="1.43" fill="#e3e3e3"/>
<ellipse cx="477.4" cy="957.6" rx="19" ry="7" stroke="#1a1a1a" stroke-width="1.17" fill="#e3e3e3"/>
<path d="M453.7 938.2 L454.7 940.2 A22.7 10 0 0 0 500.1 940.2 L501.1 938.2 Z" stroke="#1a1a1a" stroke-width="1.17" fill="#e3e3e3"/>
<ellipse cx="477.4" cy="938.2" rx="23.7" ry="10.6" stroke="#1a1a1a" stroke-width="1.43" fill="#e3e3e3"/>
<ellipse cx="477.4" cy="939.5" rx="20.7" ry="8" stroke="#1a1a1a" stroke-width="1.17" fill="#e3e3e3"/>
<path d="M385.5 980.2 L386.5 982.2 A23.1 10 0 0 0 432.7 982.2 L433.7 980.2 Z" stroke="#1a1a1a" stroke-width="1.17" fill="#e3e3e3"/>
<ellipse cx="409.6" cy="980.2" rx="24.1" ry="10.6" stroke="#1a1a1a" stroke-width="1.43" fill="#e3e3e3"/>
<ellipse cx="409.6" cy="981.5" rx="21.1" ry="8" stroke="#1a1a1a" stroke-width="1.17" fill="#e3e3e3"/>
<path d="M383.1 954.5 A27.3 10.4 0 0 0 437.7 954.5 L437.7 957 A27.3 10.4 0 0 1 383.1 957 Z" stroke="#1a1a1a" stroke-width="1.17" fill="#e3e3e3"/>
<path d="M381.1 942 L381.1 954.5 A29.3 10.4 0 0 0 439.7 954.5 L439.7 942 Z" stroke="#1a1a1a" stroke-width="1.3" fill="#e3e3e3"/>
<ellipse cx="410.4" cy="942" rx="29.3" ry="10.4" stroke="#1a1a1a" stroke-width="1.3" fill="#e3e3e3"/>
<ellipse cx="410.4" cy="942" rx="27.1" ry="9.1" stroke="#1a1a1a" stroke-width="1.04" fill="none"/>
<ellipse cx="410.4" cy="942.6" rx="24.3" ry="7.8" stroke="#1a1a1a" stroke-width="1.17" fill="#e3e3e3"/>
<path d="M 341.1 924.3 L 405.4 894.9 C 418.9 890.2 432.4 902 432.1 930.8 L 433.1 946 L 422.3 951.9 L 395.2 952.8 L 386.8 949.4 L 358 963.2 Z" stroke="#1a1a1a" stroke-width="1.3" fill="#e3e3e3"/>
<path d="M 413.8 894.4 C 422.3 900.3 425.7 910.5 423.1 921.5 C 418.9 925.7 413.8 930.8 402 938.4" stroke="#1a1a1a" stroke-width="1.04" fill="none"/>
<path d="M 423.1 921.5 C 427.4 920.6 429.9 918.1 431.6 916.4" stroke="#1a1a1a" stroke-width="1.04" fill="none"/>
<path d="M 289 944.6 L 328.4 922.3 C 341.1 916.4 361.4 939.2 349.5 974.8 L 310.3 992.4 Z" stroke="#1a1a1a" stroke-width="1.3" fill="#e3e3e3"/>
<path d="M 325.8 923.7 C 342.8 918.1 363.9 944.3 347.5 976.4" stroke="#1a1a1a" stroke-width="1.17" fill="none"/>
<path d="M 320.8 926 C 339.4 922.3 356.3 947.7 343.1 978.1" stroke="#1a1a1a" stroke-width="1.17" fill="none"/>
<ellipse cx="298.8" cy="968" rx="17.2" ry="25.6" stroke="#1a1a1a" stroke-width="1.56" fill="#e3e3e3" transform="rotate(-24.4 298.8 968)"/>
<path d="M 292.8 943.5 C 312.3 946 324.1 968 314.3 990.8" stroke="#1a1a1a" stroke-width="1.04" fill="none"/>
<path d="M381.1 942 A29.3 10.4 0 0 0 439.7 942 L439.7 954.5 A29.3 10.4 0 0 1 381.1 954.5 Z" stroke="#1a1a1a" stroke-width="1.3" fill="#e3e3e3"/>
<path d="M383.3 942.6 A27.1 9.1 0 0 0 437.5 942.6" stroke="#1a1a1a" stroke-width="0.91" fill="none"/>
<path d="M385.1 959.5 L385.1 950.5 Q386.4 949 387.7 950.5 L387.7 959.5" stroke="#1a1a1a" stroke-width="1.04" fill="none"/>
<path d="M399.6 963.3 L399.6 954.3 Q400.9 952.8 402.2 954.3 L402.2 963.3" stroke="#1a1a1a" stroke-width="1.04" fill="none"/>
<path d="M418.6 963.3 L418.6 954.3 Q419.9 952.8 421.2 954.3 L421.2 963.3" stroke="#1a1a1a" stroke-width="1.04" fill="none"/>
<path d="M433.1 959.5 L433.1 950.5 Q434.4 949 435.7 950.5 L435.7 959.5" stroke="#1a1a1a" stroke-width="1.04" fill="none"/>
<path d="M824.7 1088.3 L891.7 1062 A31.5 12.4 0 0 0 847.3 1044.4 L780.3 1070.7 A31.5 12.4 0 0 0 824.7 1088.3 Z" stroke="#1a1a1a" stroke-width="1.3" fill="#e3e3e3"/>
<path d="M824.7 1086.5 L891.7 1060.2 A31.5 12.4 0 0 0 847.3 1042.6 L780.3 1068.9 A31.5 12.4 0 0 0 824.7 1086.5 Z" stroke="#1a1a1a" stroke-width="1.04" fill="#e3e3e3"/>
<path d="M823.4 1085.8 L890.4 1059.5 A29.5 11.5 0 0 0 848.6 1043.3 L781.6 1069.6 A29.5 11.5 0 0 0 823.4 1085.8 Z" stroke="#1a1a1a" stroke-width="1.04" fill="#e3e3e3"/>
<path d="M823.4 1085.8 L890.4 1059.5 A29.5 11.5 0 0 0 848.6 1043.3 L781.6 1069.6 A29.5 11.5 0 0 0 823.4 1085.8 Z" stroke="#e3e3e3" stroke-width="0.78" fill="#e3e3e3"/>
<path d="M823.4 1084.8 L890.4 1058.5 A29.5 11.5 0 0 0 848.6 1042.3 L781.6 1068.6 A29.5 11.5 0 0 0 823.4 1084.8 Z" stroke="#e3e3e3" stroke-width="0.78" fill="#e3e3e3"/>
<path d="M823.4 1083.8 L890.4 1057.5 A29.5 11.5 0 0 0 848.6 1041.3 L781.6 1067.6 A29.5 11.5 0 0 0 823.4 1083.8 Z" stroke="#e3e3e3" stroke-width="0.78" fill="#e3e3e3"/>
<path d="M823.4 1082.8 L890.4 1056.5 A29.5 11.5 0 0 0 848.6 1040.3 L781.6 1066.6 A29.5 11.5 0 0 0 823.4 1082.8 Z" stroke="#e3e3e3" stroke-width="0.78" fill="#e3e3e3"/>
<path d="M823.4 1081.8 L890.4 1055.5 A29.5 11.5 0 0 0 848.6 1039.3 L781.6 1065.6 A29.5 11.5 0 0 0 823.4 1081.8 Z" stroke="#e3e3e3" stroke-width="0.78" fill="#e3e3e3"/>
<path d="M823.4 1080.8 L890.4 1054.5 A29.5 11.5 0 0 0 848.6 1038.3 L781.6 1064.6 A29.5 11.5 0 0 0 823.4 1080.8 Z" stroke="#e3e3e3" stroke-width="0.78" fill="#e3e3e3"/>
<path d="M823.4 1079.8 L890.4 1053.5 A29.5 11.5 0 0 0 848.6 1037.3 L781.6 1063.6 A29.5 11.5 0 0 0 823.4 1079.8 Z" stroke="#e3e3e3" stroke-width="0.78" fill="#e3e3e3"/>
<path d="M823.4 1078.8 L890.4 1052.5 A29.5 11.5 0 0 0 848.6 1036.3 L781.6 1062.6 A29.5 11.5 0 0 0 823.4 1078.8 Z" stroke="#e3e3e3" stroke-width="0.78" fill="#e3e3e3"/>
<path d="M823.4 1077.8 L890.4 1051.5 A29.5 11.5 0 0 0 848.6 1035.3 L781.6 1061.6 A29.5 11.5 0 0 0 823.4 1077.8 Z" stroke="#e3e3e3" stroke-width="0.78" fill="#e3e3e3"/>
<path d="M823.4 1076.8 L890.4 1050.5 A29.5 11.5 0 0 0 848.6 1034.3 L781.6 1060.6 A29.5 11.5 0 0 0 823.4 1076.8 Z" stroke="#e3e3e3" stroke-width="0.78" fill="#e3e3e3"/>
<path d="M823.4 1075.8 L890.4 1049.5 A29.5 11.5 0 0 0 848.6 1033.3 L781.6 1059.6 A29.5 11.5 0 0 0 823.4 1075.8 Z" stroke="#e3e3e3" stroke-width="0.78" fill="#e3e3e3"/>
<path d="M823.4 1074.8 L890.4 1048.5 A29.5 11.5 0 0 0 848.6 1032.3 L781.6 1058.6 A29.5 11.5 0 0 0 823.4 1074.8 Z" stroke="#e3e3e3" stroke-width="0.78" fill="#e3e3e3"/>
<path d="M823.4 1073.8 L890.4 1047.5 A29.5 11.5 0 0 0 848.6 1031.3 L781.6 1057.6 A29.5 11.5 0 0 0 823.4 1073.8 Z" stroke="#e3e3e3" stroke-width="0.78" fill="#e3e3e3"/>
<path d="M823.4 1072.8 L890.4 1046.5 A29.5 11.5 0 0 0 848.6 1030.3 L781.6 1056.6 A29.5 11.5 0 0 0 823.4 1072.8 Z" stroke="#e3e3e3" stroke-width="0.78" fill="#e3e3e3"/>
<path d="M823.4 1071.8 L890.4 1045.5 A29.5 11.5 0 0 0 848.6 1029.3 L781.6 1055.6 A29.5 11.5 0 0 0 823.4 1071.8 Z" stroke="#e3e3e3" stroke-width="0.78" fill="#e3e3e3"/>
<path d="M823.4 1070.8 L890.4 1044.5 A29.5 11.5 0 0 0 848.6 1028.3 L781.6 1054.6 A29.5 11.5 0 0 0 823.4 1070.8 Z" stroke="#e3e3e3" stroke-width="0.78" fill="#e3e3e3"/>
<path d="M823.4 1069.8 L890.4 1043.5 A29.5 11.5 0 0 0 848.6 1027.3 L781.6 1053.6 A29.5 11.5 0 0 0 823.4 1069.8 Z" stroke="#e3e3e3" stroke-width="0.78" fill="#e3e3e3"/>
<path d="M823.4 1068.8 L890.4 1042.5 A29.5 11.5 0 0 0 848.6 1026.3 L781.6 1052.6 A29.5 11.5 0 0 0 823.4 1068.8 Z" stroke="#e3e3e3" stroke-width="0.78" fill="#e3e3e3"/>
<path d="M823.4 1067.8 L890.4 1041.5 A29.5 11.5 0 0 0 848.6 1025.3 L781.6 1051.6 A29.5 11.5 0 0 0 823.4 1067.8 Z" stroke="#e3e3e3" stroke-width="0.78" fill="#e3e3e3"/>
<path d="M823.4 1066.8 L890.4 1040.5 A29.5 11.5 0 0 0 848.6 1024.3 L781.6 1050.6 A29.5 11.5 0 0 0 823.4 1066.8 Z" stroke="#e3e3e3" stroke-width="0.78" fill="#e3e3e3"/>
<path d="M823.4 1065.8 L890.4 1039.5 A29.5 11.5 0 0 0 848.6 1023.3 L781.6 1049.6 A29.5 11.5 0 0 0 823.4 1065.8 Z" stroke="#e3e3e3" stroke-width="0.78" fill="#e3e3e3"/>
<line x1="773" y1="1057.3" x2="773" y2="1077.7" stroke="#1a1a1a" stroke-width="1"/>
<line x1="899" y1="1031" x2="899" y2="1051.4" stroke="#1a1a1a" stroke-width="1"/>
<path d="M823.4 1065.4 L890.4 1039.1 A29.5 11.5 0 0 0 848.6 1022.9 L781.6 1049.2 A29.5 11.5 0 0 0 823.4 1065.4 Z" stroke="#1a1a1a" stroke-width="1.3" fill="#e3e3e3"/>
<line x1="822.2" y1="1065" x2="822.2" y2="1086.5" stroke="#1a1a1a" stroke-width="1.0"/>
<ellipse cx="869.4" cy="1026.8" rx="26.2" ry="10.2" stroke="#1a1a1a" stroke-width="1.43" fill="#e3e3e3"/>
<ellipse cx="869.4" cy="1027.8" rx="23.3" ry="8.4" stroke="#1a1a1a" stroke-width="1.95" fill="#e3e3e3"/>
<path d="M843.2 1027 L843.2 1032 A26.2 10.2 0 0 0 895.6 1032 L895.6 1027" stroke="#1a1a1a" stroke-width="1.17" fill="none"/>
<path d="M778.2 1043.5 L778.2 1055.5 A24.8 9.5 0 0 0 827.8 1055.5 L827.8 1043.5 Z" stroke="#1a1a1a" stroke-width="1.3" fill="#222"/>
<path d="M778.8 1046.5 A24.2 9.3 0 0 0 827.2 1046.5" stroke="#aaa" stroke-width="0.65" fill="none"/>
<path d="M778.8 1049.3 A24.2 9.3 0 0 0 827.2 1049.3" stroke="#aaa" stroke-width="0.65" fill="none"/>
<path d="M778.8 1052.1 A24.2 9.3 0 0 0 827.2 1052.1" stroke="#aaa" stroke-width="0.65" fill="none"/>
<path d="M778.8 1054.9 A24.2 9.3 0 0 0 827.2 1054.9" stroke="#aaa" stroke-width="0.65" fill="none"/>
<ellipse cx="803" cy="1043.5" rx="24.8" ry="9.5" stroke="#1a1a1a" stroke-width="1.43" fill="#e3e3e3"/>
<ellipse cx="803" cy="1044.1" rx="21.4" ry="7.6" stroke="#1a1a1a" stroke-width="2.34" fill="#e3e3e3"/>
<path d="M786 1048 A19 6 0 0 0 820 1048" stroke="#1a1a1a" stroke-width="2.08" fill="none"/>
<ellipse cx="869.9" cy="981.2" rx="25.6" ry="10.2" stroke="#1a1a1a" stroke-width="2.34" fill="none"/>
<ellipse cx="869.9" cy="981.2" rx="23.2" ry="8.7" stroke="#999" stroke-width="0.65" fill="none"/>
<ellipse cx="869.9" cy="1005.4" rx="25.6" ry="10.2" stroke="#1a1a1a" stroke-width="2.34" fill="none"/>
<ellipse cx="869.9" cy="1005.4" rx="23.2" ry="8.7" stroke="#999" stroke-width="0.65" fill="none"/>
<path d="M776.5 1019.6 L777.5 1021.6 A23.2 9.6 0 0 0 823.9 1021.6 L824.9 1019.6 Z" stroke="#1a1a1a" stroke-width="1.17" fill="#e3e3e3"/>
<ellipse cx="800.7" cy="1019.6" rx="24.2" ry="10.2" stroke="#1a1a1a" stroke-width="1.43" fill="#e3e3e3"/>
<ellipse cx="800.7" cy="1020.9" rx="21.2" ry="7.6" stroke="#1a1a1a" stroke-width="1.17" fill="#e3e3e3"/>
<path d="M781 1024.5 L783 1027.5" stroke="#1a1a1a" stroke-width="1.04" fill="none"/>
<path d="M773.9 994 A27.3 10.4 0 0 0 828.5 994 L828.5 996.5 A27.3 10.4 0 0 1 773.9 996.5 Z" stroke="#1a1a1a" stroke-width="1.17" fill="#e3e3e3"/>
<path d="M771.9 981.5 L771.9 994 A29.3 10.4 0 0 0 830.5 994 L830.5 981.5 Z" stroke="#1a1a1a" stroke-width="1.3" fill="#e3e3e3"/>
<ellipse cx="801.2" cy="981.5" rx="29.3" ry="10.4" stroke="#1a1a1a" stroke-width="1.3" fill="#e3e3e3"/>
<ellipse cx="801.2" cy="981.5" rx="27.1" ry="9.1" stroke="#1a1a1a" stroke-width="1.04" fill="none"/>
<ellipse cx="801.2" cy="982.1" rx="24.3" ry="7.8" stroke="#1a1a1a" stroke-width="1.17" fill="#e3e3e3"/>
<path d="M 732.1 963.5 L 796.4 934.1 C 809.9 929.4 823.4 941.2 823.1 970 L 824.1 985.2 L 813.3 991.1 L 786.2 992 L 777.8 988.6 L 749 1002.4 Z" stroke="#1a1a1a" stroke-width="1.3" fill="#e3e3e3"/>
<path d="M 804.8 933.6 C 813.3 939.5 816.7 949.7 814.1 960.7 C 809.9 964.9 804.8 970 793 977.6" stroke="#1a1a1a" stroke-width="1.04" fill="none"/>
<path d="M 814.1 960.7 C 818.4 959.8 820.9 957.3 822.6 955.6" stroke="#1a1a1a" stroke-width="1.04" fill="none"/>
<path d="M 680 983.8 L 719.4 961.5 C 732.1 955.6 752.4 978.4 740.5 1014 L 701.3 1031.6 Z" stroke="#1a1a1a" stroke-width="1.3" fill="#e3e3e3"/>
<path d="M 716.8 962.9 C 733.8 957.3 754.9 983.5 738.5 1015.6" stroke="#1a1a1a" stroke-width="1.17" fill="none"/>
<path d="M 711.8 965.2 C 730.4 961.5 747.3 986.9 734.1 1017.3" stroke="#1a1a1a" stroke-width="1.17" fill="none"/>
<ellipse cx="689.8" cy="1007.2" rx="17.2" ry="25.6" stroke="#1a1a1a" stroke-width="1.56" fill="#e3e3e3" transform="rotate(-24.4 689.8 1007.2)"/>
<path d="M 683.8 982.7 C 703.3 985.2 715.1 1007.2 705.3 1030" stroke="#1a1a1a" stroke-width="1.04" fill="none"/>
<path d="M771.9 981.5 A29.3 10.4 0 0 0 830.5 981.5 L830.5 994 A29.3 10.4 0 0 1 771.9 994 Z" stroke="#1a1a1a" stroke-width="1.3" fill="#e3e3e3"/>
<path d="M774.1 982.1 A27.1 9.1 0 0 0 828.3 982.1" stroke="#1a1a1a" stroke-width="0.91" fill="none"/>
<path d="M775.9 999 L775.9 990 Q777.2 988.5 778.5 990 L778.5 999" stroke="#1a1a1a" stroke-width="1.04" fill="none"/>
<path d="M790.4 1002.8 L790.4 993.8 Q791.7 992.3 793 993.8 L793 1002.8" stroke="#1a1a1a" stroke-width="1.04" fill="none"/>
<path d="M809.4 1002.8 L809.4 993.8 Q810.7 992.3 812 993.8 L812 1002.8" stroke="#1a1a1a" stroke-width="1.04" fill="none"/>
<path d="M823.9 999 L823.9 990 Q825.2 988.5 826.5 990 L826.5 999" stroke="#1a1a1a" stroke-width="1.04" fill="none"/>
<ellipse cx="916" cy="904.8" rx="13" ry="22.5" stroke="#1a1a1a" stroke-width="1.3" fill="#e3e3e3" transform="rotate(-10 916 904.8)"/>
<ellipse cx="914.6" cy="905" rx="13" ry="22.5" stroke="#1a1a1a" stroke-width="0.98" fill="#e3e3e3" transform="rotate(-10 914.6 905)"/>
<ellipse cx="913.1" cy="905.2" rx="13" ry="22.5" stroke="#1a1a1a" stroke-width="0.98" fill="#e3e3e3" transform="rotate(-10 913.1 905.2)"/>
<ellipse cx="911.7" cy="905.4" rx="13" ry="22.5" stroke="#1a1a1a" stroke-width="0.98" fill="#e3e3e3" transform="rotate(-10 911.7 905.4)"/>
<ellipse cx="910.2" cy="905.5" rx="13" ry="22.5" stroke="#1a1a1a" stroke-width="0.98" fill="#e3e3e3" transform="rotate(-10 910.2 905.5)"/>
<ellipse cx="908.7" cy="905.7" rx="13" ry="22.5" stroke="#1a1a1a" stroke-width="0.98" fill="#e3e3e3" transform="rotate(-10 908.7 905.7)"/>
<ellipse cx="907.3" cy="905.9" rx="13" ry="22.5" stroke="#1a1a1a" stroke-width="0.98" fill="#e3e3e3" transform="rotate(-10 907.3 905.9)"/>
<path d="M900.3 891.5 C904.2 885.6 908.1 882.7 911.5 882.7 C915.8 894.4 914.9 915.7 906.1 928.3 C903.2 928.3 900.3 927.3 898.4 925.9 Z" stroke="#1a1a1a" stroke-width="1.17" fill="#e3e3e3"/>
<path d="M904.2 895.3 C909.5 904.1 909 916.7 903.2 927.3" stroke="#1a1a1a" stroke-width="0.91" fill="none"/>
<path d="M842.5 935.1 L842.5 947.7 A25.8 9.2 0 0 0 894.1 947.7 L894.1 935.1 Z" stroke="#1a1a1a" stroke-width="1.3" fill="#222"/>
<path d="M843.5 938 A24.8 8.9 0 0 0 893.1 938" stroke="#999" stroke-width="0.59" fill="none"/>
<path d="M843.5 940.5 A24.8 8.9 0 0 0 893.1 940.5" stroke="#999" stroke-width="0.59" fill="none"/>
<path d="M843.5 943.1 A24.8 8.9 0 0 0 893.1 943.1" stroke="#999" stroke-width="0.59" fill="none"/>
<path d="M843.5 945.6 A24.8 8.9 0 0 0 893.1 945.6" stroke="#999" stroke-width="0.59" fill="none"/>
<path d="M843.5 948.1 A24.8 8.9 0 0 0 893.1 948.1" stroke="#999" stroke-width="0.59" fill="none"/>
<path d="M844.4 921.5 L844.4 936.1 A23.9 8.3 0 0 0 892.2 936.1 L892.2 921.5 Z" stroke="#1a1a1a" stroke-width="1.3" fill="#e3e3e3"/>
<path d="M842.5 935.6 A25.8 8.9 0 0 0 894.1 935.6" stroke="#1a1a1a" stroke-width="1.17" fill="none"/>
<path d="M836.3 892.4 L837.3 909.9 L844 915.7 L844 923.5 A24.2 8.2 0 0 0 892.5 923.5 L892.5 915.7 L900.3 911.8 L901.3 892.4 Z" stroke="#1a1a1a" stroke-width="1.3" fill="#e3e3e3"/>
<path d="M836.3 894.4 L836.3 909.9 Q839.2 915.7 842.1 909.9 L842.1 894.4" stroke="#1a1a1a" stroke-width="1.17" fill="#e3e3e3"/>
<path d="M845 898.2 L845 918.6 Q852.3 924.4 859.6 918.6 L859.6 898.2" stroke="#1a1a1a" stroke-width="1.17" fill="#e3e3e3"/>
<path d="M863.4 900.2 L863.4 921.5 Q867.8 927.3 872.2 921.5 L872.2 900.2" stroke="#1a1a1a" stroke-width="1.17" fill="#e3e3e3"/>
<path d="M878 898.2 L878 919.6 Q885.8 925.4 893.5 919.6 L893.5 898.2" stroke="#1a1a1a" stroke-width="1.17" fill="#e3e3e3"/>
<path d="M897.4 894.4 L897.4 910.9 Q899.8 916.7 902.2 910.9 L902.2 894.4" stroke="#1a1a1a" stroke-width="1.17" fill="#e3e3e3"/>
<path d="M887.7 899.2 L887.7 907.9 L891.6 900.2" stroke="#1a1a1a" stroke-width="1.04" fill="#1a1a1a"/>
<path d="M829.4 886.6 L829.4 888.7 A38.9 14.7 0 0 0 907.2 888.7 L907.2 886.6 Z" stroke="#1a1a1a" stroke-width="1.3" fill="#e3e3e3"/>
<ellipse cx="868.3" cy="886.6" rx="38.9" ry="14.7" stroke="#1a1a1a" stroke-width="1.56" fill="#e3e3e3"/>
<ellipse cx="868.3" cy="886.9" rx="36.6" ry="13.2" stroke="#1a1a1a" stroke-width="0.91" fill="none"/>
<ellipse cx="868.3" cy="887.8" rx="27.2" ry="10.3" stroke="#1a1a1a" stroke-width="1.04" fill="none"/>
<ellipse cx="868.3" cy="888" rx="24.2" ry="8.6" stroke="#1a1a1a" stroke-width="1.43" fill="#e3e3e3"/>
<clipPath id="cb2"><ellipse cx="868.3" cy="888" rx="23.7" ry="8.2"/></clipPath>
<g clip-path="url(#cb2)">
<ellipse cx="868.3" cy="888" rx="24.2" ry="8.6" stroke="none" stroke-width="0.0" fill="#555"/>
<ellipse cx="868.3" cy="899.2" rx="21.3" ry="8.2" stroke="none" stroke-width="0.0" fill="#e3e3e3"/>
<path d="M844.1 889.7 A24.2 8.6 0 0 1 892.5 889.7" stroke="#ddd" stroke-width="0.72" fill="none"/>
<path d="M844.1 891.4 A24.2 8.6 0 0 1 892.5 891.4" stroke="#ddd" stroke-width="0.72" fill="none"/>
<path d="M844.1 893 A24.2 8.6 0 0 1 892.5 893" stroke="#ddd" stroke-width="0.72" fill="none"/>
<path d="M844.1 894.7 A24.2 8.6 0 0 1 892.5 894.7" stroke="#ddd" stroke-width="0.72" fill="none"/>
<path d="M844.1 896.3 A24.2 8.6 0 0 1 892.5 896.3" stroke="#ddd" stroke-width="0.72" fill="none"/>
<path d="M844.1 897.9 A24.2 8.6 0 0 1 892.5 897.9" stroke="#ddd" stroke-width="0.72" fill="none"/>
<path d="M844.1 899.6 A24.2 8.6 0 0 1 892.5 899.6" stroke="#1a1a1a" stroke-width="0.72" fill="none"/>
</g>
<ellipse cx="868.3" cy="888" rx="24.2" ry="8.6" stroke="#1a1a1a" stroke-width="1.3" fill="none"/>
<ellipse cx="838.2" cy="883.1" rx="1.6" ry="0.8" stroke="#1a1a1a" stroke-width="0.78" fill="#e3e3e3"/>
<ellipse cx="854.8" cy="876.6" rx="1.6" ry="0.8" stroke="#1a1a1a" stroke-width="0.78" fill="#e3e3e3"/>
<ellipse cx="884.3" cy="877" rx="1.6" ry="0.8" stroke="#1a1a1a" stroke-width="0.78" fill="#e3e3e3"/>
<ellipse cx="898.4" cy="883.1" rx="1.6" ry="0.8" stroke="#1a1a1a" stroke-width="0.78" fill="#e3e3e3"/>
<ellipse cx="898.4" cy="891.1" rx="1.6" ry="0.8" stroke="#1a1a1a" stroke-width="0.78" fill="#e3e3e3"/>
<ellipse cx="838.2" cy="891.1" rx="1.6" ry="0.8" stroke="#1a1a1a" stroke-width="0.78" fill="#e3e3e3"/>
<line x1="262.3" y1="164.3" x2="236.9" y2="189.7" stroke="#b5202e" stroke-width="1"/>
<line x1="176" y1="221.8" x2="161.8" y2="224.5" stroke="#b5202e" stroke-width="1"/>
<line x1="177.7" y1="247.9" x2="143.8" y2="265.8" stroke="#b5202e" stroke-width="1"/>
<line x1="206.4" y1="276.6" x2="198" y2="291.2" stroke="#b5202e" stroke-width="1"/>
<line x1="281" y1="422.8" x2="282.8" y2="470" stroke="#b5202e" stroke-width="1"/>
<line x1="131" y1="499.7" x2="172.4" y2="491" stroke="#b5202e" stroke-width="1"/>
<line x1="113.1" y1="579" x2="153.4" y2="565.9" stroke="#b5202e" stroke-width="1"/>
<line x1="223.4" y1="614.1" x2="184.5" y2="627.9" stroke="#b5202e" stroke-width="1"/>
<line x1="124.1" y1="629.7" x2="117.9" y2="614.8" stroke="#b5202e" stroke-width="1"/>
<line x1="56.9" y1="704.5" x2="81" y2="675.5" stroke="#b5202e" stroke-width="1"/>
<line x1="229.3" y1="731.4" x2="217.2" y2="700.3" stroke="#b5202e" stroke-width="1"/>
<line x1="437.3" y1="189.7" x2="453.2" y2="216.8" stroke="#b5202e" stroke-width="1"/>
<line x1="555.4" y1="169.4" x2="592.6" y2="304.7" stroke="#b5202e" stroke-width="1"/>
<line x1="428.5" y1="307.1" x2="471.2" y2="282.7" stroke="#b5202e" stroke-width="1"/>
<line x1="460" y1="346.4" x2="476.9" y2="344.3" stroke="#b5202e" stroke-width="1"/>
<line x1="425.1" y1="378.2" x2="449.8" y2="393.7" stroke="#b5202e" stroke-width="1"/>
<line x1="649.5" y1="247.2" x2="659.6" y2="303" stroke="#b5202e" stroke-width="1"/>
<line x1="616.3" y1="396.1" x2="608.2" y2="352.1" stroke="#b5202e" stroke-width="1"/>
<line x1="686.6" y1="298.6" x2="773.1" y2="399.4" stroke="#b5202e" stroke-width="1"/>
<line x1="905.3" y1="38" x2="941.4" y2="71.3" stroke="#b5202e" stroke-width="1"/>
<line x1="762.7" y1="102.2" x2="722.2" y2="114.1" stroke="#b5202e" stroke-width="1"/>
<line x1="822.1" y1="180.7" x2="795.9" y2="233" stroke="#b5202e" stroke-width="1"/>
<line x1="749.3" y1="205.4" x2="730.3" y2="249.6" stroke="#b5202e" stroke-width="1"/>
<line x1="900.6" y1="297.2" x2="880.6" y2="275.8" stroke="#b5202e" stroke-width="1"/>
<line x1="819.7" y1="340" x2="755.5" y2="295.8" stroke="#b5202e" stroke-width="1"/>
<line x1="642.8" y1="498.7" x2="612.4" y2="503.2" stroke="#b5202e" stroke-width="1"/>
<line x1="419.2" y1="548.1" x2="449.6" y2="512.7" stroke="#b5202e" stroke-width="1"/>
<line x1="517.3" y1="560.3" x2="491.4" y2="534.4" stroke="#b5202e" stroke-width="1"/>
<line x1="451.9" y1="596.4" x2="466" y2="587.6" stroke="#b5202e" stroke-width="1"/>
<line x1="620.7" y1="585" x2="568.6" y2="591.4" stroke="#b5202e" stroke-width="1"/>
<line x1="591.4" y1="655.3" x2="558.4" y2="643.9" stroke="#b5202e" stroke-width="1"/>
<line x1="677.8" y1="712.4" x2="665.6" y2="739.7" stroke="#b5202e" stroke-width="1"/>
<line x1="536.3" y1="730.6" x2="504" y2="742" stroke="#b5202e" stroke-width="1"/>
<line x1="618.1" y1="813.1" x2="607.8" y2="797.9" stroke="#b5202e" stroke-width="1"/>
<line x1="772.8" y1="811.8" x2="787.4" y2="805.2" stroke="#b5202e" stroke-width="1"/>
<line x1="562.9" y1="856.8" x2="523" y2="826.4" stroke="#b5202e" stroke-width="1"/>
<line x1="460.5" y1="899.8" x2="435.7" y2="939.6" stroke="#b5202e" stroke-width="1"/>
<line x1="512.9" y1="926.6" x2="495" y2="941.7" stroke="#b5202e" stroke-width="1"/>
<line x1="539.7" y1="978.2" x2="501.9" y2="986.3" stroke="#b5202e" stroke-width="1"/>
<line x1="349.6" y1="1000.6" x2="388.2" y2="980.3" stroke="#b5202e" stroke-width="1"/>
<line x1="795.4" y1="920.2" x2="810.9" y2="988.4" stroke="#b5202e" stroke-width="1"/>
<line x1="734.9" y1="1042" x2="782.4" y2="1024.9" stroke="#b5202e" stroke-width="1"/>
<line x1="540.5" y1="1079.7" x2="520.2" y2="1044.4" stroke="#1a1a1a" stroke-width="1"/>
<line x1="938" y1="1101.3" x2="911.6" y2="1059.4" stroke="#1a1a1a" stroke-width="1"/>
<line x1="140.3" y1="602.1" x2="160" y2="585.5" stroke="#1a1a1a" stroke-width="1.2"/>
<path d="M163.5 582.5 L160.8 589 L156.3 584 Z" stroke="#1a1a1a" stroke-width="0.5" fill="#1a1a1a"/>
<text x="151.3" y="159.2" font-size="18.3" fill="#b5202e" font-weight="normal" textLength="37.2" lengthAdjust="spacingAndGlyphs">2019</text>
<text x="218.3" y="140.6" font-size="13.4" fill="#b5202e" font-weight="normal" textLength="127.6" lengthAdjust="spacingAndGlyphs">(A504CKM, A505CKM,</text>
<text x="220" y="157.5" font-size="13.4" fill="#b5202e" font-weight="normal" textLength="123.5" lengthAdjust="spacingAndGlyphs">A507CKM, A516CKM)</text>
<text x="179.6" y="227.4" font-size="18.3" fill="#b5202e" font-weight="normal" textLength="76.7" lengthAdjust="spacingAndGlyphs">S0513-ND</text>
<text x="179.6" y="252" font-size="18.3" fill="#b5202e" font-weight="normal" textLength="76.7" lengthAdjust="spacingAndGlyphs">S1402-ND</text>
<text x="178.9" y="275.3" font-size="18.3" fill="#b5202e" font-weight="normal" textLength="75.4" lengthAdjust="spacingAndGlyphs">S1404-ND</text>
<text x="243.1" y="420.3" font-size="18.3" fill="#b5202e" font-weight="normal" textLength="75.9" lengthAdjust="spacingAndGlyphs">S0036-ND</text>
<text x="43.1" y="506.6" font-size="18.3" fill="#b5202e" font-weight="normal" textLength="86.2" lengthAdjust="spacingAndGlyphs">S0036K-ND</text>
<text x="126.9" y="540" font-size="18.3" fill="#b5202e" font-weight="normal" textLength="75.9" lengthAdjust="spacingAndGlyphs">until 2019</text>
<text x="75.2" y="591.7" font-size="18.3" fill="#b5202e" font-weight="normal" textLength="76.5" lengthAdjust="spacingAndGlyphs">S0986-ND</text>
<text x="192" y="610.7" font-size="18.3" fill="#b5202e" font-weight="normal" textLength="76.3" lengthAdjust="spacingAndGlyphs">S0525-ND</text>
<text x="78.6" y="644.5" font-size="18.3" fill="#b5202e" font-weight="normal" textLength="75.9" lengthAdjust="spacingAndGlyphs">S0513-ND</text>
<text x="17.2" y="722.8" font-size="18.3" fill="#b5202e" font-weight="normal" textLength="76.6" lengthAdjust="spacingAndGlyphs">S0453-ND</text>
<text x="0" y="738.3" font-size="13.4" fill="#b5202e" font-weight="normal" textLength="111" lengthAdjust="spacingAndGlyphs">(A504KM, A505KM,</text>
<text x="2.8" y="755.5" font-size="13.4" fill="#b5202e" font-weight="normal" textLength="107.5" lengthAdjust="spacingAndGlyphs">A507KM, A516KM)</text>
<text x="166.6" y="749.7" font-size="18.3" fill="#b5202e" font-weight="normal" textLength="132.7" lengthAdjust="spacingAndGlyphs">S0453-BLACK-ND</text>
<text x="193.8" y="763.4" font-size="13.4" fill="#b5202e" font-weight="normal" textLength="80.3" lengthAdjust="spacingAndGlyphs">(A507BLACK )</text>
<text x="519.9" y="134.9" font-size="18.3" fill="#b5202e" font-weight="normal" textLength="76.5" lengthAdjust="spacingAndGlyphs">S0460-ND</text>
<text x="498.2" y="150.1" font-size="13.4" fill="#b5202e" font-weight="normal" textLength="119.8" lengthAdjust="spacingAndGlyphs">(A504CKM, A504KM,</text>
<text x="500.6" y="167" font-size="13.4" fill="#b5202e" font-weight="normal" textLength="116.1" lengthAdjust="spacingAndGlyphs">A507CKM, A507KM)</text>
<text x="405.2" y="169.4" font-size="18.3" fill="#b5202e" font-weight="normal" textLength="67.6" lengthAdjust="spacingAndGlyphs">P140-ND</text>
<text x="405.2" y="184.6" font-size="13.4" fill="#b5202e" font-weight="normal" textLength="65.6" lengthAdjust="spacingAndGlyphs">(A505CRM)</text>
<text x="377.7" y="323.4" font-size="18.3" fill="#b5202e" font-weight="normal" textLength="76.5" lengthAdjust="spacingAndGlyphs">S0082-ND</text>
<text x="379.8" y="352.1" font-size="18.3" fill="#b5202e" font-weight="normal" textLength="76.1" lengthAdjust="spacingAndGlyphs">S0454-ND</text>
<text x="383.2" y="374.8" font-size="18.3" fill="#b5202e" font-weight="normal" textLength="76.8" lengthAdjust="spacingAndGlyphs">S0440-ND</text>
<text x="611.3" y="244.8" font-size="18.3" fill="#b5202e" font-weight="normal" textLength="76.4" lengthAdjust="spacingAndGlyphs">S0399-ND</text>
<text x="556.4" y="413" font-size="18.3" fill="#b5202e" font-weight="normal" textLength="132" lengthAdjust="spacingAndGlyphs">S0460-BLACK-ND</text>
<text x="582.8" y="427.6" font-size="13.4" fill="#b5202e" font-weight="normal" textLength="75.8" lengthAdjust="spacingAndGlyphs">(A507BLACK)</text>
<text x="871" y="21.4" font-size="18.3" fill="#b5202e" font-weight="normal" textLength="68.5" lengthAdjust="spacingAndGlyphs">P172-ND</text>
<text x="871" y="35.7" font-size="13.4" fill="#b5202e" font-weight="normal" textLength="67.6" lengthAdjust="spacingAndGlyphs">(A516 CKM)</text>
<text x="790.2" y="91.3" font-size="18.3" fill="#b5202e" font-weight="normal" textLength="77.1" lengthAdjust="spacingAndGlyphs">S0446-ND</text>
<text x="771.2" y="107" font-size="13.4" fill="#b5202e" font-weight="normal" textLength="118.9" lengthAdjust="spacingAndGlyphs">(A505CKM, A505KM,</text>
<text x="800.7" y="123.6" font-size="13.4" fill="#b5202e" font-weight="normal" textLength="60.9" lengthAdjust="spacingAndGlyphs">A505CRM)</text>
<text x="789.8" y="176.9" font-size="18.3" fill="#b5202e" font-weight="normal" textLength="76" lengthAdjust="spacingAndGlyphs">S0085-ND</text>
<text x="715.1" y="203" font-size="18.3" fill="#b5202e" font-weight="normal" textLength="76.1" lengthAdjust="spacingAndGlyphs">S0461-ND</text>
<text x="869.6" y="312.9" font-size="18.3" fill="#b5202e" font-weight="normal" textLength="76.6" lengthAdjust="spacingAndGlyphs">S0109-ND</text>
<text x="821.1" y="347.1" font-size="18.3" fill="#b5202e" font-weight="normal" textLength="132.7" lengthAdjust="spacingAndGlyphs">S0461-BLACK-ND</text>
<text x="853" y="361.4" font-size="13.4" fill="#b5202e" font-weight="normal" textLength="77" lengthAdjust="spacingAndGlyphs">(A507BLACK)</text>
<text x="734.1" y="412.7" font-size="18.3" fill="#b5202e" font-weight="normal" textLength="76.1" lengthAdjust="spacingAndGlyphs">S0457-ND</text>
<text x="709.4" y="426.5" font-size="13.4" fill="#b5202e" font-weight="normal" textLength="119.8" lengthAdjust="spacingAndGlyphs">(A504CKM, A504KM,</text>
<text x="711.8" y="443.7" font-size="13.4" fill="#b5202e" font-weight="normal" textLength="116" lengthAdjust="spacingAndGlyphs">A507CKM, A507KM,</text>
<text x="732.7" y="461.2" font-size="13.4" fill="#b5202e" font-weight="normal" textLength="72.7" lengthAdjust="spacingAndGlyphs">A507BLACK)</text>
<text x="430.6" y="485" font-size="18.3" fill="#b5202e" font-weight="normal" textLength="79.9" lengthAdjust="spacingAndGlyphs">since 2020</text>
<text x="644.7" y="504" font-size="18.3" fill="#b5202e" font-weight="normal" textLength="76" lengthAdjust="spacingAndGlyphs">S1522-ND</text>
<text x="380.4" y="564.1" font-size="18.3" fill="#b5202e" font-weight="normal" textLength="75.3" lengthAdjust="spacingAndGlyphs">S1566-ND</text>
<text x="488.8" y="577.4" font-size="18.3" fill="#b5202e" font-weight="normal" textLength="76" lengthAdjust="spacingAndGlyphs">S0513-ND</text>
<text x="375.9" y="602.9" font-size="18.3" fill="#b5202e" font-weight="normal" textLength="76" lengthAdjust="spacingAndGlyphs">S1567-ND</text>
<text x="621.9" y="589.5" font-size="18.3" fill="#b5202e" font-weight="normal" textLength="87.4" lengthAdjust="spacingAndGlyphs">S1425A-ND</text>
<text x="593.3" y="604.8" font-size="13.4" fill="#b5202e" font-weight="normal" textLength="127.4" lengthAdjust="spacingAndGlyphs">(A504CKM, A505CKM,</text>
<text x="595.2" y="621.9" font-size="13.4" fill="#b5202e" font-weight="normal" textLength="123.6" lengthAdjust="spacingAndGlyphs">A507CKM, A516CKM)</text>
<text x="592.6" y="661.8" font-size="18.3" fill="#b5202e" font-weight="normal" textLength="132.7" lengthAdjust="spacingAndGlyphs">S1425-BLACK-ND</text>
<text x="617.3" y="675.1" font-size="13.4" fill="#b5202e" font-weight="normal" textLength="79.5" lengthAdjust="spacingAndGlyphs">(A507BLACK )</text>
<text x="647.3" y="707.4" font-size="18.3" fill="#b5202e" font-weight="normal" textLength="76.1" lengthAdjust="spacingAndGlyphs">S0003-ND</text>
<text x="538.2" y="735.9" font-size="18.3" fill="#b5202e" font-weight="normal" textLength="76.1" lengthAdjust="spacingAndGlyphs">S0447-ND</text>
<text x="581.9" y="829.5" font-size="18.3" fill="#b5202e" font-weight="normal" textLength="75.3" lengthAdjust="spacingAndGlyphs">S1182-ND</text>
<text x="694.1" y="821.9" font-size="18.3" fill="#b5202e" font-weight="normal" textLength="76.1" lengthAdjust="spacingAndGlyphs">S0008-ND</text>
<text x="714.3" y="834.8" font-size="13.4" fill="#b5202e" font-weight="normal" textLength="33" lengthAdjust="spacingAndGlyphs">(OLD)</text>
<text x="529.5" y="873.2" font-size="18.3" fill="#b5202e" font-weight="normal" textLength="76" lengthAdjust="spacingAndGlyphs">S0437-ND</text>
<text x="429.6" y="898.2" font-size="18.3" fill="#b5202e" font-weight="normal" textLength="76.4" lengthAdjust="spacingAndGlyphs">S0004-ND</text>
<text x="488.5" y="924.2" font-size="18.3" fill="#b5202e" font-weight="normal" textLength="76.4" lengthAdjust="spacingAndGlyphs">S0009-ND</text>
<text x="512.1" y="975.4" font-size="18.3" fill="#b5202e" font-weight="normal" textLength="76.4" lengthAdjust="spacingAndGlyphs">S0004-ND</text>
<text x="300.1" y="1014" font-size="18.3" fill="#b5202e" font-weight="normal" textLength="75.9" lengthAdjust="spacingAndGlyphs">S0009-ND</text>
<text x="752.8" y="917.3" font-size="18.3" fill="#b5202e" font-weight="normal" textLength="76.7" lengthAdjust="spacingAndGlyphs">S0004-ND</text>
<text x="693.1" y="1057.4" font-size="18.3" fill="#b5202e" font-weight="normal" textLength="75.9" lengthAdjust="spacingAndGlyphs">S0009-ND</text>
<text x="599.8" y="842.4" font-size="13.4" fill="#b5202e" font-weight="bold" textLength="38" lengthAdjust="spacingAndGlyphs">(NEW)</text>
<text x="495" y="1097.2" font-size="18.3" fill="#1a1a1a" font-weight="bold" textLength="84.1" lengthAdjust="spacingAndGlyphs">A53-DN50</text>
<text x="411.4" y="1110.2" font-size="13.4" fill="#1a1a1a" font-weight="normal" textLength="235.9" lengthAdjust="spacingAndGlyphs">(A504CKM, A504KM, A505CKM, A505KM</text>
<text x="439" y="1126.4" font-size="13.4" fill="#1a1a1a" font-weight="normal" textLength="180.7" lengthAdjust="spacingAndGlyphs">A505CRM, A516CKM, A516KM)</text>
<text x="918.5" y="1115.5" font-size="18.3" fill="#1a1a1a" font-weight="bold" textLength="40.6" lengthAdjust="spacingAndGlyphs">A531</text>
<text x="839.3" y="1128.5" font-size="13.4" fill="#1a1a1a" font-weight="normal" textLength="195.7" lengthAdjust="spacingAndGlyphs">(A507BLACK, A507CKM, A507KM)</text>
</svg>
</body></html>
